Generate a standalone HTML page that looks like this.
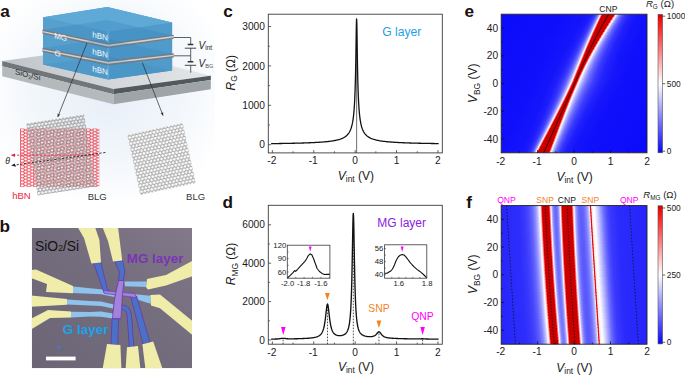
<!DOCTYPE html>
<html><head><meta charset="utf-8"><title>figure</title>
<style>
html,body{margin:0;padding:0;background:#fff;}
svg{display:block;font-family:"Liberation Sans", sans-serif;}
text{font-family:"Liberation Sans", sans-serif;}
</style></head><body>
<svg width="685" height="375" viewBox="0 0 685 375">
<rect width="685" height="375" fill="#ffffff"/>
<text x="223.2" y="17.2" font-size="17.2" font-weight="bold" fill="#1a1010">c</text>
<path d="M356.6 152.9 V22.56" stroke="#7c7c7c" stroke-width="1.1"/>
<path d="M271.11 143.63L271.94 143.62L272.76 143.61L273.59 143.6L274.42 143.59L275.25 143.58L276.08 143.57L276.9 143.55L277.73 143.54L278.56 143.53L279.39 143.52L280.22 143.5L281.04 143.49L281.87 143.48L282.7 143.46L283.53 143.45L284.36 143.44L285.18 143.42L286.01 143.41L286.84 143.39L287.67 143.37L288.5 143.36L289.32 143.34L290.15 143.33L290.98 143.31L291.81 143.29L292.64 143.27L293.46 143.25L294.29 143.23L295.12 143.21L295.95 143.19L296.78 143.17L297.6 143.15L298.43 143.13L299.26 143.11L300.09 143.08L300.92 143.06L301.74 143.03L302.57 143.01L303.4 142.98L304.23 142.96L305.06 142.93L305.88 142.9L306.71 142.87L307.54 142.84L308.37 142.81L309.2 142.77L310.02 142.74L310.85 142.7L311.68 142.67L312.51 142.63L313.34 142.59L314.16 142.55L314.99 142.5L315.82 142.46L316.65 142.41L317.48 142.37L318.3 142.32L319.13 142.26L319.96 142.21L320.79 142.15L321.62 142.09L322.44 142.03L323.27 141.96L324.1 141.89L324.93 141.82L325.76 141.74L326.58 141.66L327.41 141.57L328.24 141.48L329.07 141.38L329.9 141.28L330.72 141.17L331.55 141.05L332.38 140.93L333.21 140.8L334.04 140.65L334.86 140.5L335.69 140.33L336.52 140.15L337.35 139.96L338.18 139.75L339 139.51L339.83 139.26L340.66 138.98L341.49 138.66L342.32 138.31L343.14 137.92L343.97 137.48L344.8 136.97L345.63 136.39L346.46 135.72L347.28 134.92L348.11 133.98L348.94 132.83L349.11 132.57L349.27 132.29L349.44 132.01L349.6 131.71L349.77 131.4L349.93 131.08L350.1 130.73L350.26 130.37L350.43 129.99L350.6 129.59L350.76 129.17L350.93 128.72L351.09 128.25L351.26 127.75L351.42 127.22L351.59 126.65L351.76 126.05L351.92 125.4L352.09 124.71L352.25 123.97L352.42 123.18L352.58 122.31L352.75 121.38L352.91 120.37L353.08 119.28L353.25 118.07L353.41 116.76L353.58 115.31L353.74 113.7L353.91 111.92L354.07 109.93L354.24 107.7L354.4 105.17L354.57 102.29L354.74 99L354.9 95.21L355.07 90.79L355.23 85.63L355.4 79.56L355.56 72.4L355.73 63.99L355.9 54.27L356.06 43.49L356.23 32.58L356.39 23.47L356.56 18.83L356.72 20.43L356.89 27.64L357.05 37.96L357.22 48.97L357.39 59.28L357.55 68.36L357.72 76.13L357.88 82.72L358.05 88.32L358.21 93.08L358.38 97.17L358.54 100.71L358.71 103.78L358.88 106.47L359.04 108.85L359.21 110.96L359.37 112.84L359.54 114.53L359.7 116.05L359.87 117.43L360.04 118.69L360.2 119.84L360.37 120.89L360.53 121.86L360.7 122.75L360.86 123.58L361.03 124.35L361.19 125.07L361.36 125.73L361.53 126.36L361.69 126.94L361.86 127.49L362.02 128.01L362.19 128.49L362.35 128.95L362.52 129.38L362.68 129.8L362.85 130.19L363.02 130.56L363.18 130.91L363.35 131.24L363.51 131.56L363.68 131.86L363.84 132.15L364.01 132.43L364.18 132.7L364.34 132.95L364.51 133.2L364.67 133.43L364.84 133.66L365 133.87L365.83 134.84L366.66 135.64L367.49 136.33L368.32 136.92L369.14 137.43L369.97 137.88L370.8 138.28L371.63 138.63L372.46 138.95L373.28 139.23L374.11 139.49L374.94 139.72L375.77 139.94L376.6 140.13L377.42 140.32L378.25 140.48L379.08 140.64L379.91 140.78L380.74 140.92L381.56 141.04L382.39 141.16L383.22 141.27L384.05 141.37L384.88 141.47L385.7 141.56L386.53 141.65L387.36 141.73L388.19 141.81L389.02 141.88L389.84 141.95L390.67 142.02L391.5 142.08L392.33 142.14L393.16 142.2L393.98 142.26L394.81 142.31L395.64 142.36L396.47 142.41L397.3 142.46L398.12 142.5L398.95 142.54L399.78 142.58L400.61 142.62L401.44 142.66L402.26 142.7L403.09 142.74L403.92 142.77L404.75 142.8L405.58 142.84L406.4 142.87L407.23 142.9L408.06 142.93L408.89 142.95L409.72 142.98L410.54 143.01L411.37 143.03L412.2 143.06L413.03 143.08L413.86 143.1L414.68 143.13L415.51 143.15L416.34 143.17L417.17 143.19L418 143.21L418.82 143.23L419.65 143.25L420.48 143.27L421.31 143.29L422.14 143.31L422.96 143.32L423.79 143.34L424.62 143.36L425.45 143.37L426.28 143.39L427.1 143.4L427.93 143.42L428.76 143.43L429.59 143.45L430.42 143.46L431.24 143.48L432.07 143.49L432.9 143.5L433.73 143.52L434.56 143.53L435.38 143.54L436.21 143.55L437.04 143.56L437.87 143.58L438.7 143.59" fill="none" stroke="#111" stroke-width="1.3" stroke-linejoin="round"/>
<rect x="268.3" y="14.2" width="174" height="138.7" fill="none" stroke="#3a3a3a" stroke-width="0.9"/>
<path d="M272.35 152.9v-2.8M313.75 152.9v-2.8M355.15 152.9v-2.8M396.55 152.9v-2.8M437.95 152.9v-2.8" stroke="#3a3a3a" stroke-width="0.8" fill="none"/>
<path d="M293.05 152.9v-1.6M334.45 152.9v-1.6M375.85 152.9v-1.6M417.25 152.9v-1.6" stroke="#3a3a3a" stroke-width="0.8" fill="none"/>
<path d="M268.3 144.7h2.8M268.3 105.3h2.8M268.3 65.9h2.8M268.3 26.5h2.8" stroke="#3a3a3a" stroke-width="0.8" fill="none"/>
<path d="M268.3 125h1.6M268.3 85.6h1.6M268.3 46.2h1.6" stroke="#3a3a3a" stroke-width="0.8" fill="none"/>
<text x="271.85" y="164.35" font-size="10.2" text-anchor="middle" fill="#1a1a1a">-2</text>
<text x="313.25" y="164.35" font-size="10.2" text-anchor="middle" fill="#1a1a1a">-1</text>
<text x="355.15" y="164.35" font-size="10.2" text-anchor="middle" fill="#1a1a1a">0</text>
<text x="396.55" y="164.35" font-size="10.2" text-anchor="middle" fill="#1a1a1a">1</text>
<text x="437.95" y="164.35" font-size="10.2" text-anchor="middle" fill="#1a1a1a">2</text>
<text x="264.9" y="148.35" font-size="10.2" text-anchor="end" fill="#1a1a1a">0</text>
<text x="264.9" y="108.95" font-size="10.2" text-anchor="end" fill="#1a1a1a">1000</text>
<text x="264.9" y="69.55" font-size="10.2" text-anchor="end" fill="#1a1a1a">2000</text>
<text x="264.9" y="30.15" font-size="10.2" text-anchor="end" fill="#1a1a1a">3000</text>
<text x="355.9" y="179.8" font-size="12" text-anchor="middle" fill="#1a1a1a"><tspan font-style="italic">V</tspan><tspan font-size="8.4" dy="2.6">int</tspan><tspan dy="-2.6"> (V)</tspan></text>
<text transform="translate(234.8 72.8) rotate(-90)" font-size="12" text-anchor="middle" fill="#1a1a1a"><tspan font-style="italic">R</tspan><tspan font-size="8.4" dy="2.6">G</tspan><tspan dy="-2.6"> (&#937;)</tspan></text>
<text x="401.8" y="35.7" font-size="12.2" text-anchor="middle" fill="#1f9fe6">G layer</text>
<text x="222.6" y="208" font-size="17.2" font-weight="bold" fill="#1a1010">d</text>
<path d="M327.49 344.2V304.05" stroke="#222" stroke-width="0.8" stroke-dasharray="1.6 1.4"/>
<path d="M353.33 344.2V213.38" stroke="#222" stroke-width="0.8" stroke-dasharray="1.6 1.4"/>
<path d="M378.95 344.2V331.75" stroke="#222" stroke-width="0.8" stroke-dasharray="1.6 1.4"/>
<path d="M283.11 344.2V338.3" stroke="#222" stroke-width="0.8" stroke-dasharray="1.6 1.4"/>
<path d="M422.63 344.2V338.77" stroke="#222" stroke-width="0.8" stroke-dasharray="1.6 1.4"/>
<path d="M271.11 339.08L271.73 339.08L272.35 339.07L272.97 339.07L273.59 339.06L274.21 339.06L274.83 339.05L275.45 339.04L276.08 339.02L276.7 339L277.32 338.97L277.94 338.93L278.56 338.87L279.18 338.79L279.8 338.7L280.42 338.6L281.04 338.5L281.66 338.41L282.29 338.34L282.91 338.3L283.53 338.3L284.15 338.34L284.77 338.4L285.39 338.48L286.01 338.57L286.63 338.65L287.25 338.72L287.87 338.78L288.5 338.81L289.12 338.84L289.74 338.85L290.36 338.85L290.98 338.85L291.6 338.84L292.22 338.83L292.84 338.82L293.46 338.81L294.08 338.8L294.71 338.78L295.33 338.77L295.95 338.75L296.57 338.74L297.19 338.72L297.81 338.71L298.43 338.69L299.05 338.67L299.67 338.65L300.29 338.63L300.92 338.61L301.54 338.59L302.16 338.56L302.78 338.54L303.4 338.51L304.02 338.48L304.64 338.45L305.26 338.42L305.88 338.39L306.5 338.35L307.13 338.31L307.75 338.27L308.37 338.22L308.99 338.17L309.61 338.12L310.23 338.06L310.85 338L311.47 337.93L312.09 337.85L312.71 337.77L313.34 337.67L313.96 337.56L314.58 337.44L315.2 337.31L315.82 337.15L316.44 336.97L317.06 336.77L317.68 336.53L318.3 336.24L318.92 335.9L319.55 335.49L319.71 335.37L319.88 335.24L320.04 335.1L320.21 334.95L320.37 334.8L320.54 334.63L320.71 334.46L320.87 334.28L321.04 334.08L321.2 333.87L321.37 333.65L321.53 333.41L321.7 333.16L321.86 332.89L322.03 332.6L322.2 332.29L322.36 331.96L322.53 331.6L322.69 331.21L322.86 330.8L323.02 330.36L323.19 329.87L323.35 329.36L323.52 328.8L323.69 328.19L323.85 327.54L324.02 326.83L324.18 326.07L324.35 325.24L324.51 324.35L324.68 323.39L324.85 322.36L325.01 321.25L325.18 320.07L325.34 318.81L325.51 317.48L325.67 316.09L325.84 314.64L326 313.17L326.17 311.68L326.34 310.22L326.5 308.81L326.67 307.51L326.83 306.35L327 305.39L327.16 304.66L327.33 304.21L327.49 304.05L327.66 304.19L327.83 304.63L327.99 305.34L328.16 306.29L328.32 307.43L328.49 308.71L328.65 310.1L328.82 311.55L328.99 313.02L329.15 314.48L329.32 315.91L329.48 317.28L329.65 318.6L329.81 319.84L329.98 321L330.14 322.1L330.31 323.11L330.48 324.06L330.64 324.93L330.81 325.74L330.97 326.48L331.14 327.17L331.3 327.81L331.47 328.4L331.63 328.94L331.8 329.44L331.97 329.9L332.13 330.33L332.3 330.72L332.46 331.09L332.63 331.43L332.79 331.74L332.96 332.03L333.13 332.31L333.29 332.56L333.46 332.79L333.62 333.01L333.79 333.21L333.95 333.4L334.12 333.57L334.28 333.74L334.45 333.89L334.62 334.03L334.78 334.17L334.95 334.29L335.11 334.41L335.28 334.52L335.44 334.62L335.61 334.71L335.77 334.8L335.94 334.88L336.56 335.14L337.18 335.34L337.8 335.48L338.42 335.58L339.05 335.64L339.67 335.66L340.29 335.64L340.91 335.59L341.53 335.51L342.15 335.38L342.77 335.21L343.39 334.99L344.01 334.71L344.63 334.35L345.26 333.89L345.42 333.75L345.59 333.6L345.75 333.44L345.92 333.27L346.08 333.08L346.25 332.88L346.41 332.67L346.58 332.44L346.75 332.19L346.91 331.93L347.08 331.64L347.24 331.34L347.41 331L347.57 330.64L347.74 330.25L347.9 329.83L348.07 329.36L348.24 328.86L348.4 328.3L348.57 327.7L348.73 327.03L348.9 326.3L349.06 325.49L349.23 324.59L349.4 323.59L349.56 322.48L349.73 321.24L349.89 319.85L350.06 318.29L350.22 316.53L350.39 314.53L350.55 312.27L350.72 309.69L350.89 306.74L351.05 303.36L351.22 299.48L351.38 295.02L351.55 289.9L351.71 284.04L351.88 277.37L352.04 269.84L352.21 261.48L352.38 252.42L352.54 242.97L352.71 233.64L352.87 225.16L353.04 218.43L353.2 214.34L353.37 213.49L353.54 216.01L353.7 221.53L353.87 229.25L354.03 238.27L354.2 247.75L354.36 257.05L354.53 265.79L354.69 273.75L354.86 280.85L355.03 287.12L355.19 292.6L355.36 297.38L355.52 301.55L355.69 305.17L355.85 308.33L356.02 311.1L356.18 313.52L356.35 315.65L356.52 317.53L356.68 319.19L356.85 320.67L357.01 321.99L357.18 323.17L357.34 324.22L357.51 325.17L357.68 326.03L357.84 326.81L358.01 327.51L358.17 328.15L358.34 328.74L358.5 329.27L358.67 329.76L358.83 330.21L359 330.63L359.17 331.01L359.33 331.36L359.5 331.69L359.66 331.99L359.83 332.28L359.99 332.54L360.16 332.78L360.32 333.01L360.49 333.23L360.66 333.43L360.82 333.61L360.99 333.79L361.15 333.95L361.32 334.11L361.48 334.25L361.65 334.39L362.27 334.84L362.89 335.21L363.51 335.51L364.13 335.76L364.75 335.97L365.38 336.14L366 336.29L366.62 336.4L367.24 336.5L367.86 336.57L368.48 336.63L369.1 336.66L369.72 336.68L370.34 336.68L370.96 336.65L371.59 336.59L372.21 336.5L372.83 336.37L373.45 336.19L374.07 335.95L374.69 335.62L375.31 335.2L375.93 334.65L376.55 333.98L377.17 333.22L377.8 332.46L378.42 331.91L379.04 331.76L379.66 332.1L380.28 332.79L380.9 333.63L381.52 334.45L382.14 335.15L382.76 335.73L383.38 336.2L384.01 336.58L384.63 336.88L385.25 337.12L385.87 337.32L386.49 337.48L387.11 337.62L387.73 337.74L388.35 337.84L388.97 337.93L389.59 338L390.22 338.07L390.84 338.13L391.46 338.19L392.08 338.23L392.7 338.28L393.32 338.32L393.94 338.36L394.56 338.39L395.18 338.42L395.8 338.45L396.43 338.48L397.05 338.51L397.67 338.53L398.29 338.55L398.91 338.58L399.53 338.6L400.15 338.62L400.77 338.63L401.39 338.65L402.01 338.67L402.64 338.69L403.26 338.7L403.88 338.72L404.5 338.73L405.12 338.75L405.74 338.76L406.36 338.77L406.98 338.78L407.6 338.8L408.22 338.81L408.85 338.82L409.47 338.83L410.09 338.84L410.71 338.85L411.33 338.86L411.95 338.87L412.57 338.88L413.19 338.89L413.81 338.9L414.43 338.91L415.06 338.91L415.68 338.92L416.3 338.92L416.92 338.93L417.54 338.92L418.16 338.92L418.78 338.9L419.4 338.88L420.02 338.85L420.64 338.82L421.27 338.79L421.89 338.77L422.51 338.77L423.13 338.78L423.75 338.81L424.37 338.84L424.99 338.88L425.61 338.93L426.23 338.96L426.85 338.99L427.48 339.02L428.1 339.03L428.72 339.05L429.34 339.06L429.96 339.06L430.58 339.07L431.2 339.07L431.82 339.08L432.44 339.08L433.06 339.09L433.69 339.09L434.31 339.09L434.93 339.1L435.55 339.1L436.17 339.11L436.79 339.11L437.41 339.11L438.03 339.12L438.65 339.12" fill="none" stroke="#111" stroke-width="1.35" stroke-linejoin="round"/>
<rect x="268.3" y="205.3" width="174" height="138.9" fill="none" stroke="#3a3a3a" stroke-width="0.9"/>
<path d="M272.35 344.2v-2.8M313.75 344.2v-2.8M355.15 344.2v-2.8M396.55 344.2v-2.8M437.95 344.2v-2.8" stroke="#3a3a3a" stroke-width="0.8" fill="none"/>
<path d="M293.05 344.2v-1.6M334.45 344.2v-1.6M375.85 344.2v-1.6M417.25 344.2v-1.6" stroke="#3a3a3a" stroke-width="0.8" fill="none"/>
<path d="M268.3 340h2.8M268.3 301.6h2.8M268.3 263.2h2.8M268.3 224.8h2.8" stroke="#3a3a3a" stroke-width="0.8" fill="none"/>
<path d="M268.3 320.8h1.6M268.3 282.4h1.6M268.3 244h1.6" stroke="#3a3a3a" stroke-width="0.8" fill="none"/>
<text x="271.85" y="355.65" font-size="10.2" text-anchor="middle" fill="#1a1a1a">-2</text>
<text x="313.25" y="355.65" font-size="10.2" text-anchor="middle" fill="#1a1a1a">-1</text>
<text x="355.15" y="355.65" font-size="10.2" text-anchor="middle" fill="#1a1a1a">0</text>
<text x="396.55" y="355.65" font-size="10.2" text-anchor="middle" fill="#1a1a1a">1</text>
<text x="437.95" y="355.65" font-size="10.2" text-anchor="middle" fill="#1a1a1a">2</text>
<text x="264.9" y="343.65" font-size="10.2" text-anchor="end" fill="#1a1a1a">0</text>
<text x="264.9" y="305.25" font-size="10.2" text-anchor="end" fill="#1a1a1a">2000</text>
<text x="264.9" y="266.85" font-size="10.2" text-anchor="end" fill="#1a1a1a">4000</text>
<text x="264.9" y="228.45" font-size="10.2" text-anchor="end" fill="#1a1a1a">6000</text>
<text x="356" y="370.8" font-size="12" text-anchor="middle" fill="#1a1a1a"><tspan font-style="italic">V</tspan><tspan font-size="8.4" dy="2.6">int</tspan><tspan dy="-2.6"> (V)</tspan></text>
<text transform="translate(235.2 263.9) rotate(-90)" font-size="12" text-anchor="middle" fill="#1a1a1a"><tspan font-style="italic">R</tspan><tspan font-size="8.4" dy="2.6">MG</tspan><tspan dy="-2.6"> (&#937;)</tspan></text>
<text x="401.7" y="227" font-size="12" text-anchor="middle" fill="#8a22e0">MG layer</text>
<path d="M325 292.9h4.8L327.4 300.3z" fill="#f5821f"/>
<path d="M376.5 320.4h4.8L378.9 327.9z" fill="#f5821f"/>
<path d="M281 327h4.6L283.3 335z" fill="#ff00ff"/>
<path d="M420.3 327h4.6L422.6 335z" fill="#ff00ff"/>
<text x="379" y="312.3" font-size="10.4" text-anchor="middle" fill="#f5821f">SNP</text>
<text x="422.4" y="319.7" font-size="10.4" text-anchor="middle" fill="#ff00ff">QNP</text>
<rect x="287.3" y="245.2" width="42.6" height="33" fill="#fff"/>
<path d="M287.3 278L290 275.6L293 272.6L294.6 270.6L295.6 271.4L297 270L300 266.6L304.7 261.6L306.5 259L308.3 255.6L310.2 253.9L311.8 254.8L313.5 258.5L315.3 263.5L317.1 268.5L319.5 271.5L322 273.4L324.5 274.5L327 274.2L329.9 274.4" fill="none" stroke="#111" stroke-width="1.1" stroke-linejoin="round"/>
<rect x="287.3" y="245.2" width="42.6" height="33" fill="none" stroke="#3a3a3a" stroke-width="0.8"/>
<path d="M295.7 278.2v-1.4M304.1 278.2v-1.4M312.5 278.2v-1.4M320.9 278.2v-1.4M329.3 278.2v-1.4" stroke="#3a3a3a" stroke-width="0.6" fill="none"/>
<path d="M287.3 258.6h1.4M287.3 272h1.4M287.3 251.9h1.4M287.3 265.3h1.4" stroke="#3a3a3a" stroke-width="0.6" fill="none"/>
<text x="286.2" y="247.86" font-size="7.7" text-anchor="end" fill="#1a1a1a">120</text>
<text x="286.2" y="261.26" font-size="7.7" text-anchor="end" fill="#1a1a1a">90</text>
<text x="286.2" y="274.76" font-size="7.7" text-anchor="end" fill="#1a1a1a">60</text>
<text x="287.6" y="286.16" font-size="7.7" text-anchor="middle" fill="#1a1a1a">-2.0</text>
<text x="303.7" y="286.16" font-size="7.7" text-anchor="middle" fill="#1a1a1a">-1.8</text>
<text x="320.9" y="286.16" font-size="7.7" text-anchor="middle" fill="#1a1a1a">-1.6</text>
<path d="M308.75 246.6h2.9L310.2 251.6z" fill="#ff00ff"/>
<rect x="384.6" y="244.8" width="42.2" height="33.4" fill="#fff"/>
<path d="M384.6 273.3L387 273.2L389 272L390.8 271L392.5 269L394.4 265L396.3 260.2L398.2 257L400.2 255.2L402.2 254.4L404 255L405.7 256.6L407.4 258.8L410 262.4L412.3 265L414.4 267.1L417 269.4L419.5 271.2L421.3 272.7L424 275L426.8 277.9" fill="none" stroke="#111" stroke-width="1.1" stroke-linejoin="round"/>
<rect x="384.6" y="244.8" width="42.2" height="33.4" fill="none" stroke="#3a3a3a" stroke-width="0.8"/>
<path d="M398.8 278.2v-1.4M412.8 278.2v-1.4M391.8 278.2v-1.4M405.8 278.2v-1.4M419.8 278.2v-1.4" stroke="#3a3a3a" stroke-width="0.6" fill="none"/>
<path d="M384.6 248.4h1.4M384.6 261.6h1.4M384.6 274.7h1.4M384.6 255h1.4M384.6 268.1h1.4" stroke="#3a3a3a" stroke-width="0.6" fill="none"/>
<text x="383.4" y="251.16" font-size="7.7" text-anchor="end" fill="#1a1a1a">56</text>
<text x="383.4" y="264.36" font-size="7.7" text-anchor="end" fill="#1a1a1a">48</text>
<text x="383.4" y="277.46" font-size="7.7" text-anchor="end" fill="#1a1a1a">40</text>
<text x="398.8" y="285.76" font-size="7.7" text-anchor="middle" fill="#1a1a1a">1.6</text>
<text x="427.2" y="285.76" font-size="7.7" text-anchor="middle" fill="#1a1a1a">1.8</text>
<path d="M400.75 246.6h2.9L402.2 251.9z" fill="#ff00ff"/>
<text x="464.6" y="17.2" font-size="17.2" font-weight="bold" fill="#1a1010">e</text>
<defs><linearGradient id="e0" gradientUnits="userSpaceOnUse" x1="506.68" x2="717.68" y1="0" y2="0"><stop offset="0" stop-color="#0b0bfc"/><stop offset=".2844" stop-color="#0e0efc"/><stop offset=".4281" stop-color="#1a1afc"/><stop offset=".4455" stop-color="#2a2afc"/><stop offset=".4518" stop-color="#3838fd"/><stop offset=".4581" stop-color="#4f4ffd"/><stop offset=".4629" stop-color="#6969fd"/><stop offset=".4676" stop-color="#8e8efe"/><stop offset=".4724" stop-color="#c4c4fe"/><stop offset=".4755" stop-color="#f5f5ff"/><stop offset=".4771" stop-color="#ffe9e9"/><stop offset=".4834" stop-color="#fc2a2a"/><stop offset=".485" stop-color="#d30101"/><stop offset=".4866" stop-color="#c80000"/><stop offset=".5403" stop-color="#c80000"/><stop offset=".5419" stop-color="#fc2121"/><stop offset=".5482" stop-color="#ffe0e0"/><stop offset=".5498" stop-color="#fffbfb"/><stop offset=".5513" stop-color="#f3f3ff"/><stop offset=".5561" stop-color="#c9c9fe"/><stop offset=".5624" stop-color="#9d9dfe"/><stop offset=".5687" stop-color="#7c7cfd"/><stop offset=".5766" stop-color="#5d5dfd"/><stop offset=".594" stop-color="#3636fd"/><stop offset=".6193" stop-color="#1f1ffc"/><stop offset=".6509" stop-color="#1515fc"/><stop offset=".7062" stop-color="#1010fc"/><stop offset="1" stop-color="#0b0bfc"/></linearGradient><linearGradient id="e1" gradientUnits="userSpaceOnUse" x1="506.68" x2="717.68" y1="0" y2="0"><stop offset="0" stop-color="#0b0bfc"/><stop offset=".2938" stop-color="#0f0ffc"/><stop offset=".3981" stop-color="#1414fc"/><stop offset=".4281" stop-color="#1b1bfc"/><stop offset=".4455" stop-color="#2d2dfc"/><stop offset=".4518" stop-color="#3c3cfd"/><stop offset=".4581" stop-color="#5353fd"/><stop offset=".4629" stop-color="#6e6efd"/><stop offset=".4676" stop-color="#9494fe"/><stop offset=".4724" stop-color="#cacafe"/><stop offset=".4755" stop-color="#fbfbff"/><stop offset=".4771" stop-color="#ffe0e0"/><stop offset=".4834" stop-color="#fc2121"/><stop offset=".485" stop-color="#c80000"/><stop offset=".5371" stop-color="#c80000"/><stop offset=".5387" stop-color="#fc1515"/><stop offset=".545" stop-color="#fed4d4"/><stop offset=".5466" stop-color="#fff6f6"/><stop offset=".5482" stop-color="#f7f7ff"/><stop offset=".5545" stop-color="#c2c2fe"/><stop offset=".5608" stop-color="#9999fe"/><stop offset=".5671" stop-color="#7a7afd"/><stop offset=".575" stop-color="#5d5dfd"/><stop offset=".5924" stop-color="#3737fd"/><stop offset=".6177" stop-color="#1f1ffc"/><stop offset=".6493" stop-color="#1515fc"/><stop offset=".7062" stop-color="#1010fc"/><stop offset="1" stop-color="#0b0bfc"/></linearGradient><linearGradient id="e2" gradientUnits="userSpaceOnUse" x1="506.68" x2="717.68" y1="0" y2="0"><stop offset="0" stop-color="#0b0bfc"/><stop offset=".2938" stop-color="#0f0ffc"/><stop offset=".3949" stop-color="#1414fc"/><stop offset=".4265" stop-color="#1b1bfc"/><stop offset=".4455" stop-color="#2f2ffc"/><stop offset=".4518" stop-color="#3f3ffd"/><stop offset=".4581" stop-color="#5757fd"/><stop offset=".4629" stop-color="#7272fd"/><stop offset=".4676" stop-color="#9999fe"/><stop offset=".4724" stop-color="#cfcffe"/><stop offset=".4755" stop-color="#ffffff"/><stop offset=".4771" stop-color="#ffdada"/><stop offset=".4834" stop-color="#fc1b1b"/><stop offset=".485" stop-color="#c80000"/><stop offset=".534" stop-color="#c80000"/><stop offset=".5355" stop-color="#fc0606"/><stop offset=".5434" stop-color="#fff0f0"/><stop offset=".545" stop-color="#fdfdff"/><stop offset=".5513" stop-color="#c8c8fe"/><stop offset=".5577" stop-color="#9e9efe"/><stop offset=".564" stop-color="#7f7ffd"/><stop offset=".5719" stop-color="#6161fd"/><stop offset=".5908" stop-color="#3737fd"/><stop offset=".6161" stop-color="#2020fc"/><stop offset=".6477" stop-color="#1515fc"/><stop offset=".7046" stop-color="#1010fc"/><stop offset="1" stop-color="#0b0bfc"/></linearGradient><linearGradient id="e3" gradientUnits="userSpaceOnUse" x1="506.68" x2="717.68" y1="0" y2="0"><stop offset="0" stop-color="#0b0bfc"/><stop offset=".2954" stop-color="#0f0ffc"/><stop offset=".3934" stop-color="#1414fc"/><stop offset=".425" stop-color="#1b1bfc"/><stop offset=".4439" stop-color="#2e2efc"/><stop offset=".4566" stop-color="#5353fd"/><stop offset=".4629" stop-color="#7676fd"/><stop offset=".4676" stop-color="#9d9dfe"/><stop offset=".4708" stop-color="#bebefe"/><stop offset=".4755" stop-color="#fffcfc"/><stop offset=".4771" stop-color="#ffd6d6"/><stop offset=".4834" stop-color="#fc1717"/><stop offset=".485" stop-color="#c80000"/><stop offset=".5324" stop-color="#c80000"/><stop offset=".534" stop-color="#fc2222"/><stop offset=".5403" stop-color="#ffe1e1"/><stop offset=".5419" stop-color="#fffafa"/><stop offset=".5434" stop-color="#f5f5ff"/><stop offset=".5498" stop-color="#c3c3fe"/><stop offset=".5561" stop-color="#9c9cfe"/><stop offset=".5624" stop-color="#7d7dfd"/><stop offset=".5703" stop-color="#6161fd"/><stop offset=".5893" stop-color="#3838fd"/><stop offset=".6161" stop-color="#1f1ffc"/><stop offset=".6493" stop-color="#1515fc"/><stop offset=".7062" stop-color="#1010fc"/><stop offset="1" stop-color="#0b0bfc"/></linearGradient><linearGradient id="e4" gradientUnits="userSpaceOnUse" x1="506.68" x2="717.68" y1="0" y2="0"><stop offset="0" stop-color="#0b0bfc"/><stop offset=".2938" stop-color="#0f0ffc"/><stop offset=".3918" stop-color="#1414fc"/><stop offset=".4234" stop-color="#1b1bfc"/><stop offset=".4423" stop-color="#2d2dfc"/><stop offset=".4502" stop-color="#3f3ffd"/><stop offset=".4566" stop-color="#5656fd"/><stop offset=".4613" stop-color="#6f6ffd"/><stop offset=".466" stop-color="#9191fe"/><stop offset=".4708" stop-color="#c1c1fe"/><stop offset=".4755" stop-color="#fffcfc"/><stop offset=".4771" stop-color="#ffd5d5"/><stop offset=".4834" stop-color="#fc1717"/><stop offset=".485" stop-color="#c80000"/><stop offset=".5292" stop-color="#c80000"/><stop offset=".5308" stop-color="#fc0c0c"/><stop offset=".5371" stop-color="#fecbcb"/><stop offset=".5387" stop-color="#fff2f2"/><stop offset=".5403" stop-color="#fcfcff"/><stop offset=".5466" stop-color="#cacafe"/><stop offset=".5529" stop-color="#a2a2fe"/><stop offset=".5608" stop-color="#7d7dfd"/><stop offset=".5687" stop-color="#6161fd"/><stop offset=".5877" stop-color="#3939fd"/><stop offset=".6145" stop-color="#2020fc"/><stop offset=".6477" stop-color="#1616fc"/><stop offset=".7046" stop-color="#1010fc"/><stop offset="1" stop-color="#0b0bfc"/></linearGradient><linearGradient id="e5" gradientUnits="userSpaceOnUse" x1="506.68" x2="717.68" y1="0" y2="0"><stop offset="0" stop-color="#0b0bfc"/><stop offset=".3033" stop-color="#0f0ffc"/><stop offset=".3918" stop-color="#1414fc"/><stop offset=".4234" stop-color="#1c1cfc"/><stop offset=".4423" stop-color="#2f2ffc"/><stop offset=".4502" stop-color="#4141fd"/><stop offset=".4566" stop-color="#5858fd"/><stop offset=".4613" stop-color="#7171fd"/><stop offset=".466" stop-color="#9393fe"/><stop offset=".4708" stop-color="#c2c2fe"/><stop offset=".4755" stop-color="#fffcfc"/><stop offset=".4771" stop-color="#ffd7d7"/><stop offset=".4834" stop-color="#fc1919"/><stop offset=".485" stop-color="#c80000"/><stop offset=".5276" stop-color="#c80000"/><stop offset=".5292" stop-color="#fc2222"/><stop offset=".5355" stop-color="#ffe1e1"/><stop offset=".5371" stop-color="#fff9f9"/><stop offset=".5387" stop-color="#f6f6ff"/><stop offset=".545" stop-color="#c6c6fe"/><stop offset=".5513" stop-color="#a0a0fe"/><stop offset=".5592" stop-color="#7c7cfd"/><stop offset=".5671" stop-color="#6161fd"/><stop offset=".5877" stop-color="#3737fd"/><stop offset=".6145" stop-color="#2020fc"/><stop offset=".6477" stop-color="#1616fc"/><stop offset=".7062" stop-color="#1010fc"/><stop offset="1" stop-color="#0b0bfc"/></linearGradient><linearGradient id="e6" gradientUnits="userSpaceOnUse" x1="506.68" x2="717.68" y1="0" y2="0"><stop offset="0" stop-color="#0b0bfc"/><stop offset=".3017" stop-color="#0f0ffc"/><stop offset=".3902" stop-color="#1414fc"/><stop offset=".4218" stop-color="#1c1cfc"/><stop offset=".4408" stop-color="#2e2efc"/><stop offset=".4487" stop-color="#3f3ffd"/><stop offset=".455" stop-color="#5454fd"/><stop offset=".4613" stop-color="#7373fd"/><stop offset=".466" stop-color="#9595fe"/><stop offset=".4708" stop-color="#c2c2fe"/><stop offset=".4755" stop-color="#fffefe"/><stop offset=".4771" stop-color="#ffdcdc"/><stop offset=".4834" stop-color="#fc1d1d"/><stop offset=".485" stop-color="#c80000"/><stop offset=".5245" stop-color="#c80000"/><stop offset=".5261" stop-color="#fc0404"/><stop offset=".534" stop-color="#fff0f0"/><stop offset=".5355" stop-color="#ffffff"/><stop offset=".5419" stop-color="#cfcffe"/><stop offset=".5498" stop-color="#a0a0fe"/><stop offset=".5577" stop-color="#7c7cfd"/><stop offset=".5656" stop-color="#6262fd"/><stop offset=".5861" stop-color="#3838fd"/><stop offset=".613" stop-color="#2121fc"/><stop offset=".6477" stop-color="#1616fc"/><stop offset=".7046" stop-color="#1010fc"/><stop offset="1" stop-color="#0b0bfc"/></linearGradient><linearGradient id="e7" gradientUnits="userSpaceOnUse" x1="506.68" x2="717.68" y1="0" y2="0"><stop offset="0" stop-color="#0b0bfc"/><stop offset=".3002" stop-color="#0f0ffc"/><stop offset=".3886" stop-color="#1414fc"/><stop offset=".4202" stop-color="#1c1cfc"/><stop offset=".4408" stop-color="#2f2ffc"/><stop offset=".4487" stop-color="#4040fd"/><stop offset=".455" stop-color="#5555fd"/><stop offset=".4613" stop-color="#7474fd"/><stop offset=".466" stop-color="#9595fe"/><stop offset=".4708" stop-color="#c1c1fe"/><stop offset=".4755" stop-color="#fdfdff"/><stop offset=".4771" stop-color="#ffe3e3"/><stop offset=".4834" stop-color="#fc2424"/><stop offset=".485" stop-color="#c80000"/><stop offset=".5229" stop-color="#c80000"/><stop offset=".5245" stop-color="#fc1313"/><stop offset=".5308" stop-color="#fed2d2"/><stop offset=".5324" stop-color="#fff4f4"/><stop offset=".534" stop-color="#fcfcff"/><stop offset=".5403" stop-color="#cdcdfe"/><stop offset=".5482" stop-color="#9f9ffe"/><stop offset=".5561" stop-color="#7d7dfd"/><stop offset=".564" stop-color="#6363fd"/><stop offset=".5845" stop-color="#3a3afd"/><stop offset=".613" stop-color="#2121fc"/><stop offset=".6477" stop-color="#1616fc"/><stop offset=".7062" stop-color="#1010fc"/><stop offset="1" stop-color="#0b0bfc"/></linearGradient><linearGradient id="e8" gradientUnits="userSpaceOnUse" x1="506.68" x2="717.68" y1="0" y2="0"><stop offset="0" stop-color="#0b0bfc"/><stop offset=".3065" stop-color="#1010fc"/><stop offset=".3886" stop-color="#1414fc"/><stop offset=".4202" stop-color="#1c1cfc"/><stop offset=".4408" stop-color="#3030fd"/><stop offset=".4487" stop-color="#4141fd"/><stop offset=".455" stop-color="#5656fd"/><stop offset=".4613" stop-color="#7575fd"/><stop offset=".466" stop-color="#9595fe"/><stop offset=".4708" stop-color="#c0c0fe"/><stop offset=".4755" stop-color="#f9f9ff"/><stop offset=".4771" stop-color="#ffeded"/><stop offset=".4834" stop-color="#fd2e2e"/><stop offset=".485" stop-color="#e60202"/><stop offset=".4866" stop-color="#c80000"/><stop offset=".5213" stop-color="#c80000"/><stop offset=".5229" stop-color="#fc1e1e"/><stop offset=".5292" stop-color="#ffdddd"/><stop offset=".5308" stop-color="#fff7f7"/><stop offset=".5324" stop-color="#f9f9ff"/><stop offset=".5387" stop-color="#ccccfe"/><stop offset=".5466" stop-color="#a0a0fe"/><stop offset=".5545" stop-color="#7e7efd"/><stop offset=".564" stop-color="#6060fd"/><stop offset=".5845" stop-color="#3939fd"/><stop offset=".613" stop-color="#2121fc"/><stop offset=".6493" stop-color="#1616fc"/><stop offset=".7077" stop-color="#1010fc"/><stop offset="1" stop-color="#0b0bfc"/></linearGradient><linearGradient id="e9" gradientUnits="userSpaceOnUse" x1="506.68" x2="717.68" y1="0" y2="0"><stop offset="0" stop-color="#0b0bfc"/><stop offset=".3033" stop-color="#1010fc"/><stop offset=".3855" stop-color="#1414fc"/><stop offset=".4186" stop-color="#1c1cfc"/><stop offset=".4392" stop-color="#2f2ffc"/><stop offset=".4471" stop-color="#3e3efd"/><stop offset=".455" stop-color="#5757fd"/><stop offset=".4613" stop-color="#7575fd"/><stop offset=".466" stop-color="#9494fe"/><stop offset=".4708" stop-color="#bdbdfe"/><stop offset=".4755" stop-color="#f4f4ff"/><stop offset=".4771" stop-color="#fff4f4"/><stop offset=".4787" stop-color="#fec9c9"/><stop offset=".485" stop-color="#fc0a0a"/><stop offset=".4866" stop-color="#c80000"/><stop offset=".5197" stop-color="#c80000"/><stop offset=".5213" stop-color="#fc2525"/><stop offset=".5276" stop-color="#ffe4e4"/><stop offset=".5292" stop-color="#fff9f9"/><stop offset=".5308" stop-color="#f8f8ff"/><stop offset=".5371" stop-color="#ccccfe"/><stop offset=".545" stop-color="#a1a1fe"/><stop offset=".5529" stop-color="#7f7ffd"/><stop offset=".5624" stop-color="#6262fd"/><stop offset=".5845" stop-color="#3838fd"/><stop offset=".613" stop-color="#2121fc"/><stop offset=".6493" stop-color="#1616fc"/><stop offset=".7093" stop-color="#1010fc"/><stop offset="1" stop-color="#0b0bfc"/></linearGradient><linearGradient id="e10" gradientUnits="userSpaceOnUse" x1="506.68" x2="717.68" y1="0" y2="0"><stop offset="0" stop-color="#0b0bfc"/><stop offset=".3081" stop-color="#1010fc"/><stop offset=".387" stop-color="#1414fc"/><stop offset=".4186" stop-color="#1c1cfc"/><stop offset=".4392" stop-color="#3030fd"/><stop offset=".4471" stop-color="#3f3ffd"/><stop offset=".455" stop-color="#5858fd"/><stop offset=".4613" stop-color="#7575fd"/><stop offset=".466" stop-color="#9393fe"/><stop offset=".4708" stop-color="#bbbbfe"/><stop offset=".4755" stop-color="#efefff"/><stop offset=".4771" stop-color="#fffafa"/><stop offset=".4787" stop-color="#ffd7d7"/><stop offset=".485" stop-color="#fc1919"/><stop offset=".4866" stop-color="#c80000"/><stop offset=".5182" stop-color="#c80000"/><stop offset=".5197" stop-color="#fc2828"/><stop offset=".5261" stop-color="#ffe7e7"/><stop offset=".5276" stop-color="#fffafa"/><stop offset=".5292" stop-color="#f8f8ff"/><stop offset=".5355" stop-color="#cdcdfe"/><stop offset=".5434" stop-color="#a2a2fe"/><stop offset=".5513" stop-color="#8181fd"/><stop offset=".5608" stop-color="#6464fd"/><stop offset=".5829" stop-color="#3a3afd"/><stop offset=".6114" stop-color="#2222fc"/><stop offset=".6477" stop-color="#1616fc"/><stop offset=".7077" stop-color="#1010fc"/><stop offset="1" stop-color="#0b0bfc"/></linearGradient><linearGradient id="e11" gradientUnits="userSpaceOnUse" x1="506.68" x2="717.68" y1="0" y2="0"><stop offset="0" stop-color="#0b0bfc"/><stop offset=".3128" stop-color="#1010fc"/><stop offset=".387" stop-color="#1515fc"/><stop offset=".4186" stop-color="#1d1dfc"/><stop offset=".4392" stop-color="#3030fd"/><stop offset=".4471" stop-color="#4040fd"/><stop offset=".455" stop-color="#5858fd"/><stop offset=".4613" stop-color="#7474fd"/><stop offset=".4676" stop-color="#9d9dfe"/><stop offset=".4724" stop-color="#c6c6fe"/><stop offset=".4771" stop-color="#fcfcff"/><stop offset=".4787" stop-color="#ffe8e8"/><stop offset=".485" stop-color="#fc2929"/><stop offset=".4866" stop-color="#cb0000"/><stop offset=".5166" stop-color="#c80000"/><stop offset=".5182" stop-color="#fc2828"/><stop offset=".5245" stop-color="#ffe6e6"/><stop offset=".5261" stop-color="#fff9f9"/><stop offset=".5276" stop-color="#f8f8ff"/><stop offset=".5355" stop-color="#c5c5fe"/><stop offset=".5434" stop-color="#9d9dfe"/><stop offset=".5513" stop-color="#7e7efd"/><stop offset=".5608" stop-color="#6262fd"/><stop offset=".5829" stop-color="#3a3afd"/><stop offset=".613" stop-color="#2121fc"/><stop offset=".6509" stop-color="#1616fc"/><stop offset=".7109" stop-color="#1010fc"/><stop offset="1" stop-color="#0b0bfc"/></linearGradient><linearGradient id="e12" gradientUnits="userSpaceOnUse" x1="506.68" x2="717.68" y1="0" y2="0"><stop offset="0" stop-color="#0b0bfc"/><stop offset=".3081" stop-color="#1010fc"/><stop offset=".3839" stop-color="#1414fc"/><stop offset=".4171" stop-color="#1d1dfc"/><stop offset=".4392" stop-color="#3131fd"/><stop offset=".4471" stop-color="#4040fd"/><stop offset=".455" stop-color="#5858fd"/><stop offset=".4613" stop-color="#7373fd"/><stop offset=".4676" stop-color="#9a9afe"/><stop offset=".4724" stop-color="#c2c2fe"/><stop offset=".4771" stop-color="#f5f5ff"/><stop offset=".4787" stop-color="#fff4f4"/><stop offset=".4803" stop-color="#fecaca"/><stop offset=".4866" stop-color="#fc0c0c"/><stop offset=".4882" stop-color="#c80000"/><stop offset=".515" stop-color="#c80000"/><stop offset=".5166" stop-color="#fc2323"/><stop offset=".5229" stop-color="#ffe1e1"/><stop offset=".5245" stop-color="#fff8f8"/><stop offset=".5261" stop-color="#fafaff"/><stop offset=".534" stop-color="#c7c7fe"/><stop offset=".5419" stop-color="#a0a0fe"/><stop offset=".5513" stop-color="#7b7bfd"/><stop offset=".5608" stop-color="#6161fd"/><stop offset=".5829" stop-color="#3a3afd"/><stop offset=".613" stop-color="#2222fc"/><stop offset=".6509" stop-color="#1616fc"/><stop offset=".7109" stop-color="#1010fc"/><stop offset="1" stop-color="#0b0bfc"/></linearGradient><linearGradient id="e13" gradientUnits="userSpaceOnUse" x1="506.68" x2="717.68" y1="0" y2="0"><stop offset="0" stop-color="#0b0bfc"/><stop offset=".3112" stop-color="#1010fc"/><stop offset=".3839" stop-color="#1515fc"/><stop offset=".4171" stop-color="#1d1dfc"/><stop offset=".4392" stop-color="#3131fd"/><stop offset=".455" stop-color="#5757fd"/><stop offset=".4613" stop-color="#7272fd"/><stop offset=".4676" stop-color="#9898fe"/><stop offset=".4724" stop-color="#bdbdfe"/><stop offset=".4787" stop-color="#fffdfd"/><stop offset=".4803" stop-color="#ffdede"/><stop offset=".4866" stop-color="#fc2020"/><stop offset=".4882" stop-color="#c80000"/><stop offset=".5134" stop-color="#c80000"/><stop offset=".515" stop-color="#fc1919"/><stop offset=".5213" stop-color="#ffd8d8"/><stop offset=".5229" stop-color="#fff5f5"/><stop offset=".5245" stop-color="#fdfdff"/><stop offset=".5324" stop-color="#cacafe"/><stop offset=".5403" stop-color="#a3a3fe"/><stop offset=".5498" stop-color="#7f7ffd"/><stop offset=".5592" stop-color="#6464fd"/><stop offset=".5829" stop-color="#3a3afd"/><stop offset=".613" stop-color="#2222fc"/><stop offset=".6509" stop-color="#1616fc"/><stop offset=".7125" stop-color="#1010fc"/><stop offset="1" stop-color="#0b0bfc"/></linearGradient><linearGradient id="e14" gradientUnits="userSpaceOnUse" x1="506.68" x2="717.68" y1="0" y2="0"><stop offset="0" stop-color="#0b0bfc"/><stop offset=".3144" stop-color="#1010fc"/><stop offset=".3855" stop-color="#1515fc"/><stop offset=".4171" stop-color="#1d1dfc"/><stop offset=".4392" stop-color="#3232fd"/><stop offset=".455" stop-color="#5757fd"/><stop offset=".4613" stop-color="#7171fd"/><stop offset=".4676" stop-color="#9595fe"/><stop offset=".4739" stop-color="#c7c7fe"/><stop offset=".4787" stop-color="#f9f9ff"/><stop offset=".4803" stop-color="#fff1f1"/><stop offset=".4882" stop-color="#fc0606"/><stop offset=".4897" stop-color="#c80000"/><stop offset=".5118" stop-color="#c80000"/><stop offset=".5134" stop-color="#fc0b0b"/><stop offset=".5197" stop-color="#fecaca"/><stop offset=".5213" stop-color="#fff1f1"/><stop offset=".5229" stop-color="#fffdfd"/><stop offset=".5308" stop-color="#cecefe"/><stop offset=".5387" stop-color="#a7a7fe"/><stop offset=".5482" stop-color="#8282fd"/><stop offset=".5577" stop-color="#6767fd"/><stop offset=".5814" stop-color="#3c3cfd"/><stop offset=".613" stop-color="#2222fc"/><stop offset=".6509" stop-color="#1616fc"/><stop offset=".7125" stop-color="#1010fc"/><stop offset="1" stop-color="#0b0bfc"/></linearGradient><linearGradient id="e15" gradientUnits="userSpaceOnUse" x1="506.68" x2="717.68" y1="0" y2="0"><stop offset="0" stop-color="#0b0bfc"/><stop offset=".316" stop-color="#1010fc"/><stop offset=".3855" stop-color="#1515fc"/><stop offset=".4171" stop-color="#1e1efc"/><stop offset=".4408" stop-color="#3535fd"/><stop offset=".4566" stop-color="#5c5cfd"/><stop offset=".4629" stop-color="#7777fd"/><stop offset=".4692" stop-color="#9c9cfe"/><stop offset=".4739" stop-color="#c1c1fe"/><stop offset=".4787" stop-color="#f1f1ff"/><stop offset=".4803" stop-color="#fffbfb"/><stop offset=".4818" stop-color="#ffdbdb"/><stop offset=".4882" stop-color="#fc1d1d"/><stop offset=".4897" stop-color="#c80000"/><stop offset=".5118" stop-color="#c80000"/><stop offset=".5134" stop-color="#fc2828"/><stop offset=".5197" stop-color="#ffe6e6"/><stop offset=".5213" stop-color="#fff8f8"/><stop offset=".5229" stop-color="#fafaff"/><stop offset=".5308" stop-color="#cacafe"/><stop offset=".5387" stop-color="#a4a4fe"/><stop offset=".5482" stop-color="#8181fd"/><stop offset=".5577" stop-color="#6666fd"/><stop offset=".5814" stop-color="#3d3dfd"/><stop offset=".613" stop-color="#2323fc"/><stop offset=".6509" stop-color="#1717fc"/><stop offset=".7125" stop-color="#1010fc"/><stop offset="1" stop-color="#0b0bfc"/></linearGradient><linearGradient id="e16" gradientUnits="userSpaceOnUse" x1="506.68" x2="717.68" y1="0" y2="0"><stop offset="0" stop-color="#0b0bfc"/><stop offset=".3112" stop-color="#1010fc"/><stop offset=".3823" stop-color="#1515fc"/><stop offset=".4155" stop-color="#1d1dfc"/><stop offset=".4392" stop-color="#3232fd"/><stop offset=".4487" stop-color="#4444fd"/><stop offset=".4566" stop-color="#5b5bfd"/><stop offset=".4629" stop-color="#7575fd"/><stop offset=".4692" stop-color="#9999fe"/><stop offset=".4755" stop-color="#cacafe"/><stop offset=".4803" stop-color="#fafaff"/><stop offset=".4818" stop-color="#fff0f0"/><stop offset=".4897" stop-color="#fc0505"/><stop offset=".4913" stop-color="#c80000"/><stop offset=".5103" stop-color="#c80000"/><stop offset=".5118" stop-color="#fc0f0f"/><stop offset=".5182" stop-color="#fecece"/><stop offset=".5197" stop-color="#fff2f2"/><stop offset=".5213" stop-color="#fffefe"/><stop offset=".5308" stop-color="#c7c7fe"/><stop offset=".5387" stop-color="#a3a3fe"/><stop offset=".5482" stop-color="#8181fd"/><stop offset=".5577" stop-color="#6767fd"/><stop offset=".5814" stop-color="#3d3dfd"/><stop offset=".613" stop-color="#2424fc"/><stop offset=".6524" stop-color="#1717fc"/><stop offset=".7141" stop-color="#1010fc"/><stop offset="1" stop-color="#0b0bfc"/></linearGradient><linearGradient id="e17" gradientUnits="userSpaceOnUse" x1="506.68" x2="717.68" y1="0" y2="0"><stop offset="0" stop-color="#0b0bfc"/><stop offset=".3191" stop-color="#1010fc"/><stop offset=".3855" stop-color="#1515fc"/><stop offset=".4171" stop-color="#1e1efc"/><stop offset=".4392" stop-color="#3333fd"/><stop offset=".4487" stop-color="#4444fd"/><stop offset=".4566" stop-color="#5a5afd"/><stop offset=".4629" stop-color="#7474fd"/><stop offset=".4692" stop-color="#9696fe"/><stop offset=".4755" stop-color="#c4c4fe"/><stop offset=".4803" stop-color="#f2f2ff"/><stop offset=".4818" stop-color="#fffafa"/><stop offset=".4834" stop-color="#ffdcdc"/><stop offset=".4897" stop-color="#fc1d1d"/><stop offset=".4913" stop-color="#c80000"/><stop offset=".5103" stop-color="#c80000"/><stop offset=".5118" stop-color="#fc2121"/><stop offset=".5182" stop-color="#ffe0e0"/><stop offset=".5197" stop-color="#fff6f6"/><stop offset=".5213" stop-color="#fcfcff"/><stop offset=".5292" stop-color="#cecefe"/><stop offset=".5387" stop-color="#a2a2fe"/><stop offset=".5577" stop-color="#6767fd"/><stop offset=".5829" stop-color="#3c3cfd"/><stop offset=".6145" stop-color="#2323fc"/><stop offset=".654" stop-color="#1717fc"/><stop offset=".7156" stop-color="#1010fc"/><stop offset="1" stop-color="#0b0bfc"/></linearGradient><linearGradient id="e18" gradientUnits="userSpaceOnUse" x1="506.68" x2="717.68" y1="0" y2="0"><stop offset="0" stop-color="#0b0bfc"/><stop offset=".3144" stop-color="#1010fc"/><stop offset=".3823" stop-color="#1515fc"/><stop offset=".4155" stop-color="#1e1efc"/><stop offset=".4392" stop-color="#3333fd"/><stop offset=".4566" stop-color="#5a5afd"/><stop offset=".4645" stop-color="#7979fd"/><stop offset=".4708" stop-color="#9c9cfe"/><stop offset=".4771" stop-color="#ccccfe"/><stop offset=".4818" stop-color="#fafaff"/><stop offset=".4834" stop-color="#fff1f1"/><stop offset=".4913" stop-color="#fc0606"/><stop offset=".4929" stop-color="#c80000"/><stop offset=".5087" stop-color="#c80000"/><stop offset=".5103" stop-color="#e20202"/><stop offset=".5118" stop-color="#fc2d2d"/><stop offset=".5182" stop-color="#ffecec"/><stop offset=".5197" stop-color="#fff9f9"/><stop offset=".5213" stop-color="#fafaff"/><stop offset=".5292" stop-color="#cdcdfe"/><stop offset=".5387" stop-color="#a2a2fe"/><stop offset=".5482" stop-color="#8181fd"/><stop offset=".5592" stop-color="#6464fd"/><stop offset=".5845" stop-color="#3c3cfd"/><stop offset=".6161" stop-color="#2323fc"/><stop offset=".6556" stop-color="#1717fc"/><stop offset=".7188" stop-color="#1010fc"/><stop offset="1" stop-color="#0b0bfc"/></linearGradient><linearGradient id="e19" gradientUnits="userSpaceOnUse" x1="506.68" x2="717.68" y1="0" y2="0"><stop offset="0" stop-color="#0b0bfc"/><stop offset=".3144" stop-color="#1010fc"/><stop offset=".3823" stop-color="#1515fc"/><stop offset=".4155" stop-color="#1e1efc"/><stop offset=".4408" stop-color="#3535fd"/><stop offset=".4502" stop-color="#4747fd"/><stop offset=".4581" stop-color="#5e5efd"/><stop offset=".4645" stop-color="#7777fd"/><stop offset=".4708" stop-color="#9999fe"/><stop offset=".4771" stop-color="#c6c6fe"/><stop offset=".4818" stop-color="#f2f2ff"/><stop offset=".4834" stop-color="#fffafa"/><stop offset=".485" stop-color="#ffdddd"/><stop offset=".4913" stop-color="#fc1e1e"/><stop offset=".4929" stop-color="#c80000"/><stop offset=".5087" stop-color="#c80000"/><stop offset=".5103" stop-color="#f70404"/><stop offset=".5182" stop-color="#ffefef"/><stop offset=".5197" stop-color="#fffafa"/><stop offset=".5213" stop-color="#fafaff"/><stop offset=".5292" stop-color="#cdcdfe"/><stop offset=".5387" stop-color="#a3a3fe"/><stop offset=".5482" stop-color="#8383fe"/><stop offset=".5592" stop-color="#6666fd"/><stop offset=".5845" stop-color="#3d3dfd"/><stop offset=".6161" stop-color="#2424fc"/><stop offset=".6572" stop-color="#1717fc"/><stop offset=".7188" stop-color="#1010fc"/><stop offset="1" stop-color="#0b0bfc"/></linearGradient><linearGradient id="e20" gradientUnits="userSpaceOnUse" x1="506.68" x2="717.68" y1="0" y2="0"><stop offset="0" stop-color="#0b0bfc"/><stop offset=".316" stop-color="#1010fc"/><stop offset=".3823" stop-color="#1515fc"/><stop offset=".4155" stop-color="#1e1efc"/><stop offset=".4408" stop-color="#3535fd"/><stop offset=".4581" stop-color="#5d5dfd"/><stop offset=".466" stop-color="#7d7dfd"/><stop offset=".4724" stop-color="#a0a0fe"/><stop offset=".4787" stop-color="#cecefe"/><stop offset=".4834" stop-color="#fbfbff"/><stop offset=".485" stop-color="#fff1f1"/><stop offset=".4929" stop-color="#fc0707"/><stop offset=".4945" stop-color="#c80000"/><stop offset=".5087" stop-color="#c80000"/><stop offset=".5103" stop-color="#f20303"/><stop offset=".5118" stop-color="#fd3131"/><stop offset=".5182" stop-color="#ffefef"/><stop offset=".5197" stop-color="#fff9f9"/><stop offset=".5213" stop-color="#fafaff"/><stop offset=".5292" stop-color="#cfcffe"/><stop offset=".5387" stop-color="#a5a5fe"/><stop offset=".5482" stop-color="#8585fe"/><stop offset=".5592" stop-color="#6868fd"/><stop offset=".5845" stop-color="#3e3efd"/><stop offset=".6177" stop-color="#2424fc"/><stop offset=".6588" stop-color="#1717fc"/><stop offset=".7204" stop-color="#1010fc"/><stop offset="1" stop-color="#0b0bfc"/></linearGradient><linearGradient id="e21" gradientUnits="userSpaceOnUse" x1="506.68" x2="717.68" y1="0" y2="0"><stop offset="0" stop-color="#0b0bfc"/><stop offset=".316" stop-color="#1010fc"/><stop offset=".3823" stop-color="#1515fc"/><stop offset=".4155" stop-color="#1f1ffc"/><stop offset=".4408" stop-color="#3636fd"/><stop offset=".4581" stop-color="#5d5dfd"/><stop offset=".466" stop-color="#7b7bfd"/><stop offset=".4724" stop-color="#9d9dfe"/><stop offset=".4787" stop-color="#c9c9fe"/><stop offset=".4834" stop-color="#f4f4ff"/><stop offset=".485" stop-color="#fffafa"/><stop offset=".4866" stop-color="#ffdcdc"/><stop offset=".4929" stop-color="#fc1d1d"/><stop offset=".4945" stop-color="#c80000"/><stop offset=".5103" stop-color="#c80000"/><stop offset=".5118" stop-color="#fc2929"/><stop offset=".5182" stop-color="#ffe7e7"/><stop offset=".5197" stop-color="#fff7f7"/><stop offset=".5213" stop-color="#fcfcff"/><stop offset=".5292" stop-color="#d1d1fe"/><stop offset=".5387" stop-color="#a8a8fe"/><stop offset=".5498" stop-color="#8282fd"/><stop offset=".5608" stop-color="#6767fd"/><stop offset=".5861" stop-color="#3e3efd"/><stop offset=".6193" stop-color="#2525fc"/><stop offset=".6603" stop-color="#1717fc"/><stop offset=".722" stop-color="#1010fc"/><stop offset="1" stop-color="#0b0bfc"/></linearGradient><linearGradient id="e22" gradientUnits="userSpaceOnUse" x1="506.68" x2="717.68" y1="0" y2="0"><stop offset="0" stop-color="#0b0bfc"/><stop offset=".3175" stop-color="#1010fc"/><stop offset=".3823" stop-color="#1515fc"/><stop offset=".4155" stop-color="#1f1ffc"/><stop offset=".4408" stop-color="#3636fd"/><stop offset=".4581" stop-color="#5c5cfd"/><stop offset=".466" stop-color="#7a7afd"/><stop offset=".4724" stop-color="#9a9afe"/><stop offset=".4787" stop-color="#c5c5fe"/><stop offset=".485" stop-color="#fdfdff"/><stop offset=".4866" stop-color="#fff0f0"/><stop offset=".4945" stop-color="#fa0404"/><stop offset=".4961" stop-color="#c80000"/><stop offset=".5103" stop-color="#c80000"/><stop offset=".5118" stop-color="#fc1919"/><stop offset=".5182" stop-color="#ffd7d7"/><stop offset=".5197" stop-color="#fff4f4"/><stop offset=".5213" stop-color="#fffefe"/><stop offset=".5308" stop-color="#cdcdfe"/><stop offset=".5403" stop-color="#a5a5fe"/><stop offset=".5608" stop-color="#6a6afd"/><stop offset=".5877" stop-color="#3f3ffd"/><stop offset=".6209" stop-color="#2525fc"/><stop offset=".6619" stop-color="#1717fc"/><stop offset=".7235" stop-color="#1010fc"/><stop offset="1" stop-color="#0b0bfc"/></linearGradient><linearGradient id="e23" gradientUnits="userSpaceOnUse" x1="506.68" x2="717.68" y1="0" y2="0"><stop offset="0" stop-color="#0b0bfc"/><stop offset=".316" stop-color="#1010fc"/><stop offset=".3823" stop-color="#1515fc"/><stop offset=".4155" stop-color="#1e1efc"/><stop offset=".4408" stop-color="#3535fd"/><stop offset=".4581" stop-color="#5a5afd"/><stop offset=".466" stop-color="#7878fd"/><stop offset=".4724" stop-color="#9898fe"/><stop offset=".4787" stop-color="#c2c2fe"/><stop offset=".485" stop-color="#fbfbff"/><stop offset=".4866" stop-color="#fff2f2"/><stop offset=".4882" stop-color="#fec8c8"/><stop offset=".4945" stop-color="#fc0909"/><stop offset=".4961" stop-color="#c80000"/><stop offset=".5103" stop-color="#c80000"/><stop offset=".5118" stop-color="#fc1111"/><stop offset=".5182" stop-color="#fed0d0"/><stop offset=".5197" stop-color="#fff2f2"/><stop offset=".5213" stop-color="#fffdfd"/><stop offset=".5308" stop-color="#cdcdfe"/><stop offset=".5403" stop-color="#a5a5fe"/><stop offset=".5608" stop-color="#6969fd"/><stop offset=".5861" stop-color="#4040fd"/><stop offset=".6193" stop-color="#2525fc"/><stop offset=".6603" stop-color="#1818fc"/><stop offset=".722" stop-color="#1010fc"/><stop offset="1" stop-color="#0b0bfc"/></linearGradient><linearGradient id="e24" gradientUnits="userSpaceOnUse" x1="506.68" x2="717.68" y1="0" y2="0"><stop offset="0" stop-color="#0b0bfc"/><stop offset=".3175" stop-color="#1010fc"/><stop offset=".3839" stop-color="#1515fc"/><stop offset=".4171" stop-color="#1f1ffc"/><stop offset=".4423" stop-color="#3636fd"/><stop offset=".4597" stop-color="#5e5efd"/><stop offset=".4676" stop-color="#7d7dfd"/><stop offset=".4739" stop-color="#a0a0fe"/><stop offset=".4803" stop-color="#cecefe"/><stop offset=".485" stop-color="#fbfbff"/><stop offset=".4866" stop-color="#fff1f1"/><stop offset=".4945" stop-color="#fc0808"/><stop offset=".4961" stop-color="#c80000"/><stop offset=".5103" stop-color="#c80000"/><stop offset=".5118" stop-color="#fc0808"/><stop offset=".5182" stop-color="#fec7c7"/><stop offset=".5197" stop-color="#fff0f0"/><stop offset=".5213" stop-color="#fffbfb"/><stop offset=".5229" stop-color="#f9f9ff"/><stop offset=".5308" stop-color="#cecefe"/><stop offset=".5403" stop-color="#a5a5fe"/><stop offset=".5498" stop-color="#8484fe"/><stop offset=".5608" stop-color="#6868fd"/><stop offset=".5861" stop-color="#3f3ffd"/><stop offset=".6193" stop-color="#2525fc"/><stop offset=".6603" stop-color="#1717fc"/><stop offset=".722" stop-color="#1010fc"/><stop offset="1" stop-color="#0b0bfc"/></linearGradient><linearGradient id="e25" gradientUnits="userSpaceOnUse" x1="506.68" x2="717.68" y1="0" y2="0"><stop offset="0" stop-color="#0b0bfc"/><stop offset=".3144" stop-color="#1010fc"/><stop offset=".3839" stop-color="#1515fc"/><stop offset=".4171" stop-color="#1e1efc"/><stop offset=".4423" stop-color="#3535fd"/><stop offset=".4597" stop-color="#5c5cfd"/><stop offset=".4676" stop-color="#7c7cfd"/><stop offset=".4739" stop-color="#9f9ffe"/><stop offset=".4803" stop-color="#cecefe"/><stop offset=".485" stop-color="#fcfcff"/><stop offset=".4866" stop-color="#fff0f0"/><stop offset=".4945" stop-color="#fb0404"/><stop offset=".4961" stop-color="#c80000"/><stop offset=".5103" stop-color="#c80000"/><stop offset=".5118" stop-color="#de0202"/><stop offset=".5134" stop-color="#fc2c2c"/><stop offset=".5197" stop-color="#ffebeb"/><stop offset=".5213" stop-color="#fff8f8"/><stop offset=".5229" stop-color="#fbfbff"/><stop offset=".5308" stop-color="#cfcffe"/><stop offset=".5403" stop-color="#a5a5fe"/><stop offset=".5498" stop-color="#8484fe"/><stop offset=".5608" stop-color="#6767fd"/><stop offset=".5861" stop-color="#3e3efd"/><stop offset=".6193" stop-color="#2424fc"/><stop offset=".6603" stop-color="#1717fc"/><stop offset=".722" stop-color="#1010fc"/><stop offset="1" stop-color="#0b0bfc"/></linearGradient><linearGradient id="e26" gradientUnits="userSpaceOnUse" x1="506.68" x2="717.68" y1="0" y2="0"><stop offset="0" stop-color="#0b0bfc"/><stop offset=".3175" stop-color="#1010fc"/><stop offset=".3855" stop-color="#1515fc"/><stop offset=".4186" stop-color="#1e1efc"/><stop offset=".4423" stop-color="#3434fd"/><stop offset=".4518" stop-color="#4545fd"/><stop offset=".4597" stop-color="#5b5bfd"/><stop offset=".4676" stop-color="#7b7bfd"/><stop offset=".4739" stop-color="#9f9ffe"/><stop offset=".4803" stop-color="#cfcffe"/><stop offset=".485" stop-color="#fefeff"/><stop offset=".4866" stop-color="#ffebeb"/><stop offset=".4929" stop-color="#fc2c2c"/><stop offset=".4945" stop-color="#de0202"/><stop offset=".4961" stop-color="#c80000"/><stop offset=".5118" stop-color="#c80000"/><stop offset=".5134" stop-color="#fc1d1d"/><stop offset=".5197" stop-color="#ffdcdc"/><stop offset=".5213" stop-color="#fff5f5"/><stop offset=".5229" stop-color="#fefeff"/><stop offset=".5308" stop-color="#d0d0fe"/><stop offset=".5403" stop-color="#a5a5fe"/><stop offset=".5498" stop-color="#8484fe"/><stop offset=".5608" stop-color="#6666fd"/><stop offset=".5861" stop-color="#3d3dfd"/><stop offset=".6177" stop-color="#2424fc"/><stop offset=".6572" stop-color="#1717fc"/><stop offset=".7188" stop-color="#1010fc"/><stop offset="1" stop-color="#0b0bfc"/></linearGradient><linearGradient id="e27" gradientUnits="userSpaceOnUse" x1="506.68" x2="717.68" y1="0" y2="0"><stop offset="0" stop-color="#0b0bfc"/><stop offset=".316" stop-color="#1010fc"/><stop offset=".3855" stop-color="#1515fc"/><stop offset=".4186" stop-color="#1e1efc"/><stop offset=".4423" stop-color="#3333fd"/><stop offset=".4518" stop-color="#4444fd"/><stop offset=".4597" stop-color="#5b5bfd"/><stop offset=".4676" stop-color="#7b7bfd"/><stop offset=".4739" stop-color="#a0a0fe"/><stop offset=".4787" stop-color="#c3c3fe"/><stop offset=".485" stop-color="#fffcfc"/><stop offset=".4866" stop-color="#ffe0e0"/><stop offset=".4929" stop-color="#fc2222"/><stop offset=".4945" stop-color="#c80000"/><stop offset=".5118" stop-color="#c80000"/><stop offset=".5134" stop-color="#fc0b0b"/><stop offset=".5197" stop-color="#fec9c9"/><stop offset=".5213" stop-color="#fff1f1"/><stop offset=".5229" stop-color="#fffcfc"/><stop offset=".5324" stop-color="#cacafe"/><stop offset=".5403" stop-color="#a6a6fe"/><stop offset=".5498" stop-color="#8484fe"/><stop offset=".5608" stop-color="#6666fd"/><stop offset=".5845" stop-color="#3e3efd"/><stop offset=".6161" stop-color="#2424fc"/><stop offset=".6556" stop-color="#1717fc"/><stop offset=".7172" stop-color="#1010fc"/><stop offset="1" stop-color="#0b0bfc"/></linearGradient><linearGradient id="e28" gradientUnits="userSpaceOnUse" x1="506.68" x2="717.68" y1="0" y2="0"><stop offset="0" stop-color="#0b0bfc"/><stop offset=".3191" stop-color="#1010fc"/><stop offset=".387" stop-color="#1515fc"/><stop offset=".4202" stop-color="#1e1efc"/><stop offset=".4423" stop-color="#3232fd"/><stop offset=".4518" stop-color="#4444fd"/><stop offset=".4597" stop-color="#5a5afd"/><stop offset=".466" stop-color="#7373fd"/><stop offset=".4724" stop-color="#9696fe"/><stop offset=".4787" stop-color="#c6c6fe"/><stop offset=".4834" stop-color="#f4f4ff"/><stop offset=".485" stop-color="#fff7f7"/><stop offset=".4866" stop-color="#fed3d3"/><stop offset=".4929" stop-color="#fc1515"/><stop offset=".4945" stop-color="#c80000"/><stop offset=".5134" stop-color="#c80000"/><stop offset=".515" stop-color="#fc2626"/><stop offset=".5213" stop-color="#ffe4e4"/><stop offset=".5229" stop-color="#fff8f8"/><stop offset=".5245" stop-color="#fbfbff"/><stop offset=".5324" stop-color="#ccccfe"/><stop offset=".5419" stop-color="#a0a0fe"/><stop offset=".5608" stop-color="#6565fd"/><stop offset=".5845" stop-color="#3d3dfd"/><stop offset=".6161" stop-color="#2424fc"/><stop offset=".6556" stop-color="#1717fc"/><stop offset=".7156" stop-color="#1010fc"/><stop offset="1" stop-color="#0b0bfc"/></linearGradient><linearGradient id="e29" gradientUnits="userSpaceOnUse" x1="506.68" x2="717.68" y1="0" y2="0"><stop offset="0" stop-color="#0b0bfc"/><stop offset=".316" stop-color="#1010fc"/><stop offset=".387" stop-color="#1515fc"/><stop offset=".4202" stop-color="#1e1efc"/><stop offset=".4439" stop-color="#3434fd"/><stop offset=".4597" stop-color="#5a5afd"/><stop offset=".466" stop-color="#7474fd"/><stop offset=".4724" stop-color="#9898fe"/><stop offset=".4787" stop-color="#c9c9fe"/><stop offset=".4834" stop-color="#fafaff"/><stop offset=".485" stop-color="#fff1f1"/><stop offset=".4929" stop-color="#fc0505"/><stop offset=".4945" stop-color="#c80000"/><stop offset=".5134" stop-color="#c80000"/><stop offset=".515" stop-color="#fc0f0f"/><stop offset=".5213" stop-color="#fecdcd"/><stop offset=".5229" stop-color="#fff2f2"/><stop offset=".5245" stop-color="#fffefe"/><stop offset=".534" stop-color="#c7c7fe"/><stop offset=".5419" stop-color="#a2a2fe"/><stop offset=".5513" stop-color="#7f7ffd"/><stop offset=".5608" stop-color="#6565fd"/><stop offset=".5845" stop-color="#3c3cfd"/><stop offset=".6161" stop-color="#2323fc"/><stop offset=".6556" stop-color="#1616fc"/><stop offset=".7156" stop-color="#1010fc"/><stop offset="1" stop-color="#0b0bfc"/></linearGradient><linearGradient id="e30" gradientUnits="userSpaceOnUse" x1="506.68" x2="717.68" y1="0" y2="0"><stop offset="0" stop-color="#0b0bfc"/><stop offset=".3144" stop-color="#1010fc"/><stop offset=".387" stop-color="#1515fc"/><stop offset=".4202" stop-color="#1d1dfc"/><stop offset=".4439" stop-color="#3333fd"/><stop offset=".4597" stop-color="#5a5afd"/><stop offset=".466" stop-color="#7575fd"/><stop offset=".4724" stop-color="#9a9afe"/><stop offset=".4787" stop-color="#cdcdfe"/><stop offset=".4834" stop-color="#fffefe"/><stop offset=".485" stop-color="#ffe2e2"/><stop offset=".4913" stop-color="#fc2323"/><stop offset=".4929" stop-color="#c80000"/><stop offset=".515" stop-color="#c80000"/><stop offset=".5166" stop-color="#fc2525"/><stop offset=".5229" stop-color="#ffe4e4"/><stop offset=".5245" stop-color="#fff8f8"/><stop offset=".5261" stop-color="#fbfbff"/><stop offset=".534" stop-color="#cacafe"/><stop offset=".5419" stop-color="#a4a4fe"/><stop offset=".5513" stop-color="#8080fd"/><stop offset=".5608" stop-color="#6565fd"/><stop offset=".5845" stop-color="#3c3cfd"/><stop offset=".6161" stop-color="#2222fc"/><stop offset=".654" stop-color="#1616fc"/><stop offset=".7156" stop-color="#1010fc"/><stop offset="1" stop-color="#0b0bfc"/></linearGradient><linearGradient id="e31" gradientUnits="userSpaceOnUse" x1="506.68" x2="717.68" y1="0" y2="0"><stop offset="0" stop-color="#0b0bfc"/><stop offset=".3191" stop-color="#1010fc"/><stop offset=".3902" stop-color="#1515fc"/><stop offset=".4218" stop-color="#1e1efc"/><stop offset=".4439" stop-color="#3333fd"/><stop offset=".4518" stop-color="#4242fd"/><stop offset=".4597" stop-color="#5a5afd"/><stop offset=".466" stop-color="#7676fd"/><stop offset=".4724" stop-color="#9c9cfe"/><stop offset=".4771" stop-color="#c3c3fe"/><stop offset=".4818" stop-color="#f4f4ff"/><stop offset=".4834" stop-color="#fff6f6"/><stop offset=".485" stop-color="#fecfcf"/><stop offset=".4913" stop-color="#fc1010"/><stop offset=".4929" stop-color="#c80000"/><stop offset=".515" stop-color="#c80000"/><stop offset=".5166" stop-color="#fc0a0a"/><stop offset=".5229" stop-color="#fec9c9"/><stop offset=".5245" stop-color="#fff1f1"/><stop offset=".5261" stop-color="#fffdfd"/><stop offset=".534" stop-color="#cecefe"/><stop offset=".5419" stop-color="#a6a6fe"/><stop offset=".5513" stop-color="#8181fd"/><stop offset=".5608" stop-color="#6565fd"/><stop offset=".5845" stop-color="#3b3bfd"/><stop offset=".6145" stop-color="#2323fc"/><stop offset=".6524" stop-color="#1616fc"/><stop offset=".7125" stop-color="#1010fc"/><stop offset="1" stop-color="#0b0bfc"/></linearGradient><linearGradient id="e32" gradientUnits="userSpaceOnUse" x1="506.68" x2="717.68" y1="0" y2="0"><stop offset="0" stop-color="#0b0bfc"/><stop offset=".316" stop-color="#1010fc"/><stop offset=".3902" stop-color="#1515fc"/><stop offset=".4218" stop-color="#1d1dfc"/><stop offset=".4439" stop-color="#3232fd"/><stop offset=".4518" stop-color="#4242fd"/><stop offset=".4597" stop-color="#5a5afd"/><stop offset=".466" stop-color="#7777fd"/><stop offset=".4724" stop-color="#9f9ffe"/><stop offset=".4771" stop-color="#c8c8fe"/><stop offset=".4818" stop-color="#fcfcff"/><stop offset=".4834" stop-color="#ffeaea"/><stop offset=".4897" stop-color="#fc2b2b"/><stop offset=".4913" stop-color="#da0101"/><stop offset=".4929" stop-color="#c80000"/><stop offset=".5166" stop-color="#c80000"/><stop offset=".5182" stop-color="#fc1d1d"/><stop offset=".5245" stop-color="#ffdcdc"/><stop offset=".5261" stop-color="#fff6f6"/><stop offset=".5276" stop-color="#fbfbff"/><stop offset=".5355" stop-color="#c9c9fe"/><stop offset=".5434" stop-color="#a1a1fe"/><stop offset=".5529" stop-color="#7d7dfd"/><stop offset=".5624" stop-color="#6262fd"/><stop offset=".5845" stop-color="#3b3bfd"/><stop offset=".6145" stop-color="#2222fc"/><stop offset=".6524" stop-color="#1616fc"/><stop offset=".7125" stop-color="#1010fc"/><stop offset="1" stop-color="#0b0bfc"/></linearGradient><linearGradient id="e33" gradientUnits="userSpaceOnUse" x1="506.68" x2="717.68" y1="0" y2="0"><stop offset="0" stop-color="#0b0bfc"/><stop offset=".3128" stop-color="#1010fc"/><stop offset=".3902" stop-color="#1515fc"/><stop offset=".4218" stop-color="#1d1dfc"/><stop offset=".4439" stop-color="#3232fd"/><stop offset=".4518" stop-color="#4242fd"/><stop offset=".4597" stop-color="#5b5bfd"/><stop offset=".466" stop-color="#7979fd"/><stop offset=".4708" stop-color="#9797fe"/><stop offset=".4755" stop-color="#bebefe"/><stop offset=".4803" stop-color="#f1f1ff"/><stop offset=".4818" stop-color="#fff8f8"/><stop offset=".4834" stop-color="#fed4d4"/><stop offset=".4897" stop-color="#fc1515"/><stop offset=".4913" stop-color="#c80000"/><stop offset=".5166" stop-color="#c80000"/><stop offset=".5182" stop-color="#ea0303"/><stop offset=".5197" stop-color="#fd2f2f"/><stop offset=".5261" stop-color="#ffeeee"/><stop offset=".5276" stop-color="#fffbfb"/><stop offset=".5292" stop-color="#f7f7ff"/><stop offset=".5371" stop-color="#c4c4fe"/><stop offset=".5434" stop-color="#a4a4fe"/><stop offset=".5513" stop-color="#8383fe"/><stop offset=".5608" stop-color="#6666fd"/><stop offset=".5829" stop-color="#3c3cfd"/><stop offset=".613" stop-color="#2222fc"/><stop offset=".6493" stop-color="#1717fc"/><stop offset=".7093" stop-color="#1010fc"/><stop offset="1" stop-color="#0b0bfc"/></linearGradient><linearGradient id="e34" gradientUnits="userSpaceOnUse" x1="506.68" x2="717.68" y1="0" y2="0"><stop offset="0" stop-color="#0b0bfc"/><stop offset=".3081" stop-color="#1010fc"/><stop offset=".3886" stop-color="#1414fc"/><stop offset=".4218" stop-color="#1c1cfc"/><stop offset=".4423" stop-color="#2f2ffc"/><stop offset=".4502" stop-color="#3e3efd"/><stop offset=".4581" stop-color="#5656fd"/><stop offset=".4645" stop-color="#7272fd"/><stop offset=".4708" stop-color="#9a9afe"/><stop offset=".4755" stop-color="#c4c4fe"/><stop offset=".4803" stop-color="#fafaff"/><stop offset=".4818" stop-color="#ffecec"/><stop offset=".4882" stop-color="#fc2d2d"/><stop offset=".4897" stop-color="#e40202"/><stop offset=".4913" stop-color="#c80000"/><stop offset=".5182" stop-color="#c80000"/><stop offset=".5197" stop-color="#fc1010"/><stop offset=".5261" stop-color="#fecfcf"/><stop offset=".5276" stop-color="#fff3f3"/><stop offset=".5292" stop-color="#fefeff"/><stop offset=".5371" stop-color="#c8c8fe"/><stop offset=".545" stop-color="#9f9ffe"/><stop offset=".5529" stop-color="#7f7ffd"/><stop offset=".5624" stop-color="#6363fd"/><stop offset=".5845" stop-color="#3a3afd"/><stop offset=".613" stop-color="#2222fc"/><stop offset=".6493" stop-color="#1616fc"/><stop offset=".7093" stop-color="#1010fc"/><stop offset="1" stop-color="#0b0bfc"/></linearGradient><linearGradient id="e35" gradientUnits="userSpaceOnUse" x1="506.68" x2="717.68" y1="0" y2="0"><stop offset="0" stop-color="#0b0bfc"/><stop offset=".3144" stop-color="#1010fc"/><stop offset=".3918" stop-color="#1515fc"/><stop offset=".4234" stop-color="#1d1dfc"/><stop offset=".4439" stop-color="#3131fd"/><stop offset=".4581" stop-color="#5757fd"/><stop offset=".4645" stop-color="#7474fd"/><stop offset=".4692" stop-color="#9292fe"/><stop offset=".4739" stop-color="#babafe"/><stop offset=".4787" stop-color="#efefff"/><stop offset=".4803" stop-color="#fff9f9"/><stop offset=".4818" stop-color="#fed4d4"/><stop offset=".4882" stop-color="#fc1515"/><stop offset=".4897" stop-color="#c80000"/><stop offset=".5197" stop-color="#c80000"/><stop offset=".5213" stop-color="#fc2020"/><stop offset=".5276" stop-color="#ffdfdf"/><stop offset=".5292" stop-color="#fff8f8"/><stop offset=".5308" stop-color="#f9f9ff"/><stop offset=".5371" stop-color="#cdcdfe"/><stop offset=".545" stop-color="#a2a2fe"/><stop offset=".5529" stop-color="#8181fd"/><stop offset=".5624" stop-color="#6363fd"/><stop offset=".5845" stop-color="#3939fd"/><stop offset=".613" stop-color="#2121fc"/><stop offset=".6493" stop-color="#1616fc"/><stop offset=".7077" stop-color="#1010fc"/><stop offset="1" stop-color="#0b0bfc"/></linearGradient><linearGradient id="e36" gradientUnits="userSpaceOnUse" x1="506.68" x2="717.68" y1="0" y2="0"><stop offset="0" stop-color="#0b0bfc"/><stop offset=".3002" stop-color="#0f0ffc"/><stop offset=".3886" stop-color="#1414fc"/><stop offset=".4218" stop-color="#1c1cfc"/><stop offset=".4439" stop-color="#3131fd"/><stop offset=".4518" stop-color="#4242fd"/><stop offset=".4581" stop-color="#5757fd"/><stop offset=".4645" stop-color="#7676fd"/><stop offset=".4692" stop-color="#9696fe"/><stop offset=".4739" stop-color="#c1c1fe"/><stop offset=".4787" stop-color="#fafaff"/><stop offset=".4803" stop-color="#ffebeb"/><stop offset=".4866" stop-color="#fc2c2c"/><stop offset=".4882" stop-color="#dd0202"/><stop offset=".4897" stop-color="#c80000"/><stop offset=".5197" stop-color="#c80000"/><stop offset=".5213" stop-color="#e90303"/><stop offset=".5229" stop-color="#fd2f2f"/><stop offset=".5292" stop-color="#ffeeee"/><stop offset=".5308" stop-color="#fffcfc"/><stop offset=".5387" stop-color="#c9c9fe"/><stop offset=".545" stop-color="#a5a5fe"/><stop offset=".5529" stop-color="#8383fe"/><stop offset=".5624" stop-color="#6464fd"/><stop offset=".5845" stop-color="#3939fd"/><stop offset=".613" stop-color="#2121fc"/><stop offset=".6493" stop-color="#1616fc"/><stop offset=".7077" stop-color="#1010fc"/><stop offset="1" stop-color="#0b0bfc"/></linearGradient><linearGradient id="e37" gradientUnits="userSpaceOnUse" x1="506.68" x2="717.68" y1="0" y2="0"><stop offset="0" stop-color="#0b0bfc"/><stop offset=".3065" stop-color="#1010fc"/><stop offset=".3918" stop-color="#1414fc"/><stop offset=".4234" stop-color="#1c1cfc"/><stop offset=".4439" stop-color="#3131fd"/><stop offset=".4518" stop-color="#4343fd"/><stop offset=".4581" stop-color="#5959fd"/><stop offset=".4645" stop-color="#7979fd"/><stop offset=".4692" stop-color="#9b9bfe"/><stop offset=".4739" stop-color="#c9c9fe"/><stop offset=".4771" stop-color="#efefff"/><stop offset=".4787" stop-color="#fff8f8"/><stop offset=".4803" stop-color="#fed1d1"/><stop offset=".4866" stop-color="#fc1212"/><stop offset=".4882" stop-color="#c80000"/><stop offset=".5213" stop-color="#c80000"/><stop offset=".5229" stop-color="#fc0d0d"/><stop offset=".5292" stop-color="#fecccc"/><stop offset=".5308" stop-color="#fff2f2"/><stop offset=".5324" stop-color="#fdfdff"/><stop offset=".5387" stop-color="#cfcffe"/><stop offset=".5466" stop-color="#a1a1fe"/><stop offset=".5545" stop-color="#7f7ffd"/><stop offset=".564" stop-color="#6060fd"/><stop offset=".5845" stop-color="#3939fd"/><stop offset=".613" stop-color="#2121fc"/><stop offset=".6477" stop-color="#1616fc"/><stop offset=".7077" stop-color="#1010fc"/><stop offset="1" stop-color="#0b0bfc"/></linearGradient><linearGradient id="e38" gradientUnits="userSpaceOnUse" x1="506.68" x2="717.68" y1="0" y2="0"><stop offset="0" stop-color="#0b0bfc"/><stop offset=".3033" stop-color="#0f0ffc"/><stop offset=".3918" stop-color="#1414fc"/><stop offset=".4234" stop-color="#1c1cfc"/><stop offset=".4423" stop-color="#2e2efc"/><stop offset=".4502" stop-color="#3f3ffd"/><stop offset=".4566" stop-color="#5353fd"/><stop offset=".4629" stop-color="#7272fd"/><stop offset=".4676" stop-color="#9393fe"/><stop offset=".4724" stop-color="#bfbffe"/><stop offset=".4771" stop-color="#fbfbff"/><stop offset=".4787" stop-color="#ffe6e6"/><stop offset=".485" stop-color="#fc2727"/><stop offset=".4866" stop-color="#c80000"/><stop offset=".5229" stop-color="#c80000"/><stop offset=".5245" stop-color="#fc1b1b"/><stop offset=".5308" stop-color="#ffd9d9"/><stop offset=".5324" stop-color="#fff7f7"/><stop offset=".534" stop-color="#f9f9ff"/><stop offset=".5403" stop-color="#cacafe"/><stop offset=".5482" stop-color="#9d9dfe"/><stop offset=".5561" stop-color="#7a7afd"/><stop offset=".564" stop-color="#6161fd"/><stop offset=".5845" stop-color="#3838fd"/><stop offset=".613" stop-color="#2020fc"/><stop offset=".6477" stop-color="#1515fc"/><stop offset=".7077" stop-color="#1010fc"/><stop offset="1" stop-color="#0b0bfc"/></linearGradient><linearGradient id="e39" gradientUnits="userSpaceOnUse" x1="506.68" x2="717.68" y1="0" y2="0"><stop offset="0" stop-color="#0b0bfc"/><stop offset=".2986" stop-color="#0f0ffc"/><stop offset=".3918" stop-color="#1414fc"/><stop offset=".4234" stop-color="#1c1cfc"/><stop offset=".4423" stop-color="#2e2efc"/><stop offset=".4502" stop-color="#3f3ffd"/><stop offset=".4566" stop-color="#5454fd"/><stop offset=".4629" stop-color="#7575fd"/><stop offset=".4676" stop-color="#9898fe"/><stop offset=".4724" stop-color="#c7c7fe"/><stop offset=".4755" stop-color="#f0f0ff"/><stop offset=".4771" stop-color="#fff5f5"/><stop offset=".4787" stop-color="#fecbcb"/><stop offset=".485" stop-color="#fc0c0c"/><stop offset=".4866" stop-color="#c80000"/><stop offset=".5245" stop-color="#c80000"/><stop offset=".5261" stop-color="#fc2828"/><stop offset=".5324" stop-color="#ffe6e6"/><stop offset=".534" stop-color="#fffbfb"/><stop offset=".5355" stop-color="#f5f5ff"/><stop offset=".5419" stop-color="#c6c6fe"/><stop offset=".5482" stop-color="#a0a0fe"/><stop offset=".5561" stop-color="#7c7cfd"/><stop offset=".564" stop-color="#6262fd"/><stop offset=".5845" stop-color="#3838fd"/><stop offset=".6114" stop-color="#2020fc"/><stop offset=".6461" stop-color="#1616fc"/><stop offset=".7046" stop-color="#1010fc"/><stop offset="1" stop-color="#0b0bfc"/></linearGradient><linearGradient id="e40" gradientUnits="userSpaceOnUse" x1="506.68" x2="717.68" y1="0" y2="0"><stop offset="0" stop-color="#0b0bfc"/><stop offset=".2938" stop-color="#0f0ffc"/><stop offset=".3918" stop-color="#1414fc"/><stop offset=".4234" stop-color="#1b1bfc"/><stop offset=".4423" stop-color="#2e2efc"/><stop offset=".4502" stop-color="#3f3ffd"/><stop offset=".4566" stop-color="#5656fd"/><stop offset=".4629" stop-color="#7878fd"/><stop offset=".4676" stop-color="#9d9dfe"/><stop offset=".4724" stop-color="#d1d1fe"/><stop offset=".4755" stop-color="#fdfdff"/><stop offset=".4771" stop-color="#ffdfdf"/><stop offset=".4834" stop-color="#fc2020"/><stop offset=".485" stop-color="#c80000"/><stop offset=".5245" stop-color="#c80000"/><stop offset=".5261" stop-color="#fc0404"/><stop offset=".534" stop-color="#fff0f0"/><stop offset=".5355" stop-color="#ffffff"/><stop offset=".5419" stop-color="#ccccfe"/><stop offset=".5482" stop-color="#a4a4fe"/><stop offset=".5561" stop-color="#7e7efd"/><stop offset=".564" stop-color="#6363fd"/><stop offset=".5735" stop-color="#4b4bfd"/><stop offset=".5845" stop-color="#3737fd"/><stop offset=".6114" stop-color="#2020fc"/><stop offset=".6445" stop-color="#1616fc"/><stop offset=".703" stop-color="#1010fc"/><stop offset="1" stop-color="#0b0bfc"/></linearGradient><linearGradient id="e41" gradientUnits="userSpaceOnUse" x1="506.68" x2="717.68" y1="0" y2="0"><stop offset="0" stop-color="#0b0bfc"/><stop offset=".2907" stop-color="#0f0ffc"/><stop offset=".3918" stop-color="#1414fc"/><stop offset=".4234" stop-color="#1b1bfc"/><stop offset=".4423" stop-color="#2d2dfc"/><stop offset=".455" stop-color="#5050fd"/><stop offset=".4613" stop-color="#7171fd"/><stop offset=".466" stop-color="#9595fe"/><stop offset=".4708" stop-color="#c7c7fe"/><stop offset=".4739" stop-color="#f3f3ff"/><stop offset=".4755" stop-color="#fff1f1"/><stop offset=".4834" stop-color="#fc0404"/><stop offset=".485" stop-color="#c80000"/><stop offset=".5261" stop-color="#c80000"/><stop offset=".5276" stop-color="#fc1010"/><stop offset=".534" stop-color="#fecfcf"/><stop offset=".5355" stop-color="#fff4f4"/><stop offset=".5371" stop-color="#fbfbff"/><stop offset=".5434" stop-color="#c7c7fe"/><stop offset=".5498" stop-color="#a0a0fe"/><stop offset=".5577" stop-color="#7a7afd"/><stop offset=".5656" stop-color="#5f5ffd"/><stop offset=".5845" stop-color="#3737fd"/><stop offset=".6114" stop-color="#1f1ffc"/><stop offset=".6445" stop-color="#1515fc"/><stop offset=".703" stop-color="#1010fc"/><stop offset="1" stop-color="#0b0bfc"/></linearGradient><linearGradient id="e42" gradientUnits="userSpaceOnUse" x1="506.68" x2="717.68" y1="0" y2="0"><stop offset="0" stop-color="#0b0bfc"/><stop offset=".297" stop-color="#0f0ffc"/><stop offset=".3949" stop-color="#1414fc"/><stop offset=".425" stop-color="#1b1bfc"/><stop offset=".4439" stop-color="#3030fd"/><stop offset=".4502" stop-color="#4040fd"/><stop offset=".4566" stop-color="#5959fd"/><stop offset=".4613" stop-color="#7474fd"/><stop offset=".466" stop-color="#9b9bfe"/><stop offset=".4692" stop-color="#bdbdfe"/><stop offset=".4739" stop-color="#fffdfd"/><stop offset=".4755" stop-color="#ffd6d6"/><stop offset=".4818" stop-color="#fc1717"/><stop offset=".4834" stop-color="#c80000"/><stop offset=".5276" stop-color="#c80000"/><stop offset=".5292" stop-color="#fc1c1c"/><stop offset=".5355" stop-color="#ffdbdb"/><stop offset=".5371" stop-color="#fff8f8"/><stop offset=".5387" stop-color="#f6f6ff"/><stop offset=".545" stop-color="#c3c3fe"/><stop offset=".5513" stop-color="#9b9bfe"/><stop offset=".5592" stop-color="#7676fd"/><stop offset=".5671" stop-color="#5b5bfd"/><stop offset=".5861" stop-color="#3535fd"/><stop offset=".6114" stop-color="#1f1ffc"/><stop offset=".6445" stop-color="#1515fc"/><stop offset=".703" stop-color="#1010fc"/><stop offset="1" stop-color="#0b0bfc"/></linearGradient><linearGradient id="e43" gradientUnits="userSpaceOnUse" x1="506.68" x2="717.68" y1="0" y2="0"><stop offset="0" stop-color="#0b0bfc"/><stop offset=".2923" stop-color="#0f0ffc"/><stop offset=".3949" stop-color="#1414fc"/><stop offset=".425" stop-color="#1b1bfc"/><stop offset=".4423" stop-color="#2d2dfc"/><stop offset=".4487" stop-color="#3c3cfd"/><stop offset=".455" stop-color="#5353fd"/><stop offset=".4597" stop-color="#6d6dfd"/><stop offset=".4645" stop-color="#9292fe"/><stop offset=".4692" stop-color="#c7c7fe"/><stop offset=".4724" stop-color="#f6f6ff"/><stop offset=".4739" stop-color="#ffe9e9"/><stop offset=".4803" stop-color="#fc2a2a"/><stop offset=".4818" stop-color="#d60101"/><stop offset=".4834" stop-color="#c80000"/><stop offset=".5292" stop-color="#c80000"/><stop offset=".5308" stop-color="#fc2727"/><stop offset=".5371" stop-color="#ffe6e6"/><stop offset=".5387" stop-color="#fffcfc"/><stop offset=".545" stop-color="#cacafe"/><stop offset=".5513" stop-color="#a0a0fe"/><stop offset=".5577" stop-color="#7f7ffd"/><stop offset=".5656" stop-color="#6161fd"/><stop offset=".575" stop-color="#4747fd"/><stop offset=".5845" stop-color="#3636fd"/><stop offset=".6098" stop-color="#1f1ffc"/><stop offset=".6414" stop-color="#1515fc"/><stop offset=".6998" stop-color="#1010fc"/><stop offset="1" stop-color="#0b0bfc"/></linearGradient><linearGradient id="e44" gradientUnits="userSpaceOnUse" x1="506.68" x2="717.68" y1="0" y2="0"><stop offset="0" stop-color="#0b0bfc"/><stop offset=".2875" stop-color="#0f0ffc"/><stop offset=".3949" stop-color="#1414fc"/><stop offset=".425" stop-color="#1b1bfc"/><stop offset=".4423" stop-color="#2d2dfc"/><stop offset=".4487" stop-color="#3c3cfd"/><stop offset=".455" stop-color="#5454fd"/><stop offset=".4597" stop-color="#7070fd"/><stop offset=".4645" stop-color="#9999fe"/><stop offset=".4676" stop-color="#bdbdfe"/><stop offset=".4708" stop-color="#ebebff"/><stop offset=".4724" stop-color="#fff7f7"/><stop offset=".4803" stop-color="#fc0d0d"/><stop offset=".4818" stop-color="#c80000"/><stop offset=".5292" stop-color="#c80000"/><stop offset=".5308" stop-color="#f50303"/><stop offset=".5324" stop-color="#fd3232"/><stop offset=".5387" stop-color="#ffefef"/><stop offset=".5403" stop-color="#fdfdff"/><stop offset=".5466" stop-color="#c5c5fe"/><stop offset=".5529" stop-color="#9b9bfe"/><stop offset=".5592" stop-color="#7a7afd"/><stop offset=".5671" stop-color="#5d5dfd"/><stop offset=".5845" stop-color="#3636fd"/><stop offset=".6098" stop-color="#1f1ffc"/><stop offset=".6414" stop-color="#1515fc"/><stop offset=".6998" stop-color="#1010fc"/><stop offset="1" stop-color="#0b0bfc"/></linearGradient><linearGradient id="e45" gradientUnits="userSpaceOnUse" x1="506.68" x2="717.68" y1="0" y2="0"><stop offset="0" stop-color="#0b0bfc"/><stop offset=".2844" stop-color="#0f0ffc"/><stop offset=".3949" stop-color="#1414fc"/><stop offset=".425" stop-color="#1a1afc"/><stop offset=".4423" stop-color="#2d2dfc"/><stop offset=".4487" stop-color="#3c3cfd"/><stop offset=".455" stop-color="#5656fd"/><stop offset=".4597" stop-color="#7474fd"/><stop offset=".4645" stop-color="#a0a0fe"/><stop offset=".4676" stop-color="#c8c8fe"/><stop offset=".4708" stop-color="#fbfbff"/><stop offset=".4724" stop-color="#ffdfdf"/><stop offset=".4787" stop-color="#fc2020"/><stop offset=".4803" stop-color="#c80000"/><stop offset=".5308" stop-color="#c80000"/><stop offset=".5324" stop-color="#fc0d0d"/><stop offset=".5387" stop-color="#fecccc"/><stop offset=".5403" stop-color="#fff3f3"/><stop offset=".5419" stop-color="#f9f9ff"/><stop offset=".5466" stop-color="#cdcdfe"/><stop offset=".5529" stop-color="#9f9ffe"/><stop offset=".5592" stop-color="#7d7dfd"/><stop offset=".5671" stop-color="#5e5efd"/><stop offset=".5845" stop-color="#3636fd"/><stop offset=".6098" stop-color="#1e1efc"/><stop offset=".6414" stop-color="#1515fc"/><stop offset=".6998" stop-color="#1010fc"/><stop offset="1" stop-color="#0b0bfc"/></linearGradient><linearGradient id="e46" gradientUnits="userSpaceOnUse" x1="506.68" x2="717.68" y1="0" y2="0"><stop offset="0" stop-color="#0b0bfc"/><stop offset=".2828" stop-color="#0f0ffc"/><stop offset=".3949" stop-color="#1414fc"/><stop offset=".425" stop-color="#1a1afc"/><stop offset=".4423" stop-color="#2d2dfc"/><stop offset=".4534" stop-color="#5151fd"/><stop offset=".4581" stop-color="#6d6dfd"/><stop offset=".4629" stop-color="#9595fe"/><stop offset=".466" stop-color="#bbbbfe"/><stop offset=".4692" stop-color="#ebebff"/><stop offset=".4708" stop-color="#fff5f5"/><stop offset=".4787" stop-color="#fc0909"/><stop offset=".4803" stop-color="#c80000"/><stop offset=".5324" stop-color="#c80000"/><stop offset=".534" stop-color="#fc2020"/><stop offset=".5403" stop-color="#ffdfdf"/><stop offset=".5419" stop-color="#fffbfb"/><stop offset=".5434" stop-color="#f2f2ff"/><stop offset=".5482" stop-color="#c7c7fe"/><stop offset=".5545" stop-color="#9a9afe"/><stop offset=".5608" stop-color="#7979fd"/><stop offset=".5687" stop-color="#5a5afd"/><stop offset=".5861" stop-color="#3434fd"/><stop offset=".6098" stop-color="#1e1efc"/><stop offset=".6414" stop-color="#1515fc"/><stop offset=".6998" stop-color="#1010fc"/><stop offset="1" stop-color="#0b0bfc"/></linearGradient><clipPath id="eclip"><rect x="501.2" y="14.2" width="145.8" height="138.6"/></clipPath></defs>
<g clip-path="url(#eclip)" shape-rendering="crispEdges"><g transform="matrix(1 0 -0.46 1 0 0)"><rect x="506.68" y="14" width="211" height="3" fill="url(#e0)"/><rect x="506.68" y="17" width="211" height="3" fill="url(#e1)"/><rect x="506.68" y="20" width="211" height="3" fill="url(#e2)"/><rect x="506.68" y="23" width="211" height="3" fill="url(#e3)"/><rect x="506.68" y="26" width="211" height="3" fill="url(#e4)"/><rect x="506.68" y="29" width="211" height="3" fill="url(#e5)"/><rect x="506.68" y="32" width="211" height="3" fill="url(#e6)"/><rect x="506.68" y="35" width="211" height="3" fill="url(#e7)"/><rect x="506.68" y="38" width="211" height="3" fill="url(#e8)"/><rect x="506.68" y="41" width="211" height="3" fill="url(#e9)"/><rect x="506.68" y="44" width="211" height="3" fill="url(#e10)"/><rect x="506.68" y="47" width="211" height="3" fill="url(#e11)"/><rect x="506.68" y="50" width="211" height="3" fill="url(#e12)"/><rect x="506.68" y="53" width="211" height="3" fill="url(#e13)"/><rect x="506.68" y="56" width="211" height="3" fill="url(#e14)"/><rect x="506.68" y="59" width="211" height="3" fill="url(#e15)"/><rect x="506.68" y="62" width="211" height="3" fill="url(#e16)"/><rect x="506.68" y="65" width="211" height="3" fill="url(#e17)"/><rect x="506.68" y="68" width="211" height="3" fill="url(#e18)"/><rect x="506.68" y="71" width="211" height="3" fill="url(#e19)"/><rect x="506.68" y="74" width="211" height="3" fill="url(#e20)"/><rect x="506.68" y="77" width="211" height="3" fill="url(#e21)"/><rect x="506.68" y="80" width="211" height="3" fill="url(#e22)"/><rect x="506.68" y="83" width="211" height="3" fill="url(#e23)"/><rect x="506.68" y="86" width="211" height="3" fill="url(#e24)"/><rect x="506.68" y="89" width="211" height="3" fill="url(#e25)"/><rect x="506.68" y="92" width="211" height="3" fill="url(#e26)"/><rect x="506.68" y="95" width="211" height="3" fill="url(#e27)"/><rect x="506.68" y="98" width="211" height="3" fill="url(#e28)"/><rect x="506.68" y="101" width="211" height="3" fill="url(#e29)"/><rect x="506.68" y="104" width="211" height="3" fill="url(#e30)"/><rect x="506.68" y="107" width="211" height="3" fill="url(#e31)"/><rect x="506.68" y="110" width="211" height="3" fill="url(#e32)"/><rect x="506.68" y="113" width="211" height="3" fill="url(#e33)"/><rect x="506.68" y="116" width="211" height="3" fill="url(#e34)"/><rect x="506.68" y="119" width="211" height="3" fill="url(#e35)"/><rect x="506.68" y="122" width="211" height="3" fill="url(#e36)"/><rect x="506.68" y="125" width="211" height="3" fill="url(#e37)"/><rect x="506.68" y="128" width="211" height="3" fill="url(#e38)"/><rect x="506.68" y="131" width="211" height="3" fill="url(#e39)"/><rect x="506.68" y="134" width="211" height="3" fill="url(#e40)"/><rect x="506.68" y="137" width="211" height="3" fill="url(#e41)"/><rect x="506.68" y="140" width="211" height="3" fill="url(#e42)"/><rect x="506.68" y="143" width="211" height="3" fill="url(#e43)"/><rect x="506.68" y="146" width="211" height="3" fill="url(#e44)"/><rect x="506.68" y="149" width="211" height="3" fill="url(#e45)"/><rect x="506.68" y="152" width="211" height="3" fill="url(#e46)"/></g></g>
<path d="M608.54 14.2L604.65 21.13L600.87 28.06L597.21 34.99L593.66 41.92L590.23 48.85L586.91 55.78L583.71 62.71L580.62 69.64L577.65 76.57L574.73 83.5L571.63 90.43L568.53 97.36L565.44 104.29L562.34 111.22L559.24 118.15L556.14 125.08L553.05 132.01L549.95 138.94L546.85 145.87L543.75 152.8" fill="none" stroke="#1a0000" stroke-width="0.7"/>
<rect x="501.2" y="14.2" width="145.8" height="138.6" fill="none" stroke="#222" stroke-width="0.9"/>
<path d="M537.65 152.8v-2.8M574.1 152.8v-2.8M610.55 152.8v-2.8" stroke="#111" stroke-width="0.8" fill="none"/>
<path d="M519.43 152.8v-1.6M555.88 152.8v-1.6M592.33 152.8v-1.6M628.77 152.8v-1.6" stroke="#111" stroke-width="0.8" fill="none"/>
<path d="M501.2 138.94h2.8M501.2 111.22h2.8M501.2 83.5h2.8M501.2 55.78h2.8M501.2 28.06h2.8" stroke="#111" stroke-width="0.8" fill="none"/>
<path d="M501.2 125.08h1.6M501.2 97.36h1.6M501.2 69.64h1.6M501.2 41.92h1.6" stroke="#111" stroke-width="0.8" fill="none"/>
<text x="500.7" y="164.85" font-size="10.2" text-anchor="middle" fill="#1a1a1a">-2</text>
<text x="537.15" y="164.85" font-size="10.2" text-anchor="middle" fill="#1a1a1a">-1</text>
<text x="574.1" y="164.85" font-size="10.2" text-anchor="middle" fill="#1a1a1a">0</text>
<text x="610.55" y="164.85" font-size="10.2" text-anchor="middle" fill="#1a1a1a">1</text>
<text x="647" y="164.85" font-size="10.2" text-anchor="middle" fill="#1a1a1a">2</text>
<text x="498.2" y="142.59" font-size="10.2" text-anchor="end" fill="#1a1a1a">-40</text>
<text x="498.2" y="114.87" font-size="10.2" text-anchor="end" fill="#1a1a1a">-20</text>
<text x="498.2" y="87.15" font-size="10.2" text-anchor="end" fill="#1a1a1a">0</text>
<text x="498.2" y="59.43" font-size="10.2" text-anchor="end" fill="#1a1a1a">20</text>
<text x="498.2" y="31.71" font-size="10.2" text-anchor="end" fill="#1a1a1a">40</text>
<text x="574.6" y="180.8" font-size="12" text-anchor="middle" fill="#1a1a1a"><tspan font-style="italic">V</tspan><tspan font-size="8.4" dy="2.6">int</tspan><tspan dy="-2.6"> (V)</tspan></text>
<text transform="translate(477 83.3) rotate(-90)" font-size="12" text-anchor="middle" fill="#1a1a1a"><tspan font-style="italic">V</tspan><tspan font-size="8.4" dy="2.6">BG</tspan><tspan dy="-2.6"> (V)</tspan></text>
<text x="608.4" y="11.58" font-size="8.6" text-anchor="middle" fill="#1a1a1a">CNP</text>
<defs><linearGradient id="cbe" x1="0" y1="0" x2="0" y2="1"><stop offset="0" stop-color="#c80000"/><stop offset="0.03" stop-color="#fc0404"/><stop offset="0.5" stop-color="#ffffff"/><stop offset="1" stop-color="#0606fc"/></linearGradient></defs>
<rect x="658" y="14.4" width="4.6" height="138.4" fill="url(#cbe)" stroke="#555" stroke-width="0.6"/>
<path d="M662.6 16.2h2.6" stroke="#222" stroke-width="0.7"/>
<text x="666.8" y="19.21" font-size="8.4" text-anchor="start" fill="#1a1a1a">1000</text>
<path d="M662.6 83.7h2.6" stroke="#222" stroke-width="0.7"/>
<text x="666.8" y="86.71" font-size="8.4" text-anchor="start" fill="#1a1a1a">500</text>
<path d="M662.6 151.2h2.6" stroke="#222" stroke-width="0.7"/>
<text x="666.8" y="154.21" font-size="8.4" text-anchor="start" fill="#1a1a1a">0</text>
<text x="660" y="7.4" font-size="9.6" text-anchor="middle" fill="#1a1a1a"><tspan font-style="italic">R</tspan><tspan font-size="6.4" dy="2">G</tspan><tspan dy="-2"> (&#937;)</tspan></text>
<text x="466.2" y="207.8" font-size="17.2" font-weight="bold" fill="#1a1010">f</text>
<defs><linearGradient id="f0" gradientUnits="userSpaceOnUse" x1="500.2" x2="648" y1="0" y2="0"><stop offset="0" stop-color="#2525fc"/><stop offset=".1264" stop-color="#2f2ffc"/><stop offset=".1625" stop-color="#3939fd"/><stop offset=".1896" stop-color="#4949fd"/><stop offset=".2144" stop-color="#6464fd"/><stop offset=".2348" stop-color="#8b8bfe"/><stop offset=".2506" stop-color="#b9b9fe"/><stop offset=".2664" stop-color="#fcfcff"/><stop offset=".2686" stop-color="#fff5f5"/><stop offset=".2731" stop-color="#ffd9d9"/><stop offset=".2754" stop-color="#feaeae"/><stop offset=".2822" stop-color="#fc1616"/><stop offset=".2844" stop-color="#c80000"/><stop offset=".3296" stop-color="#c80000"/><stop offset=".3318" stop-color="#fc1e1e"/><stop offset=".3386" stop-color="#feb5b5"/><stop offset=".3409" stop-color="#ffe1e1"/><stop offset=".3431" stop-color="#fcfcff"/><stop offset=".3499" stop-color="#b7b7fe"/><stop offset=".3567" stop-color="#8c8cfe"/><stop offset=".3657" stop-color="#6d6dfd"/><stop offset=".3747" stop-color="#6565fd"/><stop offset=".3837" stop-color="#6f6ffd"/><stop offset=".3928" stop-color="#9090fe"/><stop offset=".3995" stop-color="#bdbdfe"/><stop offset=".4041" stop-color="#eaeaff"/><stop offset=".4063" stop-color="#fff7f7"/><stop offset=".4086" stop-color="#fed5d5"/><stop offset=".4176" stop-color="#fc0d0d"/><stop offset=".4199" stop-color="#c80000"/><stop offset=".4831" stop-color="#c80000"/><stop offset=".4853" stop-color="#fc0909"/><stop offset=".4944" stop-color="#fed0d0"/><stop offset=".4966" stop-color="#ffecec"/><stop offset=".4989" stop-color="#f9f9ff"/><stop offset=".5034" stop-color="#d2d2fe"/><stop offset=".5079" stop-color="#b3b3fe"/><stop offset=".5169" stop-color="#8989fe"/><stop offset=".5282" stop-color="#6b6bfd"/><stop offset=".5418" stop-color="#5e5efd"/><stop offset=".5598" stop-color="#6464fd"/><stop offset=".5756" stop-color="#7c7cfd"/><stop offset=".5892" stop-color="#a1a1fe"/><stop offset=".6027" stop-color="#dedeff"/><stop offset=".605" stop-color="#fed4d4"/><stop offset=".6095" stop-color="#fc0f0f"/><stop offset=".6117" stop-color="#e20202"/><stop offset=".614" stop-color="#fd5151"/><stop offset=".6163" stop-color="#fea6a6"/><stop offset=".6185" stop-color="#ffebeb"/><stop offset=".6343" stop-color="#ffffff"/><stop offset=".6479" stop-color="#e4e4ff"/><stop offset=".6817" stop-color="#9191fe"/><stop offset=".6998" stop-color="#6b6bfd"/><stop offset=".7201" stop-color="#4c4cfd"/><stop offset=".7427" stop-color="#3939fd"/><stop offset=".7968" stop-color="#2b2bfc"/><stop offset="1" stop-color="#2525fc"/></linearGradient><linearGradient id="f1" gradientUnits="userSpaceOnUse" x1="500.2" x2="648" y1="0" y2="0"><stop offset="0" stop-color="#2525fc"/><stop offset=".1287" stop-color="#2f2ffc"/><stop offset=".1648" stop-color="#3a3afd"/><stop offset=".1919" stop-color="#4a4afd"/><stop offset=".2144" stop-color="#6363fd"/><stop offset=".2348" stop-color="#8989fe"/><stop offset=".2506" stop-color="#b6b6fe"/><stop offset=".2664" stop-color="#f8f8ff"/><stop offset=".2686" stop-color="#fffafa"/><stop offset=".2731" stop-color="#ffdfdf"/><stop offset=".2754" stop-color="#fec0c0"/><stop offset=".2822" stop-color="#fc2828"/><stop offset=".2844" stop-color="#c80000"/><stop offset=".3296" stop-color="#c80000"/><stop offset=".3318" stop-color="#fc0b0b"/><stop offset=".3409" stop-color="#fed4d4"/><stop offset=".3431" stop-color="#fff7f7"/><stop offset=".3454" stop-color="#ebebff"/><stop offset=".3521" stop-color="#acacfe"/><stop offset=".3589" stop-color="#8585fe"/><stop offset=".3679" stop-color="#6b6bfd"/><stop offset=".377" stop-color="#6666fd"/><stop offset=".386" stop-color="#7373fd"/><stop offset=".3928" stop-color="#8c8cfe"/><stop offset=".3995" stop-color="#b8b8fe"/><stop offset=".4063" stop-color="#fdfdff"/><stop offset=".4086" stop-color="#ffe0e0"/><stop offset=".4108" stop-color="#feb4b4"/><stop offset=".4176" stop-color="#fc1d1d"/><stop offset=".4199" stop-color="#c80000"/><stop offset=".4831" stop-color="#c80000"/><stop offset=".4853" stop-color="#d10101"/><stop offset=".4876" stop-color="#fc2b2b"/><stop offset=".4944" stop-color="#fec2c2"/><stop offset=".4989" stop-color="#fffdfd"/><stop offset=".5079" stop-color="#b8b8fe"/><stop offset=".5124" stop-color="#9f9ffe"/><stop offset=".5192" stop-color="#8383fe"/><stop offset=".5305" stop-color="#6969fd"/><stop offset=".5463" stop-color="#5d5dfd"/><stop offset=".5643" stop-color="#6767fd"/><stop offset=".5824" stop-color="#8989fe"/><stop offset=".5914" stop-color="#a5a5fe"/><stop offset=".6005" stop-color="#cbcbfe"/><stop offset=".6027" stop-color="#d7d7ff"/><stop offset=".605" stop-color="#f5f5ff"/><stop offset=".6072" stop-color="#fea8a8"/><stop offset=".6095" stop-color="#fd4545"/><stop offset=".6117" stop-color="#c80000"/><stop offset=".614" stop-color="#fc2323"/><stop offset=".6185" stop-color="#fecccc"/><stop offset=".6208" stop-color="#ffecec"/><stop offset=".6366" stop-color="#fefeff"/><stop offset=".6998" stop-color="#6d6dfd"/><stop offset=".7201" stop-color="#4d4dfd"/><stop offset=".7427" stop-color="#3939fd"/><stop offset=".7968" stop-color="#2b2bfc"/><stop offset="1" stop-color="#2525fc"/></linearGradient><linearGradient id="f2" gradientUnits="userSpaceOnUse" x1="500.2" x2="648" y1="0" y2="0"><stop offset="0" stop-color="#2525fc"/><stop offset=".1287" stop-color="#2f2ffc"/><stop offset=".1648" stop-color="#3939fd"/><stop offset=".1919" stop-color="#4a4afd"/><stop offset=".2167" stop-color="#6565fd"/><stop offset=".237" stop-color="#8c8cfe"/><stop offset=".2528" stop-color="#bbbbfe"/><stop offset=".2686" stop-color="#ffffff"/><stop offset=".2754" stop-color="#fed4d4"/><stop offset=".2844" stop-color="#fc0909"/><stop offset=".2867" stop-color="#c80000"/><stop offset=".3296" stop-color="#c80000"/><stop offset=".3318" stop-color="#ce0000"/><stop offset=".3341" stop-color="#fc2b2b"/><stop offset=".3409" stop-color="#fec2c2"/><stop offset=".3431" stop-color="#ffeaea"/><stop offset=".3454" stop-color="#f5f5ff"/><stop offset=".3521" stop-color="#b2b2fe"/><stop offset=".3589" stop-color="#8989fe"/><stop offset=".3657" stop-color="#7171fd"/><stop offset=".3747" stop-color="#6666fd"/><stop offset=".3837" stop-color="#6d6dfd"/><stop offset=".3928" stop-color="#8989fe"/><stop offset=".3995" stop-color="#b2b2fe"/><stop offset=".4063" stop-color="#f4f4ff"/><stop offset=".4086" stop-color="#ffebeb"/><stop offset=".4108" stop-color="#fec4c4"/><stop offset=".4176" stop-color="#fc2d2d"/><stop offset=".4199" stop-color="#d70101"/><stop offset=".4221" stop-color="#c80000"/><stop offset=".4853" stop-color="#c80000"/><stop offset=".4876" stop-color="#fc1b1b"/><stop offset=".4944" stop-color="#feb2b2"/><stop offset=".4966" stop-color="#ffdbdb"/><stop offset=".4989" stop-color="#fff6f6"/><stop offset=".5011" stop-color="#f2f2ff"/><stop offset=".5056" stop-color="#ccccfe"/><stop offset=".5102" stop-color="#aeaefe"/><stop offset=".5192" stop-color="#8585fe"/><stop offset=".5305" stop-color="#6a6afd"/><stop offset=".544" stop-color="#5d5dfd"/><stop offset=".5621" stop-color="#6363fd"/><stop offset=".5779" stop-color="#7b7bfd"/><stop offset=".5914" stop-color="#a1a1fe"/><stop offset=".605" stop-color="#dcdcff"/><stop offset=".6072" stop-color="#ffdede"/><stop offset=".6117" stop-color="#fc1919"/><stop offset=".614" stop-color="#c80000"/><stop offset=".6163" stop-color="#fd4949"/><stop offset=".6208" stop-color="#ffebeb"/><stop offset=".6366" stop-color="#fffefe"/><stop offset=".6501" stop-color="#e5e5ff"/><stop offset=".684" stop-color="#9191fe"/><stop offset=".702" stop-color="#6b6bfd"/><stop offset=".7223" stop-color="#4c4cfd"/><stop offset=".7449" stop-color="#3939fd"/><stop offset=".7991" stop-color="#2b2bfc"/><stop offset="1" stop-color="#2525fc"/></linearGradient><linearGradient id="f3" gradientUnits="userSpaceOnUse" x1="500.2" x2="648" y1="0" y2="0"><stop offset="0" stop-color="#2525fc"/><stop offset=".1287" stop-color="#2f2ffc"/><stop offset=".1648" stop-color="#3939fd"/><stop offset=".1919" stop-color="#4949fd"/><stop offset=".2167" stop-color="#6464fd"/><stop offset=".237" stop-color="#8a8afe"/><stop offset=".2528" stop-color="#b8b8fe"/><stop offset=".2686" stop-color="#fbfbff"/><stop offset=".2709" stop-color="#fff7f7"/><stop offset=".2754" stop-color="#ffdbdb"/><stop offset=".2777" stop-color="#feb4b4"/><stop offset=".2844" stop-color="#fc1c1c"/><stop offset=".2867" stop-color="#c80000"/><stop offset=".3318" stop-color="#c80000"/><stop offset=".3341" stop-color="#fc1717"/><stop offset=".3431" stop-color="#ffdcdc"/><stop offset=".3454" stop-color="#fffefe"/><stop offset=".3521" stop-color="#b9b9fe"/><stop offset=".3589" stop-color="#8d8dfe"/><stop offset=".3657" stop-color="#7474fd"/><stop offset=".3747" stop-color="#6666fd"/><stop offset=".3837" stop-color="#6b6bfd"/><stop offset=".3928" stop-color="#8686fe"/><stop offset=".3995" stop-color="#acacfe"/><stop offset=".4063" stop-color="#ebebff"/><stop offset=".4086" stop-color="#fff6f6"/><stop offset=".4108" stop-color="#fed4d4"/><stop offset=".4199" stop-color="#fc0b0b"/><stop offset=".4221" stop-color="#c80000"/><stop offset=".4853" stop-color="#c80000"/><stop offset=".4876" stop-color="#fc0a0a"/><stop offset=".4966" stop-color="#fed1d1"/><stop offset=".4989" stop-color="#ffeded"/><stop offset=".5011" stop-color="#f9f9ff"/><stop offset=".5056" stop-color="#d1d1fe"/><stop offset=".5102" stop-color="#b3b3fe"/><stop offset=".5192" stop-color="#8888fe"/><stop offset=".5305" stop-color="#6b6bfd"/><stop offset=".5463" stop-color="#5c5cfd"/><stop offset=".5643" stop-color="#6464fd"/><stop offset=".5824" stop-color="#8383fe"/><stop offset=".5982" stop-color="#b6b6fe"/><stop offset=".605" stop-color="#d5d5fe"/><stop offset=".6072" stop-color="#ececff"/><stop offset=".6095" stop-color="#feb2b2"/><stop offset=".6117" stop-color="#fd5050"/><stop offset=".614" stop-color="#c80000"/><stop offset=".6163" stop-color="#fc1b1b"/><stop offset=".6208" stop-color="#fec3c3"/><stop offset=".623" stop-color="#ffecec"/><stop offset=".6388" stop-color="#fefeff"/><stop offset=".7043" stop-color="#6969fd"/><stop offset=".7246" stop-color="#4b4bfd"/><stop offset=".7449" stop-color="#3939fd"/><stop offset=".7991" stop-color="#2b2bfc"/><stop offset="1" stop-color="#2525fc"/></linearGradient><linearGradient id="f4" gradientUnits="userSpaceOnUse" x1="500.2" x2="648" y1="0" y2="0"><stop offset="0" stop-color="#2525fc"/><stop offset=".1287" stop-color="#2e2efc"/><stop offset=".1648" stop-color="#3939fd"/><stop offset=".1941" stop-color="#4a4afd"/><stop offset=".2167" stop-color="#6363fd"/><stop offset=".237" stop-color="#8888fe"/><stop offset=".2551" stop-color="#bdbdfe"/><stop offset=".2709" stop-color="#fffcfc"/><stop offset=".2754" stop-color="#ffe1e1"/><stop offset=".2777" stop-color="#fec9c9"/><stop offset=".2844" stop-color="#fd3030"/><stop offset=".2867" stop-color="#e20202"/><stop offset=".2889" stop-color="#c80000"/><stop offset=".3318" stop-color="#c80000"/><stop offset=".3341" stop-color="#f90404"/><stop offset=".3431" stop-color="#fecccc"/><stop offset=".3454" stop-color="#fff1f1"/><stop offset=".3476" stop-color="#efefff"/><stop offset=".3544" stop-color="#afaffe"/><stop offset=".3612" stop-color="#8787fe"/><stop offset=".3702" stop-color="#6c6cfd"/><stop offset=".3792" stop-color="#6666fd"/><stop offset=".3883" stop-color="#7474fd"/><stop offset=".395" stop-color="#8d8dfe"/><stop offset=".4018" stop-color="#b8b8fe"/><stop offset=".4086" stop-color="#fdfdff"/><stop offset=".4108" stop-color="#ffe0e0"/><stop offset=".4131" stop-color="#feb4b4"/><stop offset=".4199" stop-color="#fc1d1d"/><stop offset=".4221" stop-color="#c80000"/><stop offset=".4853" stop-color="#c80000"/><stop offset=".4876" stop-color="#d20101"/><stop offset=".4898" stop-color="#fc2c2c"/><stop offset=".4966" stop-color="#fec3c3"/><stop offset=".5011" stop-color="#fffefe"/><stop offset=".5102" stop-color="#b7b7fe"/><stop offset=".5192" stop-color="#8b8bfe"/><stop offset=".5305" stop-color="#6c6cfd"/><stop offset=".5463" stop-color="#5c5cfd"/><stop offset=".5643" stop-color="#6363fd"/><stop offset=".5801" stop-color="#7b7bfd"/><stop offset=".5937" stop-color="#a0a0fe"/><stop offset=".6072" stop-color="#dbdbff"/><stop offset=".6095" stop-color="#ffe8e8"/><stop offset=".614" stop-color="#fc2323"/><stop offset=".6163" stop-color="#c80000"/><stop offset=".6185" stop-color="#fd4040"/><stop offset=".623" stop-color="#ffe9e9"/><stop offset=".6388" stop-color="#fffefe"/><stop offset=".6524" stop-color="#e5e5ff"/><stop offset=".7043" stop-color="#6b6bfd"/><stop offset=".7246" stop-color="#4c4cfd"/><stop offset=".7472" stop-color="#3939fd"/><stop offset=".8014" stop-color="#2b2bfc"/><stop offset="1" stop-color="#2525fc"/></linearGradient><linearGradient id="f5" gradientUnits="userSpaceOnUse" x1="500.2" x2="648" y1="0" y2="0"><stop offset="0" stop-color="#2525fc"/><stop offset=".1287" stop-color="#2e2efc"/><stop offset=".1648" stop-color="#3838fd"/><stop offset=".1941" stop-color="#4949fd"/><stop offset=".219" stop-color="#6565fd"/><stop offset=".2393" stop-color="#8b8bfe"/><stop offset=".2551" stop-color="#b9b9fe"/><stop offset=".2709" stop-color="#fdfdff"/><stop offset=".2777" stop-color="#ffd8d8"/><stop offset=".2867" stop-color="#fc1212"/><stop offset=".2889" stop-color="#c80000"/><stop offset=".3341" stop-color="#c80000"/><stop offset=".3363" stop-color="#fc2121"/><stop offset=".3431" stop-color="#feb8b8"/><stop offset=".3454" stop-color="#ffe3e3"/><stop offset=".3476" stop-color="#fafaff"/><stop offset=".3544" stop-color="#b6b6fe"/><stop offset=".3612" stop-color="#8b8bfe"/><stop offset=".3679" stop-color="#7373fd"/><stop offset=".377" stop-color="#6666fd"/><stop offset=".386" stop-color="#6d6dfd"/><stop offset=".395" stop-color="#8989fe"/><stop offset=".4018" stop-color="#b2b2fe"/><stop offset=".4086" stop-color="#f3f3ff"/><stop offset=".4108" stop-color="#ffecec"/><stop offset=".4131" stop-color="#fec5c5"/><stop offset=".4199" stop-color="#fd2e2e"/><stop offset=".4221" stop-color="#db0101"/><stop offset=".4244" stop-color="#c80000"/><stop offset=".4876" stop-color="#c80000"/><stop offset=".4898" stop-color="#fc1a1a"/><stop offset=".4966" stop-color="#feb1b1"/><stop offset=".4989" stop-color="#ffdada"/><stop offset=".5011" stop-color="#fff5f5"/><stop offset=".5034" stop-color="#f2f2ff"/><stop offset=".5079" stop-color="#ccccfe"/><stop offset=".5124" stop-color="#aeaefe"/><stop offset=".5214" stop-color="#8585fe"/><stop offset=".5327" stop-color="#6969fd"/><stop offset=".5485" stop-color="#5b5bfd"/><stop offset=".5666" stop-color="#6363fd"/><stop offset=".5824" stop-color="#7d7dfd"/><stop offset=".5982" stop-color="#ababfe"/><stop offset=".6095" stop-color="#e2e2ff"/><stop offset=".6117" stop-color="#febdbd"/><stop offset=".614" stop-color="#fd5a5a"/><stop offset=".6163" stop-color="#c80000"/><stop offset=".6185" stop-color="#fc1212"/><stop offset=".623" stop-color="#febaba"/><stop offset=".6253" stop-color="#ffecec"/><stop offset=".6411" stop-color="#fefeff"/><stop offset=".7065" stop-color="#6969fd"/><stop offset=".7269" stop-color="#4b4bfd"/><stop offset=".7472" stop-color="#3939fd"/><stop offset=".8014" stop-color="#2b2bfc"/><stop offset="1" stop-color="#2525fc"/></linearGradient><linearGradient id="f6" gradientUnits="userSpaceOnUse" x1="500.2" x2="648" y1="0" y2="0"><stop offset="0" stop-color="#2525fc"/><stop offset=".1287" stop-color="#2e2efc"/><stop offset=".1648" stop-color="#3838fd"/><stop offset=".1941" stop-color="#4949fd"/><stop offset=".219" stop-color="#6363fd"/><stop offset=".2393" stop-color="#8989fe"/><stop offset=".2551" stop-color="#b6b6fe"/><stop offset=".2709" stop-color="#f8f8ff"/><stop offset=".2731" stop-color="#fff9f9"/><stop offset=".2777" stop-color="#ffdede"/><stop offset=".2799" stop-color="#febfbf"/><stop offset=".2867" stop-color="#fc2727"/><stop offset=".2889" stop-color="#c80000"/><stop offset=".3341" stop-color="#c80000"/><stop offset=".3363" stop-color="#fc0c0c"/><stop offset=".3454" stop-color="#fed4d4"/><stop offset=".3476" stop-color="#fff7f7"/><stop offset=".3499" stop-color="#ebebff"/><stop offset=".3544" stop-color="#bebefe"/><stop offset=".3612" stop-color="#9090fe"/><stop offset=".3679" stop-color="#7676fd"/><stop offset=".377" stop-color="#6767fd"/><stop offset=".386" stop-color="#6c6cfd"/><stop offset=".395" stop-color="#8686fe"/><stop offset=".4018" stop-color="#acacfe"/><stop offset=".4086" stop-color="#eaeaff"/><stop offset=".4108" stop-color="#fff8f8"/><stop offset=".4131" stop-color="#ffd5d5"/><stop offset=".4221" stop-color="#fc0e0e"/><stop offset=".4244" stop-color="#c80000"/><stop offset=".4876" stop-color="#c80000"/><stop offset=".4898" stop-color="#fc0808"/><stop offset=".4989" stop-color="#fed0d0"/><stop offset=".5011" stop-color="#ffecec"/><stop offset=".5034" stop-color="#f9f9ff"/><stop offset=".5079" stop-color="#d2d2fe"/><stop offset=".5124" stop-color="#b3b3fe"/><stop offset=".5214" stop-color="#8888fe"/><stop offset=".5327" stop-color="#6a6afd"/><stop offset=".5485" stop-color="#5b5bfd"/><stop offset=".5666" stop-color="#6262fd"/><stop offset=".5824" stop-color="#7a7afd"/><stop offset=".5959" stop-color="#9f9ffe"/><stop offset=".6095" stop-color="#d9d9ff"/><stop offset=".6117" stop-color="#fff3f3"/><stop offset=".6163" stop-color="#fd2e2e"/><stop offset=".6185" stop-color="#c80000"/><stop offset=".6208" stop-color="#fd3737"/><stop offset=".6253" stop-color="#ffe0e0"/><stop offset=".6275" stop-color="#ffecec"/><stop offset=".6411" stop-color="#fffefe"/><stop offset=".6546" stop-color="#e6e6ff"/><stop offset=".7065" stop-color="#6c6cfd"/><stop offset=".7269" stop-color="#4d4dfd"/><stop offset=".7494" stop-color="#3939fd"/><stop offset=".8036" stop-color="#2b2bfc"/><stop offset="1" stop-color="#2525fc"/></linearGradient><linearGradient id="f7" gradientUnits="userSpaceOnUse" x1="500.2" x2="648" y1="0" y2="0"><stop offset="0" stop-color="#2525fc"/><stop offset=".1309" stop-color="#2e2efc"/><stop offset=".167" stop-color="#3838fd"/><stop offset=".1964" stop-color="#4a4afd"/><stop offset=".2212" stop-color="#6565fd"/><stop offset=".2415" stop-color="#8c8cfe"/><stop offset=".2573" stop-color="#bbbbfe"/><stop offset=".2731" stop-color="#ffffff"/><stop offset=".2799" stop-color="#fed5d5"/><stop offset=".2889" stop-color="#fc0a0a"/><stop offset=".2912" stop-color="#c80000"/><stop offset=".3363" stop-color="#c80000"/><stop offset=".3386" stop-color="#fc2929"/><stop offset=".3454" stop-color="#fec0c0"/><stop offset=".3476" stop-color="#ffe9e9"/><stop offset=".3499" stop-color="#f6f6ff"/><stop offset=".3567" stop-color="#b3b3fe"/><stop offset=".3634" stop-color="#8a8afe"/><stop offset=".3725" stop-color="#6e6efd"/><stop offset=".3815" stop-color="#6767fd"/><stop offset=".3905" stop-color="#7474fd"/><stop offset=".3973" stop-color="#8c8cfe"/><stop offset=".4041" stop-color="#b7b7fe"/><stop offset=".4108" stop-color="#fbfbff"/><stop offset=".4131" stop-color="#ffe2e2"/><stop offset=".4153" stop-color="#feb7b7"/><stop offset=".4221" stop-color="#fc2020"/><stop offset=".4244" stop-color="#c80000"/><stop offset=".4898" stop-color="#c80000"/><stop offset=".4921" stop-color="#fc2828"/><stop offset=".4989" stop-color="#febfbf"/><stop offset=".5011" stop-color="#ffe2e2"/><stop offset=".5034" stop-color="#fffcfc"/><stop offset=".5124" stop-color="#b8b8fe"/><stop offset=".5214" stop-color="#8b8bfe"/><stop offset=".5327" stop-color="#6b6bfd"/><stop offset=".5485" stop-color="#5b5bfd"/><stop offset=".5666" stop-color="#6161fd"/><stop offset=".5824" stop-color="#7777fd"/><stop offset=".5982" stop-color="#a2a2fe"/><stop offset=".6117" stop-color="#dfdfff"/><stop offset=".614" stop-color="#fec8c8"/><stop offset=".6163" stop-color="#fd6565"/><stop offset=".6185" stop-color="#f40303"/><stop offset=".6208" stop-color="#fc0909"/><stop offset=".6253" stop-color="#feb1b1"/><stop offset=".6275" stop-color="#ffebeb"/><stop offset=".6433" stop-color="#ffffff"/><stop offset=".7088" stop-color="#6a6afd"/><stop offset=".7291" stop-color="#4b4bfd"/><stop offset=".7494" stop-color="#3939fd"/><stop offset=".8036" stop-color="#2b2bfc"/><stop offset="1" stop-color="#2525fc"/></linearGradient><linearGradient id="f8" gradientUnits="userSpaceOnUse" x1="500.2" x2="648" y1="0" y2="0"><stop offset="0" stop-color="#2525fc"/><stop offset=".1309" stop-color="#2e2efc"/><stop offset=".167" stop-color="#3838fd"/><stop offset=".1964" stop-color="#4949fd"/><stop offset=".2212" stop-color="#6464fd"/><stop offset=".2415" stop-color="#8a8afe"/><stop offset=".2573" stop-color="#b7b7fe"/><stop offset=".2731" stop-color="#fafaff"/><stop offset=".2754" stop-color="#fff8f8"/><stop offset=".2799" stop-color="#ffdcdc"/><stop offset=".2822" stop-color="#feb8b8"/><stop offset=".2889" stop-color="#fc2020"/><stop offset=".2912" stop-color="#c80000"/><stop offset=".3363" stop-color="#c80000"/><stop offset=".3386" stop-color="#fc1313"/><stop offset=".3476" stop-color="#ffd9d9"/><stop offset=".3499" stop-color="#fffbfb"/><stop offset=".3567" stop-color="#bbbbfe"/><stop offset=".3634" stop-color="#8f8ffe"/><stop offset=".3702" stop-color="#7575fd"/><stop offset=".3792" stop-color="#6767fd"/><stop offset=".3883" stop-color="#6d6dfd"/><stop offset=".3973" stop-color="#8888fe"/><stop offset=".4041" stop-color="#b0b0fe"/><stop offset=".4108" stop-color="#f1f1ff"/><stop offset=".4131" stop-color="#ffefef"/><stop offset=".4153" stop-color="#fecaca"/><stop offset=".4221" stop-color="#fd3333"/><stop offset=".4244" stop-color="#ef0303"/><stop offset=".4266" stop-color="#c80000"/><stop offset=".4898" stop-color="#c80000"/><stop offset=".4921" stop-color="#fc1515"/><stop offset=".4989" stop-color="#feadad"/><stop offset=".5011" stop-color="#ffd8d8"/><stop offset=".5034" stop-color="#fff3f3"/><stop offset=".5056" stop-color="#f4f4ff"/><stop offset=".5102" stop-color="#cdcdfe"/><stop offset=".5147" stop-color="#afaffe"/><stop offset=".526" stop-color="#7e7efd"/><stop offset=".5395" stop-color="#6262fd"/><stop offset=".5553" stop-color="#5a5afd"/><stop offset=".5756" stop-color="#6969fd"/><stop offset=".5937" stop-color="#8f8ffe"/><stop offset=".6027" stop-color="#aeaefe"/><stop offset=".6117" stop-color="#d8d8ff"/><stop offset=".614" stop-color="#fffefe"/><stop offset=".6185" stop-color="#fd3939"/><stop offset=".6208" stop-color="#c80000"/><stop offset=".623" stop-color="#fd2e2e"/><stop offset=".6275" stop-color="#ffd6d6"/><stop offset=".6298" stop-color="#ffecec"/><stop offset=".6433" stop-color="#fffdfd"/><stop offset=".6569" stop-color="#e6e6ff"/><stop offset=".693" stop-color="#8d8dfe"/><stop offset=".7111" stop-color="#6868fd"/><stop offset=".7314" stop-color="#4a4afd"/><stop offset=".7517" stop-color="#3939fd"/><stop offset=".8059" stop-color="#2b2bfc"/><stop offset="1" stop-color="#2525fc"/></linearGradient><linearGradient id="f9" gradientUnits="userSpaceOnUse" x1="500.2" x2="648" y1="0" y2="0"><stop offset="0" stop-color="#2525fc"/><stop offset=".1309" stop-color="#2e2efc"/><stop offset=".167" stop-color="#3838fd"/><stop offset=".1964" stop-color="#4848fd"/><stop offset=".2212" stop-color="#6363fd"/><stop offset=".2415" stop-color="#8787fe"/><stop offset=".2596" stop-color="#bcbcfe"/><stop offset=".2754" stop-color="#fffdfd"/><stop offset=".2799" stop-color="#ffe3e3"/><stop offset=".2822" stop-color="#fecfcf"/><stop offset=".2912" stop-color="#fc0404"/><stop offset=".2935" stop-color="#c80000"/><stop offset=".3363" stop-color="#c80000"/><stop offset=".3386" stop-color="#df0202"/><stop offset=".3409" stop-color="#fd2f2f"/><stop offset=".3476" stop-color="#fec6c6"/><stop offset=".3499" stop-color="#ffeded"/><stop offset=".3521" stop-color="#f3f3ff"/><stop offset=".3589" stop-color="#b1b1fe"/><stop offset=".3657" stop-color="#8989fe"/><stop offset=".3747" stop-color="#6d6dfd"/><stop offset=".3837" stop-color="#6868fd"/><stop offset=".3928" stop-color="#7575fd"/><stop offset=".3995" stop-color="#8f8ffe"/><stop offset=".4063" stop-color="#bbbbfe"/><stop offset=".4131" stop-color="#fffcfc"/><stop offset=".4153" stop-color="#ffdada"/><stop offset=".4244" stop-color="#fc1414"/><stop offset=".4266" stop-color="#c80000"/><stop offset=".4898" stop-color="#c80000"/><stop offset=".4921" stop-color="#f50303"/><stop offset=".4944" stop-color="#fd3535"/><stop offset=".5011" stop-color="#fecccc"/><stop offset=".5034" stop-color="#ffe9e9"/><stop offset=".5056" stop-color="#fcfcff"/><stop offset=".5102" stop-color="#d4d4fe"/><stop offset=".5147" stop-color="#b4b4fe"/><stop offset=".5237" stop-color="#8989fe"/><stop offset=".535" stop-color="#6a6afd"/><stop offset=".5508" stop-color="#5a5afd"/><stop offset=".5688" stop-color="#6060fd"/><stop offset=".5869" stop-color="#7b7bfd"/><stop offset=".6005" stop-color="#a1a1fe"/><stop offset=".614" stop-color="#ddddff"/><stop offset=".6163" stop-color="#fed3d3"/><stop offset=".6208" stop-color="#fc0d0d"/><stop offset=".623" stop-color="#e90303"/><stop offset=".6253" stop-color="#fd5353"/><stop offset=".6275" stop-color="#fea7a7"/><stop offset=".6298" stop-color="#ffebeb"/><stop offset=".6456" stop-color="#ffffff"/><stop offset=".7111" stop-color="#6a6afd"/><stop offset=".7314" stop-color="#4c4cfd"/><stop offset=".7517" stop-color="#3a3afd"/><stop offset=".8059" stop-color="#2b2bfc"/><stop offset="1" stop-color="#2525fc"/></linearGradient><linearGradient id="f10" gradientUnits="userSpaceOnUse" x1="500.2" x2="648" y1="0" y2="0"><stop offset="0" stop-color="#2525fc"/><stop offset=".1309" stop-color="#2e2efc"/><stop offset=".167" stop-color="#3737fd"/><stop offset=".1964" stop-color="#4747fd"/><stop offset=".2212" stop-color="#6161fd"/><stop offset=".2415" stop-color="#8585fe"/><stop offset=".2596" stop-color="#b8b8fe"/><stop offset=".2754" stop-color="#fbfbff"/><stop offset=".2777" stop-color="#fff6f6"/><stop offset=".2822" stop-color="#ffdbdb"/><stop offset=".2844" stop-color="#feb3b3"/><stop offset=".2912" stop-color="#fc1b1b"/><stop offset=".2935" stop-color="#c80000"/><stop offset=".3386" stop-color="#c80000"/><stop offset=".3409" stop-color="#fc1818"/><stop offset=".3476" stop-color="#feafaf"/><stop offset=".3499" stop-color="#ffdddd"/><stop offset=".3521" stop-color="#fffefe"/><stop offset=".3589" stop-color="#b9b9fe"/><stop offset=".3657" stop-color="#8e8efe"/><stop offset=".3725" stop-color="#7575fd"/><stop offset=".3815" stop-color="#6868fd"/><stop offset=".3905" stop-color="#6e6efd"/><stop offset=".3995" stop-color="#8b8bfe"/><stop offset=".4063" stop-color="#b4b4fe"/><stop offset=".4131" stop-color="#f7f7ff"/><stop offset=".4153" stop-color="#ffe7e7"/><stop offset=".4176" stop-color="#febfbf"/><stop offset=".4244" stop-color="#fc2828"/><stop offset=".4266" stop-color="#c80000"/><stop offset=".4921" stop-color="#c80000"/><stop offset=".4944" stop-color="#fc2121"/><stop offset=".5011" stop-color="#feb8b8"/><stop offset=".5034" stop-color="#ffdede"/><stop offset=".5056" stop-color="#fff9f9"/><stop offset=".5079" stop-color="#efefff"/><stop offset=".5169" stop-color="#acacfe"/><stop offset=".526" stop-color="#8383fe"/><stop offset=".5395" stop-color="#6464fd"/><stop offset=".5553" stop-color="#5959fd"/><stop offset=".5756" stop-color="#6666fd"/><stop offset=".5937" stop-color="#8888fe"/><stop offset=".6027" stop-color="#a5a5fe"/><stop offset=".6117" stop-color="#cbcbfe"/><stop offset=".614" stop-color="#d6d6ff"/><stop offset=".6163" stop-color="#f5f5ff"/><stop offset=".6185" stop-color="#fea8a8"/><stop offset=".6208" stop-color="#fd4545"/><stop offset=".623" stop-color="#c80000"/><stop offset=".6253" stop-color="#fc2424"/><stop offset=".6298" stop-color="#fecdcd"/><stop offset=".6321" stop-color="#ffecec"/><stop offset=".6479" stop-color="#fdfdff"/><stop offset=".7111" stop-color="#6c6cfd"/><stop offset=".7314" stop-color="#4d4dfd"/><stop offset=".754" stop-color="#3939fd"/><stop offset=".8081" stop-color="#2b2bfc"/><stop offset="1" stop-color="#2525fc"/></linearGradient><linearGradient id="f11" gradientUnits="userSpaceOnUse" x1="500.2" x2="648" y1="0" y2="0"><stop offset="0" stop-color="#2525fc"/><stop offset=".1332" stop-color="#2e2efc"/><stop offset=".1693" stop-color="#3838fd"/><stop offset=".1986" stop-color="#4848fd"/><stop offset=".2235" stop-color="#6363fd"/><stop offset=".2438" stop-color="#8888fe"/><stop offset=".2619" stop-color="#bcbcfe"/><stop offset=".2777" stop-color="#fffcfc"/><stop offset=".2822" stop-color="#ffe1e1"/><stop offset=".2844" stop-color="#fecbcb"/><stop offset=".2912" stop-color="#fd3232"/><stop offset=".2935" stop-color="#eb0303"/><stop offset=".2957" stop-color="#c80000"/><stop offset=".3386" stop-color="#c80000"/><stop offset=".3409" stop-color="#ee0303"/><stop offset=".3431" stop-color="#fd3333"/><stop offset=".3499" stop-color="#fecaca"/><stop offset=".3521" stop-color="#ffefef"/><stop offset=".3544" stop-color="#f1f1ff"/><stop offset=".3612" stop-color="#b0b0fe"/><stop offset=".3679" stop-color="#8888fe"/><stop offset=".377" stop-color="#6d6dfd"/><stop offset=".386" stop-color="#6868fd"/><stop offset=".395" stop-color="#7777fd"/><stop offset=".4018" stop-color="#9292fe"/><stop offset=".4086" stop-color="#bfbffe"/><stop offset=".4131" stop-color="#ececff"/><stop offset=".4153" stop-color="#fff5f5"/><stop offset=".4176" stop-color="#fed2d2"/><stop offset=".4266" stop-color="#fc0909"/><stop offset=".4289" stop-color="#c80000"/><stop offset=".4921" stop-color="#c80000"/><stop offset=".4944" stop-color="#fc0d0d"/><stop offset=".5034" stop-color="#fed3d3"/><stop offset=".5056" stop-color="#ffefef"/><stop offset=".5079" stop-color="#f7f7ff"/><stop offset=".5124" stop-color="#d0d0fe"/><stop offset=".5169" stop-color="#b1b1fe"/><stop offset=".526" stop-color="#8787fe"/><stop offset=".5372" stop-color="#6969fd"/><stop offset=".553" stop-color="#5a5afd"/><stop offset=".5711" stop-color="#6060fd"/><stop offset=".5892" stop-color="#7a7afd"/><stop offset=".6027" stop-color="#a0a0fe"/><stop offset=".6163" stop-color="#dcdcff"/><stop offset=".6185" stop-color="#ffdfdf"/><stop offset=".623" stop-color="#fc1919"/><stop offset=".6253" stop-color="#c80000"/><stop offset=".6275" stop-color="#fd4949"/><stop offset=".6321" stop-color="#ffebeb"/><stop offset=".6479" stop-color="#ffffff"/><stop offset=".6614" stop-color="#e5e5ff"/><stop offset=".6953" stop-color="#9191fe"/><stop offset=".7133" stop-color="#6b6bfd"/><stop offset=".7336" stop-color="#4c4cfd"/><stop offset=".754" stop-color="#3a3afd"/><stop offset=".8081" stop-color="#2b2bfc"/><stop offset="1" stop-color="#2525fc"/></linearGradient><linearGradient id="f12" gradientUnits="userSpaceOnUse" x1="500.2" x2="648" y1="0" y2="0"><stop offset="0" stop-color="#2525fc"/><stop offset=".1332" stop-color="#2e2efc"/><stop offset=".1693" stop-color="#3737fd"/><stop offset=".1986" stop-color="#4848fd"/><stop offset=".2235" stop-color="#6161fd"/><stop offset=".2438" stop-color="#8686fe"/><stop offset=".2619" stop-color="#b9b9fe"/><stop offset=".2777" stop-color="#fcfcff"/><stop offset=".2799" stop-color="#fff5f5"/><stop offset=".2844" stop-color="#ffdada"/><stop offset=".2867" stop-color="#feb0b0"/><stop offset=".2935" stop-color="#fc1818"/><stop offset=".2957" stop-color="#c80000"/><stop offset=".3409" stop-color="#c80000"/><stop offset=".3431" stop-color="#fc1b1b"/><stop offset=".3499" stop-color="#feb2b2"/><stop offset=".3521" stop-color="#ffdfdf"/><stop offset=".3544" stop-color="#fefeff"/><stop offset=".3612" stop-color="#b8b8fe"/><stop offset=".3679" stop-color="#8d8dfe"/><stop offset=".3747" stop-color="#7575fd"/><stop offset=".3837" stop-color="#6868fd"/><stop offset=".3928" stop-color="#6f6ffd"/><stop offset=".4018" stop-color="#8d8dfe"/><stop offset=".4086" stop-color="#b8b8fe"/><stop offset=".4153" stop-color="#fdfdff"/><stop offset=".4176" stop-color="#ffe1e1"/><stop offset=".4199" stop-color="#feb5b5"/><stop offset=".4266" stop-color="#fc1e1e"/><stop offset=".4289" stop-color="#c80000"/><stop offset=".4921" stop-color="#c80000"/><stop offset=".4944" stop-color="#ce0000"/><stop offset=".4966" stop-color="#fc2b2b"/><stop offset=".5034" stop-color="#fec2c2"/><stop offset=".5079" stop-color="#fffefe"/><stop offset=".5169" stop-color="#b7b7fe"/><stop offset=".5214" stop-color="#9e9efe"/><stop offset=".5282" stop-color="#8282fd"/><stop offset=".5395" stop-color="#6666fd"/><stop offset=".5553" stop-color="#5959fd"/><stop offset=".5734" stop-color="#6060fd"/><stop offset=".5914" stop-color="#7d7dfd"/><stop offset=".6005" stop-color="#9494fe"/><stop offset=".6095" stop-color="#b5b5fe"/><stop offset=".6163" stop-color="#d5d5fe"/><stop offset=".6185" stop-color="#eaeaff"/><stop offset=".6208" stop-color="#feb4b4"/><stop offset=".623" stop-color="#fd5151"/><stop offset=".6253" stop-color="#c80000"/><stop offset=".6275" stop-color="#fc1a1a"/><stop offset=".6321" stop-color="#fec2c2"/><stop offset=".6343" stop-color="#ffecec"/><stop offset=".6501" stop-color="#fefeff"/><stop offset=".7156" stop-color="#6969fd"/><stop offset=".7359" stop-color="#4b4bfd"/><stop offset=".7562" stop-color="#3939fd"/><stop offset=".8104" stop-color="#2a2afc"/><stop offset="1" stop-color="#2525fc"/></linearGradient><linearGradient id="f13" gradientUnits="userSpaceOnUse" x1="500.2" x2="648" y1="0" y2="0"><stop offset="0" stop-color="#2525fc"/><stop offset=".1354" stop-color="#2e2efc"/><stop offset=".1716" stop-color="#3838fd"/><stop offset=".2009" stop-color="#4949fd"/><stop offset=".2257" stop-color="#6363fd"/><stop offset=".246" stop-color="#8888fe"/><stop offset=".2641" stop-color="#bdbdfe"/><stop offset=".2799" stop-color="#fffcfc"/><stop offset=".2844" stop-color="#ffe1e1"/><stop offset=".2867" stop-color="#fec9c9"/><stop offset=".2935" stop-color="#fd3030"/><stop offset=".2957" stop-color="#e30202"/><stop offset=".298" stop-color="#c80000"/><stop offset=".3409" stop-color="#c80000"/><stop offset=".3431" stop-color="#f60404"/><stop offset=".3454" stop-color="#fd3535"/><stop offset=".3521" stop-color="#fecccc"/><stop offset=".3544" stop-color="#fff0f0"/><stop offset=".3567" stop-color="#f0f0ff"/><stop offset=".3612" stop-color="#c2c2fe"/><stop offset=".3679" stop-color="#9393fe"/><stop offset=".3747" stop-color="#7878fd"/><stop offset=".3837" stop-color="#6969fd"/><stop offset=".3928" stop-color="#6e6efd"/><stop offset=".4018" stop-color="#8989fe"/><stop offset=".4086" stop-color="#b1b1fe"/><stop offset=".4153" stop-color="#f1f1ff"/><stop offset=".4176" stop-color="#ffefef"/><stop offset=".4199" stop-color="#fecaca"/><stop offset=".4266" stop-color="#fd3333"/><stop offset=".4289" stop-color="#ee0303"/><stop offset=".4312" stop-color="#c80000"/><stop offset=".4944" stop-color="#c80000"/><stop offset=".4966" stop-color="#fc1616"/><stop offset=".5034" stop-color="#feadad"/><stop offset=".5056" stop-color="#ffd8d8"/><stop offset=".5079" stop-color="#fff3f3"/><stop offset=".5102" stop-color="#f3f3ff"/><stop offset=".5147" stop-color="#cdcdfe"/><stop offset=".5192" stop-color="#afaffe"/><stop offset=".5282" stop-color="#8585fe"/><stop offset=".5395" stop-color="#6868fd"/><stop offset=".5553" stop-color="#5959fd"/><stop offset=".5734" stop-color="#5f5ffd"/><stop offset=".5914" stop-color="#7a7afd"/><stop offset=".605" stop-color="#9f9ffe"/><stop offset=".6185" stop-color="#dadaff"/><stop offset=".6208" stop-color="#ffebeb"/><stop offset=".6253" stop-color="#fc2626"/><stop offset=".6275" stop-color="#c80000"/><stop offset=".6298" stop-color="#fd3f3f"/><stop offset=".6343" stop-color="#ffe7e7"/><stop offset=".6501" stop-color="#fffefe"/><stop offset=".6637" stop-color="#e5e5ff"/><stop offset=".7156" stop-color="#6b6bfd"/><stop offset=".7359" stop-color="#4c4cfd"/><stop offset=".7585" stop-color="#3838fd"/><stop offset=".8104" stop-color="#2b2bfc"/><stop offset="1" stop-color="#2525fc"/></linearGradient><linearGradient id="f14" gradientUnits="userSpaceOnUse" x1="500.2" x2="648" y1="0" y2="0"><stop offset="0" stop-color="#2525fc"/><stop offset=".1354" stop-color="#2e2efc"/><stop offset=".1716" stop-color="#3838fd"/><stop offset=".2009" stop-color="#4848fd"/><stop offset=".2257" stop-color="#6262fd"/><stop offset=".246" stop-color="#8686fe"/><stop offset=".2641" stop-color="#b9b9fe"/><stop offset=".2799" stop-color="#fcfcff"/><stop offset=".2822" stop-color="#fff5f5"/><stop offset=".2867" stop-color="#ffd9d9"/><stop offset=".2889" stop-color="#feafaf"/><stop offset=".2957" stop-color="#fc1717"/><stop offset=".298" stop-color="#c80000"/><stop offset=".3431" stop-color="#c80000"/><stop offset=".3454" stop-color="#fc1c1c"/><stop offset=".3521" stop-color="#feb3b3"/><stop offset=".3544" stop-color="#ffdfdf"/><stop offset=".3567" stop-color="#fefeff"/><stop offset=".3634" stop-color="#b8b8fe"/><stop offset=".3702" stop-color="#8d8dfe"/><stop offset=".377" stop-color="#7575fd"/><stop offset=".386" stop-color="#6969fd"/><stop offset=".395" stop-color="#7171fd"/><stop offset=".4041" stop-color="#8f8ffe"/><stop offset=".4108" stop-color="#bbbbfe"/><stop offset=".4176" stop-color="#fffcfc"/><stop offset=".4199" stop-color="#ffdbdb"/><stop offset=".4221" stop-color="#feadad"/><stop offset=".4289" stop-color="#fc1616"/><stop offset=".4312" stop-color="#c80000"/><stop offset=".4944" stop-color="#c80000"/><stop offset=".4966" stop-color="#ee0303"/><stop offset=".4989" stop-color="#fd3333"/><stop offset=".5056" stop-color="#fecaca"/><stop offset=".5079" stop-color="#ffe8e8"/><stop offset=".5102" stop-color="#fdfdff"/><stop offset=".5147" stop-color="#d4d4fe"/><stop offset=".5192" stop-color="#b5b5fe"/><stop offset=".5282" stop-color="#8888fe"/><stop offset=".5395" stop-color="#6969fd"/><stop offset=".5553" stop-color="#5959fd"/><stop offset=".5734" stop-color="#5e5efd"/><stop offset=".5914" stop-color="#7777fd"/><stop offset=".6072" stop-color="#a2a2fe"/><stop offset=".6208" stop-color="#e0e0ff"/><stop offset=".623" stop-color="#fec0c0"/><stop offset=".6253" stop-color="#fd5e5e"/><stop offset=".6275" stop-color="#d60101"/><stop offset=".6298" stop-color="#fc1010"/><stop offset=".6343" stop-color="#feb8b8"/><stop offset=".6366" stop-color="#ffecec"/><stop offset=".6524" stop-color="#fefeff"/><stop offset=".7178" stop-color="#6969fd"/><stop offset=".7381" stop-color="#4b4bfd"/><stop offset=".7585" stop-color="#3939fd"/><stop offset=".8104" stop-color="#2b2bfc"/><stop offset="1" stop-color="#2525fc"/></linearGradient><linearGradient id="f15" gradientUnits="userSpaceOnUse" x1="500.2" x2="648" y1="0" y2="0"><stop offset="0" stop-color="#2525fc"/><stop offset=".1377" stop-color="#2e2efc"/><stop offset=".1738" stop-color="#3838fd"/><stop offset=".2032" stop-color="#4949fd"/><stop offset=".228" stop-color="#6363fd"/><stop offset=".2483" stop-color="#8888fe"/><stop offset=".2664" stop-color="#bdbdfe"/><stop offset=".2799" stop-color="#f7f7ff"/><stop offset=".2822" stop-color="#fffbfb"/><stop offset=".2867" stop-color="#ffe1e1"/><stop offset=".2889" stop-color="#fec8c8"/><stop offset=".2957" stop-color="#fd3030"/><stop offset=".298" stop-color="#e20202"/><stop offset=".3002" stop-color="#c80000"/><stop offset=".3431" stop-color="#c80000"/><stop offset=".3454" stop-color="#f60404"/><stop offset=".3476" stop-color="#fd3535"/><stop offset=".3544" stop-color="#fecccc"/><stop offset=".3567" stop-color="#fff0f0"/><stop offset=".3589" stop-color="#f0f0ff"/><stop offset=".3657" stop-color="#b0b0fe"/><stop offset=".3725" stop-color="#8888fe"/><stop offset=".3815" stop-color="#6e6efd"/><stop offset=".3905" stop-color="#6a6afd"/><stop offset=".3995" stop-color="#7a7afd"/><stop offset=".4063" stop-color="#9696fe"/><stop offset=".4131" stop-color="#c6c6fe"/><stop offset=".4176" stop-color="#f5f5ff"/><stop offset=".4199" stop-color="#ffeaea"/><stop offset=".4221" stop-color="#fec3c3"/><stop offset=".4289" stop-color="#fc2c2c"/><stop offset=".4312" stop-color="#d10101"/><stop offset=".4334" stop-color="#c80000"/><stop offset=".4966" stop-color="#c80000"/><stop offset=".4989" stop-color="#fc1d1d"/><stop offset=".5056" stop-color="#feb4b4"/><stop offset=".5079" stop-color="#ffdcdc"/><stop offset=".5102" stop-color="#fff7f7"/><stop offset=".5124" stop-color="#f0f0ff"/><stop offset=".5169" stop-color="#cacafe"/><stop offset=".5214" stop-color="#adadfe"/><stop offset=".5305" stop-color="#8484fe"/><stop offset=".5418" stop-color="#6767fd"/><stop offset=".5553" stop-color="#5959fd"/><stop offset=".5734" stop-color="#5d5dfd"/><stop offset=".5914" stop-color="#7474fd"/><stop offset=".6072" stop-color="#9e9efe"/><stop offset=".6208" stop-color="#d9d9ff"/><stop offset=".623" stop-color="#fff7f7"/><stop offset=".6275" stop-color="#fd3333"/><stop offset=".6298" stop-color="#c80000"/><stop offset=".6321" stop-color="#fd3434"/><stop offset=".6366" stop-color="#ffdddd"/><stop offset=".6388" stop-color="#ffeded"/><stop offset=".6524" stop-color="#fffefe"/><stop offset=".6659" stop-color="#e6e6ff"/><stop offset=".702" stop-color="#8d8dfe"/><stop offset=".7201" stop-color="#6767fd"/><stop offset=".7404" stop-color="#4a4afd"/><stop offset=".7607" stop-color="#3838fd"/><stop offset=".8126" stop-color="#2a2afc"/><stop offset="1" stop-color="#2525fc"/></linearGradient><linearGradient id="f16" gradientUnits="userSpaceOnUse" x1="500.2" x2="648" y1="0" y2="0"><stop offset="0" stop-color="#2525fc"/><stop offset=".1377" stop-color="#2e2efc"/><stop offset=".1738" stop-color="#3838fd"/><stop offset=".2032" stop-color="#4848fd"/><stop offset=".228" stop-color="#6262fd"/><stop offset=".2483" stop-color="#8686fe"/><stop offset=".2664" stop-color="#b9b9fe"/><stop offset=".2822" stop-color="#fcfcff"/><stop offset=".2844" stop-color="#fff5f5"/><stop offset=".2889" stop-color="#ffdada"/><stop offset=".2912" stop-color="#feb0b0"/><stop offset=".298" stop-color="#fc1717"/><stop offset=".3002" stop-color="#c80000"/><stop offset=".3454" stop-color="#c80000"/><stop offset=".3476" stop-color="#fc1b1b"/><stop offset=".3544" stop-color="#feb2b2"/><stop offset=".3567" stop-color="#ffdfdf"/><stop offset=".3589" stop-color="#fefeff"/><stop offset=".3657" stop-color="#b9b9fe"/><stop offset=".3725" stop-color="#8e8efe"/><stop offset=".3792" stop-color="#7575fd"/><stop offset=".3883" stop-color="#6969fd"/><stop offset=".3973" stop-color="#7272fd"/><stop offset=".4063" stop-color="#9191fe"/><stop offset=".4131" stop-color="#bdbdfe"/><stop offset=".4176" stop-color="#e9e9ff"/><stop offset=".4199" stop-color="#fff8f8"/><stop offset=".4221" stop-color="#ffd6d6"/><stop offset=".4312" stop-color="#fc0f0f"/><stop offset=".4334" stop-color="#c80000"/><stop offset=".4966" stop-color="#c80000"/><stop offset=".4989" stop-color="#fc0707"/><stop offset=".5079" stop-color="#fecfcf"/><stop offset=".5102" stop-color="#ffecec"/><stop offset=".5124" stop-color="#fafaff"/><stop offset=".5169" stop-color="#d2d2fe"/><stop offset=".5214" stop-color="#b3b3fe"/><stop offset=".5305" stop-color="#8787fe"/><stop offset=".5418" stop-color="#6969fd"/><stop offset=".5576" stop-color="#5959fd"/><stop offset=".5756" stop-color="#5d5dfd"/><stop offset=".5937" stop-color="#7676fd"/><stop offset=".6095" stop-color="#a1a1fe"/><stop offset=".623" stop-color="#dedeff"/><stop offset=".6253" stop-color="#fecdcd"/><stop offset=".6298" stop-color="#fc0707"/><stop offset=".6321" stop-color="#fc0505"/><stop offset=".6366" stop-color="#feadad"/><stop offset=".6388" stop-color="#ffecec"/><stop offset=".6546" stop-color="#ffffff"/><stop offset=".7201" stop-color="#6a6afd"/><stop offset=".7404" stop-color="#4b4bfd"/><stop offset=".7607" stop-color="#3939fd"/><stop offset=".8126" stop-color="#2b2bfc"/><stop offset="1" stop-color="#2525fc"/></linearGradient><linearGradient id="f17" gradientUnits="userSpaceOnUse" x1="500.2" x2="648" y1="0" y2="0"><stop offset="0" stop-color="#2525fc"/><stop offset=".1377" stop-color="#2e2efc"/><stop offset=".1761" stop-color="#3838fd"/><stop offset=".2054" stop-color="#4949fd"/><stop offset=".2302" stop-color="#6363fd"/><stop offset=".2506" stop-color="#8888fe"/><stop offset=".2686" stop-color="#bdbdfe"/><stop offset=".2844" stop-color="#fffcfc"/><stop offset=".2889" stop-color="#ffe1e1"/><stop offset=".2912" stop-color="#fecaca"/><stop offset=".298" stop-color="#fd3232"/><stop offset=".3002" stop-color="#e90303"/><stop offset=".3025" stop-color="#c80000"/><stop offset=".3454" stop-color="#c80000"/><stop offset=".3476" stop-color="#ef0303"/><stop offset=".3499" stop-color="#fd3333"/><stop offset=".3567" stop-color="#fecaca"/><stop offset=".3589" stop-color="#ffefef"/><stop offset=".3612" stop-color="#f1f1ff"/><stop offset=".3679" stop-color="#b1b1fe"/><stop offset=".3747" stop-color="#8989fe"/><stop offset=".3837" stop-color="#6f6ffd"/><stop offset=".3928" stop-color="#6a6afd"/><stop offset=".4018" stop-color="#7b7bfd"/><stop offset=".4086" stop-color="#9797fe"/><stop offset=".4153" stop-color="#c8c8fe"/><stop offset=".4199" stop-color="#f8f8ff"/><stop offset=".4221" stop-color="#ffe6e6"/><stop offset=".4244" stop-color="#febdbd"/><stop offset=".4312" stop-color="#fc2626"/><stop offset=".4334" stop-color="#c80000"/><stop offset=".4989" stop-color="#c80000"/><stop offset=".5011" stop-color="#fc2323"/><stop offset=".5079" stop-color="#febaba"/><stop offset=".5102" stop-color="#ffdfdf"/><stop offset=".5124" stop-color="#fffafa"/><stop offset=".5147" stop-color="#eeeeff"/><stop offset=".5214" stop-color="#b9b9fe"/><stop offset=".526" stop-color="#9f9ffe"/><stop offset=".5327" stop-color="#8383fe"/><stop offset=".5463" stop-color="#6363fd"/><stop offset=".5621" stop-color="#5858fd"/><stop offset=".5824" stop-color="#6363fd"/><stop offset=".6005" stop-color="#8282fd"/><stop offset=".6117" stop-color="#a5a5fe"/><stop offset=".6208" stop-color="#cbcbfe"/><stop offset=".623" stop-color="#d7d7ff"/><stop offset=".6253" stop-color="#fafaff"/><stop offset=".6275" stop-color="#fea2a2"/><stop offset=".6298" stop-color="#fd4040"/><stop offset=".6321" stop-color="#c80000"/><stop offset=".6343" stop-color="#fc2929"/><stop offset=".6388" stop-color="#fed2d2"/><stop offset=".6411" stop-color="#ffecec"/><stop offset=".6546" stop-color="#fffdfd"/><stop offset=".6682" stop-color="#e6e6ff"/><stop offset=".7043" stop-color="#8d8dfe"/><stop offset=".7223" stop-color="#6868fd"/><stop offset=".7427" stop-color="#4a4afd"/><stop offset=".763" stop-color="#3939fd"/><stop offset=".8149" stop-color="#2a2afc"/><stop offset="1" stop-color="#2525fc"/></linearGradient><linearGradient id="f18" gradientUnits="userSpaceOnUse" x1="500.2" x2="648" y1="0" y2="0"><stop offset="0" stop-color="#2525fc"/><stop offset=".1377" stop-color="#2e2efc"/><stop offset=".1761" stop-color="#3838fd"/><stop offset=".2054" stop-color="#4848fd"/><stop offset=".2302" stop-color="#6161fd"/><stop offset=".2506" stop-color="#8585fe"/><stop offset=".2686" stop-color="#b8b8fe"/><stop offset=".2844" stop-color="#fcfcff"/><stop offset=".2867" stop-color="#fff6f6"/><stop offset=".2912" stop-color="#ffdada"/><stop offset=".2935" stop-color="#feb2b2"/><stop offset=".3002" stop-color="#fc1a1a"/><stop offset=".3025" stop-color="#c80000"/><stop offset=".3476" stop-color="#c80000"/><stop offset=".3499" stop-color="#fc1818"/><stop offset=".3567" stop-color="#feafaf"/><stop offset=".3589" stop-color="#ffdddd"/><stop offset=".3612" stop-color="#fffefe"/><stop offset=".3679" stop-color="#babafe"/><stop offset=".3747" stop-color="#8f8ffe"/><stop offset=".3815" stop-color="#7676fd"/><stop offset=".3905" stop-color="#6a6afd"/><stop offset=".3995" stop-color="#7272fd"/><stop offset=".4063" stop-color="#8888fe"/><stop offset=".4131" stop-color="#aeaefe"/><stop offset=".4199" stop-color="#ececff"/><stop offset=".4221" stop-color="#fff5f5"/><stop offset=".4244" stop-color="#fed3d3"/><stop offset=".4334" stop-color="#fc0b0b"/><stop offset=".4357" stop-color="#c80000"/><stop offset=".4989" stop-color="#c80000"/><stop offset=".5011" stop-color="#fc0b0b"/><stop offset=".5102" stop-color="#fed2d2"/><stop offset=".5124" stop-color="#ffeeee"/><stop offset=".5147" stop-color="#f7f7ff"/><stop offset=".5192" stop-color="#d0d0fe"/><stop offset=".5237" stop-color="#b1b1fe"/><stop offset=".5327" stop-color="#8686fe"/><stop offset=".544" stop-color="#6868fd"/><stop offset=".5598" stop-color="#5858fd"/><stop offset=".5779" stop-color="#5d5dfd"/><stop offset=".5959" stop-color="#7676fd"/><stop offset=".6117" stop-color="#a0a0fe"/><stop offset=".6253" stop-color="#dcdcff"/><stop offset=".6275" stop-color="#ffdada"/><stop offset=".6321" stop-color="#fc1515"/><stop offset=".6343" stop-color="#d30101"/><stop offset=".6366" stop-color="#fd4d4d"/><stop offset=".6388" stop-color="#fea2a2"/><stop offset=".6411" stop-color="#ffecec"/><stop offset=".6569" stop-color="#ffffff"/><stop offset=".6704" stop-color="#e4e4ff"/><stop offset=".7043" stop-color="#9090fe"/><stop offset=".7223" stop-color="#6a6afd"/><stop offset=".7427" stop-color="#4b4bfd"/><stop offset=".763" stop-color="#3939fd"/><stop offset=".8149" stop-color="#2a2afc"/><stop offset="1" stop-color="#2525fc"/></linearGradient><linearGradient id="f19" gradientUnits="userSpaceOnUse" x1="500.2" x2="648" y1="0" y2="0"><stop offset="0" stop-color="#2525fc"/><stop offset=".14" stop-color="#2e2efc"/><stop offset=".1783" stop-color="#3838fd"/><stop offset=".2077" stop-color="#4949fd"/><stop offset=".2325" stop-color="#6363fd"/><stop offset=".2528" stop-color="#8888fe"/><stop offset=".2709" stop-color="#bcbcfe"/><stop offset=".2867" stop-color="#fffdfd"/><stop offset=".2912" stop-color="#ffe2e2"/><stop offset=".2935" stop-color="#fecece"/><stop offset=".3025" stop-color="#f70404"/><stop offset=".3047" stop-color="#c80000"/><stop offset=".3476" stop-color="#c80000"/><stop offset=".3499" stop-color="#e00202"/><stop offset=".3521" stop-color="#fd2f2f"/><stop offset=".3589" stop-color="#fec6c6"/><stop offset=".3612" stop-color="#ffecec"/><stop offset=".3634" stop-color="#f3f3ff"/><stop offset=".3702" stop-color="#b2b2fe"/><stop offset=".377" stop-color="#8a8afe"/><stop offset=".386" stop-color="#6f6ffd"/><stop offset=".395" stop-color="#6b6bfd"/><stop offset=".4041" stop-color="#7c7cfd"/><stop offset=".4108" stop-color="#9999fe"/><stop offset=".4176" stop-color="#cacafe"/><stop offset=".4221" stop-color="#fbfbff"/><stop offset=".4244" stop-color="#ffe3e3"/><stop offset=".4266" stop-color="#feb9b9"/><stop offset=".4334" stop-color="#fc2222"/><stop offset=".4357" stop-color="#c80000"/><stop offset=".5011" stop-color="#c80000"/><stop offset=".5034" stop-color="#fc2626"/><stop offset=".5102" stop-color="#febebe"/><stop offset=".5124" stop-color="#ffe2e2"/><stop offset=".5147" stop-color="#fffcfc"/><stop offset=".5237" stop-color="#b8b8fe"/><stop offset=".5282" stop-color="#9e9efe"/><stop offset=".535" stop-color="#8282fd"/><stop offset=".5485" stop-color="#6262fd"/><stop offset=".5643" stop-color="#5757fd"/><stop offset=".5847" stop-color="#6262fd"/><stop offset=".6027" stop-color="#8282fd"/><stop offset=".6185" stop-color="#b5b5fe"/><stop offset=".6253" stop-color="#d5d5fe"/><stop offset=".6275" stop-color="#eeeeff"/><stop offset=".6298" stop-color="#feb0b0"/><stop offset=".6321" stop-color="#fd4d4d"/><stop offset=".6343" stop-color="#c80000"/><stop offset=".6366" stop-color="#fc1e1e"/><stop offset=".6411" stop-color="#fec6c6"/><stop offset=".6433" stop-color="#ffecec"/><stop offset=".6591" stop-color="#fdfdff"/><stop offset=".7223" stop-color="#6c6cfd"/><stop offset=".7427" stop-color="#4d4dfd"/><stop offset=".7652" stop-color="#3939fd"/><stop offset=".8172" stop-color="#2a2afc"/><stop offset="1" stop-color="#2525fc"/></linearGradient><linearGradient id="f20" gradientUnits="userSpaceOnUse" x1="500.2" x2="648" y1="0" y2="0"><stop offset="0" stop-color="#2525fc"/><stop offset=".14" stop-color="#2e2efc"/><stop offset=".1783" stop-color="#3838fd"/><stop offset=".2077" stop-color="#4848fd"/><stop offset=".2325" stop-color="#6161fd"/><stop offset=".2528" stop-color="#8585fe"/><stop offset=".2709" stop-color="#b8b8fe"/><stop offset=".2867" stop-color="#fbfbff"/><stop offset=".2889" stop-color="#fff7f7"/><stop offset=".2935" stop-color="#ffdcdc"/><stop offset=".2957" stop-color="#feb7b7"/><stop offset=".3025" stop-color="#fc1f1f"/><stop offset=".3047" stop-color="#c80000"/><stop offset=".3499" stop-color="#c80000"/><stop offset=".3521" stop-color="#fc1313"/><stop offset=".3612" stop-color="#ffd9d9"/><stop offset=".3634" stop-color="#fffbfb"/><stop offset=".3702" stop-color="#bcbcfe"/><stop offset=".377" stop-color="#9090fe"/><stop offset=".3837" stop-color="#7777fd"/><stop offset=".3928" stop-color="#6b6bfd"/><stop offset=".4018" stop-color="#7373fd"/><stop offset=".4086" stop-color="#8888fe"/><stop offset=".4153" stop-color="#afaffe"/><stop offset=".4221" stop-color="#eeeeff"/><stop offset=".4244" stop-color="#fff3f3"/><stop offset=".4266" stop-color="#fed0d0"/><stop offset=".4357" stop-color="#fc0808"/><stop offset=".4379" stop-color="#c80000"/><stop offset=".5011" stop-color="#c80000"/><stop offset=".5034" stop-color="#fc0e0e"/><stop offset=".5124" stop-color="#fed4d4"/><stop offset=".5147" stop-color="#fff0f0"/><stop offset=".5169" stop-color="#f6f6ff"/><stop offset=".5214" stop-color="#cfcffe"/><stop offset=".526" stop-color="#b0b0fe"/><stop offset=".535" stop-color="#8686fe"/><stop offset=".5463" stop-color="#6868fd"/><stop offset=".5621" stop-color="#5858fd"/><stop offset=".5801" stop-color="#5c5cfd"/><stop offset=".5982" stop-color="#7575fd"/><stop offset=".614" stop-color="#9f9ffe"/><stop offset=".6275" stop-color="#dadaff"/><stop offset=".6298" stop-color="#ffe8e8"/><stop offset=".6343" stop-color="#fc2323"/><stop offset=".6366" stop-color="#c80000"/><stop offset=".6388" stop-color="#fd4242"/><stop offset=".6433" stop-color="#ffebeb"/><stop offset=".6591" stop-color="#fffefe"/><stop offset=".6727" stop-color="#e5e5ff"/><stop offset=".7246" stop-color="#6b6bfd"/><stop offset=".7449" stop-color="#4c4cfd"/><stop offset=".7652" stop-color="#3939fd"/><stop offset=".8172" stop-color="#2a2afc"/><stop offset="1" stop-color="#2525fc"/></linearGradient><linearGradient id="f21" gradientUnits="userSpaceOnUse" x1="500.2" x2="648" y1="0" y2="0"><stop offset="0" stop-color="#2525fc"/><stop offset=".1422" stop-color="#2e2efc"/><stop offset=".1806" stop-color="#3838fd"/><stop offset=".2099" stop-color="#4848fd"/><stop offset=".2348" stop-color="#6363fd"/><stop offset=".2551" stop-color="#8787fe"/><stop offset=".2731" stop-color="#bbbbfe"/><stop offset=".2889" stop-color="#fffefe"/><stop offset=".2957" stop-color="#fed4d4"/><stop offset=".3047" stop-color="#fc0909"/><stop offset=".307" stop-color="#c80000"/><stop offset=".3521" stop-color="#c90000"/><stop offset=".3544" stop-color="#fc2929"/><stop offset=".3612" stop-color="#fec0c0"/><stop offset=".3634" stop-color="#ffe8e8"/><stop offset=".3657" stop-color="#f6f6ff"/><stop offset=".3725" stop-color="#b4b4fe"/><stop offset=".3792" stop-color="#8c8cfe"/><stop offset=".3883" stop-color="#7070fd"/><stop offset=".3973" stop-color="#6c6cfd"/><stop offset=".4063" stop-color="#7c7cfd"/><stop offset=".4131" stop-color="#9999fe"/><stop offset=".4199" stop-color="#cbcbfe"/><stop offset=".4244" stop-color="#fcfcff"/><stop offset=".4266" stop-color="#ffe2e2"/><stop offset=".4289" stop-color="#feb7b7"/><stop offset=".4357" stop-color="#fc2020"/><stop offset=".4379" stop-color="#c80000"/><stop offset=".5034" stop-color="#c80000"/><stop offset=".5056" stop-color="#fc2929"/><stop offset=".5124" stop-color="#fec0c0"/><stop offset=".5147" stop-color="#ffe3e3"/><stop offset=".5169" stop-color="#fffdfd"/><stop offset=".526" stop-color="#b7b7fe"/><stop offset=".5305" stop-color="#9e9efe"/><stop offset=".5372" stop-color="#8181fd"/><stop offset=".5485" stop-color="#6565fd"/><stop offset=".5643" stop-color="#5757fd"/><stop offset=".5824" stop-color="#5d5dfd"/><stop offset=".6005" stop-color="#7777fd"/><stop offset=".6163" stop-color="#a2a2fe"/><stop offset=".6298" stop-color="#e1e1ff"/><stop offset=".6321" stop-color="#febebe"/><stop offset=".6343" stop-color="#fd5b5b"/><stop offset=".6366" stop-color="#cc0000"/><stop offset=".6388" stop-color="#fc1212"/><stop offset=".6433" stop-color="#febaba"/><stop offset=".6456" stop-color="#ffecec"/><stop offset=".6614" stop-color="#fefeff"/><stop offset=".7269" stop-color="#6969fd"/><stop offset=".7472" stop-color="#4b4bfd"/><stop offset=".7675" stop-color="#3939fd"/><stop offset=".8194" stop-color="#2a2afc"/><stop offset="1" stop-color="#2525fc"/></linearGradient><linearGradient id="f22" gradientUnits="userSpaceOnUse" x1="500.2" x2="648" y1="0" y2="0"><stop offset="0" stop-color="#2525fc"/><stop offset=".1422" stop-color="#2e2efc"/><stop offset=".1806" stop-color="#3838fd"/><stop offset=".2099" stop-color="#4848fd"/><stop offset=".2348" stop-color="#6161fd"/><stop offset=".2551" stop-color="#8484fe"/><stop offset=".2731" stop-color="#b7b7fe"/><stop offset=".2889" stop-color="#f9f9ff"/><stop offset=".2912" stop-color="#fff9f9"/><stop offset=".2957" stop-color="#ffdddd"/><stop offset=".298" stop-color="#febebe"/><stop offset=".3047" stop-color="#fc2525"/><stop offset=".307" stop-color="#c80000"/><stop offset=".3521" stop-color="#c80000"/><stop offset=".3544" stop-color="#fc0d0d"/><stop offset=".3634" stop-color="#fed4d4"/><stop offset=".3657" stop-color="#fff7f7"/><stop offset=".3679" stop-color="#ebebff"/><stop offset=".3725" stop-color="#bfbffe"/><stop offset=".3792" stop-color="#9292fe"/><stop offset=".386" stop-color="#7878fd"/><stop offset=".395" stop-color="#6b6bfd"/><stop offset=".4041" stop-color="#7474fd"/><stop offset=".4108" stop-color="#8989fe"/><stop offset=".4176" stop-color="#afaffe"/><stop offset=".4244" stop-color="#eeeeff"/><stop offset=".4266" stop-color="#fff2f2"/><stop offset=".4289" stop-color="#fecfcf"/><stop offset=".4379" stop-color="#fc0606"/><stop offset=".4402" stop-color="#c80000"/><stop offset=".5034" stop-color="#c80000"/><stop offset=".5056" stop-color="#fc1010"/><stop offset=".5147" stop-color="#fed5d5"/><stop offset=".5169" stop-color="#fff1f1"/><stop offset=".5192" stop-color="#f5f5ff"/><stop offset=".5237" stop-color="#cfcffe"/><stop offset=".5282" stop-color="#b0b0fe"/><stop offset=".5372" stop-color="#8585fe"/><stop offset=".5485" stop-color="#6767fd"/><stop offset=".5643" stop-color="#5757fd"/><stop offset=".5824" stop-color="#5c5cfd"/><stop offset=".6005" stop-color="#7474fd"/><stop offset=".6163" stop-color="#9e9efe"/><stop offset=".6298" stop-color="#d9d9ff"/><stop offset=".6321" stop-color="#fff6f6"/><stop offset=".6366" stop-color="#fd3131"/><stop offset=".6388" stop-color="#c80000"/><stop offset=".6411" stop-color="#fd3636"/><stop offset=".6456" stop-color="#ffdede"/><stop offset=".6479" stop-color="#ffeded"/><stop offset=".6614" stop-color="#fffefe"/><stop offset=".6749" stop-color="#e5e5ff"/><stop offset=".7269" stop-color="#6b6bfd"/><stop offset=".7472" stop-color="#4c4cfd"/><stop offset=".7675" stop-color="#3a3afd"/><stop offset=".8194" stop-color="#2a2afc"/><stop offset="1" stop-color="#2525fc"/></linearGradient><linearGradient id="f23" gradientUnits="userSpaceOnUse" x1="500.2" x2="648" y1="0" y2="0"><stop offset="0" stop-color="#2525fc"/><stop offset=".1422" stop-color="#2e2efc"/><stop offset=".1806" stop-color="#3737fd"/><stop offset=".2099" stop-color="#4747fd"/><stop offset=".237" stop-color="#6262fd"/><stop offset=".2573" stop-color="#8787fe"/><stop offset=".2754" stop-color="#babafe"/><stop offset=".2912" stop-color="#fefeff"/><stop offset=".298" stop-color="#ffd7d7"/><stop offset=".307" stop-color="#fc1010"/><stop offset=".3093" stop-color="#c80000"/><stop offset=".3544" stop-color="#c80000"/><stop offset=".3567" stop-color="#fc2222"/><stop offset=".3634" stop-color="#feb8b8"/><stop offset=".3657" stop-color="#ffe3e3"/><stop offset=".3679" stop-color="#fbfbff"/><stop offset=".3747" stop-color="#b7b7fe"/><stop offset=".3815" stop-color="#8d8dfe"/><stop offset=".3883" stop-color="#7676fd"/><stop offset=".3973" stop-color="#6c6cfd"/><stop offset=".4063" stop-color="#7676fd"/><stop offset=".4131" stop-color="#8e8efe"/><stop offset=".4199" stop-color="#b8b8fe"/><stop offset=".4266" stop-color="#fcfcff"/><stop offset=".4289" stop-color="#ffe1e1"/><stop offset=".4312" stop-color="#feb6b6"/><stop offset=".4379" stop-color="#fc1f1f"/><stop offset=".4402" stop-color="#c80000"/><stop offset=".5056" stop-color="#c80000"/><stop offset=".5079" stop-color="#fc2929"/><stop offset=".5147" stop-color="#fec0c0"/><stop offset=".5169" stop-color="#ffe3e3"/><stop offset=".5192" stop-color="#fffdfd"/><stop offset=".5282" stop-color="#b7b7fe"/><stop offset=".5327" stop-color="#9d9dfe"/><stop offset=".5395" stop-color="#8181fd"/><stop offset=".5508" stop-color="#6565fd"/><stop offset=".5666" stop-color="#5757fd"/><stop offset=".5847" stop-color="#5d5dfd"/><stop offset=".6027" stop-color="#7676fd"/><stop offset=".6185" stop-color="#a1a1fe"/><stop offset=".6321" stop-color="#dedeff"/><stop offset=".6343" stop-color="#fecccc"/><stop offset=".6388" stop-color="#fc0606"/><stop offset=".6411" stop-color="#fc0606"/><stop offset=".6456" stop-color="#feaeae"/><stop offset=".6479" stop-color="#ffecec"/><stop offset=".6637" stop-color="#fefeff"/><stop offset=".7291" stop-color="#6969fd"/><stop offset=".7494" stop-color="#4b4bfd"/><stop offset=".7698" stop-color="#3939fd"/><stop offset=".8217" stop-color="#2a2afc"/><stop offset="1" stop-color="#2525fc"/></linearGradient><linearGradient id="f24" gradientUnits="userSpaceOnUse" x1="500.2" x2="648" y1="0" y2="0"><stop offset="0" stop-color="#2525fc"/><stop offset=".1445" stop-color="#2e2efc"/><stop offset=".1828" stop-color="#3838fd"/><stop offset=".2122" stop-color="#4747fd"/><stop offset=".2393" stop-color="#6464fd"/><stop offset=".2596" stop-color="#8989fe"/><stop offset=".2754" stop-color="#b6b6fe"/><stop offset=".2912" stop-color="#f7f7ff"/><stop offset=".2935" stop-color="#fffbfb"/><stop offset=".298" stop-color="#ffe0e0"/><stop offset=".3002" stop-color="#fec6c6"/><stop offset=".307" stop-color="#fd2e2e"/><stop offset=".3093" stop-color="#da0101"/><stop offset=".3115" stop-color="#c80000"/><stop offset=".3544" stop-color="#c80000"/><stop offset=".3567" stop-color="#fb0404"/><stop offset=".3657" stop-color="#fecdcd"/><stop offset=".3679" stop-color="#fff1f1"/><stop offset=".3702" stop-color="#f0f0ff"/><stop offset=".3747" stop-color="#c2c2fe"/><stop offset=".3815" stop-color="#9494fe"/><stop offset=".3883" stop-color="#7a7afd"/><stop offset=".3973" stop-color="#6c6cfd"/><stop offset=".4063" stop-color="#7474fd"/><stop offset=".4131" stop-color="#8989fe"/><stop offset=".4199" stop-color="#afaffe"/><stop offset=".4266" stop-color="#eeeeff"/><stop offset=".4289" stop-color="#fff2f2"/><stop offset=".4312" stop-color="#fecfcf"/><stop offset=".4402" stop-color="#fc0707"/><stop offset=".4424" stop-color="#c80000"/><stop offset=".5056" stop-color="#c80000"/><stop offset=".5079" stop-color="#fc0f0f"/><stop offset=".5169" stop-color="#fed5d5"/><stop offset=".5192" stop-color="#fff0f0"/><stop offset=".5214" stop-color="#f6f6ff"/><stop offset=".526" stop-color="#cfcffe"/><stop offset=".5305" stop-color="#b0b0fe"/><stop offset=".5418" stop-color="#7d7dfd"/><stop offset=".5553" stop-color="#6060fd"/><stop offset=".5734" stop-color="#5656fd"/><stop offset=".5937" stop-color="#6565fd"/><stop offset=".6117" stop-color="#8888fe"/><stop offset=".6208" stop-color="#a5a5fe"/><stop offset=".6298" stop-color="#cbcbfe"/><stop offset=".6321" stop-color="#d7d7ff"/><stop offset=".6343" stop-color="#fafaff"/><stop offset=".6366" stop-color="#fea2a2"/><stop offset=".6388" stop-color="#fd4040"/><stop offset=".6411" stop-color="#c80000"/><stop offset=".6433" stop-color="#fc2a2a"/><stop offset=".6479" stop-color="#fed2d2"/><stop offset=".6501" stop-color="#ffeded"/><stop offset=".6637" stop-color="#fffdfd"/><stop offset=".6772" stop-color="#e6e6ff"/><stop offset=".7291" stop-color="#6c6cfd"/><stop offset=".7494" stop-color="#4c4cfd"/><stop offset=".7698" stop-color="#3a3afd"/><stop offset=".8217" stop-color="#2a2afc"/><stop offset="1" stop-color="#2525fc"/></linearGradient><linearGradient id="f25" gradientUnits="userSpaceOnUse" x1="500.2" x2="648" y1="0" y2="0"><stop offset="0" stop-color="#2525fc"/><stop offset=".1445" stop-color="#2e2efc"/><stop offset=".1828" stop-color="#3737fd"/><stop offset=".2122" stop-color="#4646fd"/><stop offset=".2393" stop-color="#6262fd"/><stop offset=".2596" stop-color="#8686fe"/><stop offset=".2777" stop-color="#b9b9fe"/><stop offset=".2935" stop-color="#fcfcff"/><stop offset=".2957" stop-color="#fff6f6"/><stop offset=".3002" stop-color="#ffdada"/><stop offset=".3025" stop-color="#feb2b2"/><stop offset=".3093" stop-color="#fc1a1a"/><stop offset=".3115" stop-color="#c80000"/><stop offset=".3567" stop-color="#c80000"/><stop offset=".3589" stop-color="#fc1818"/><stop offset=".3657" stop-color="#feaeae"/><stop offset=".3679" stop-color="#ffdcdc"/><stop offset=".3702" stop-color="#fffdfd"/><stop offset=".377" stop-color="#bbbbfe"/><stop offset=".3837" stop-color="#9090fe"/><stop offset=".3905" stop-color="#7878fd"/><stop offset=".3995" stop-color="#6c6cfd"/><stop offset=".4086" stop-color="#7777fd"/><stop offset=".4153" stop-color="#8e8efe"/><stop offset=".4221" stop-color="#b8b8fe"/><stop offset=".4289" stop-color="#fcfcff"/><stop offset=".4312" stop-color="#ffe2e2"/><stop offset=".4334" stop-color="#feb7b7"/><stop offset=".4402" stop-color="#fc2121"/><stop offset=".4424" stop-color="#c80000"/><stop offset=".5079" stop-color="#c80000"/><stop offset=".5102" stop-color="#fc2828"/><stop offset=".5169" stop-color="#febfbf"/><stop offset=".5192" stop-color="#ffe3e3"/><stop offset=".5214" stop-color="#fffdfd"/><stop offset=".5305" stop-color="#b7b7fe"/><stop offset=".535" stop-color="#9e9efe"/><stop offset=".5418" stop-color="#8181fd"/><stop offset=".553" stop-color="#6565fd"/><stop offset=".5688" stop-color="#5757fd"/><stop offset=".5869" stop-color="#5c5cfd"/><stop offset=".605" stop-color="#7575fd"/><stop offset=".6208" stop-color="#a0a0fe"/><stop offset=".6343" stop-color="#dcdcff"/><stop offset=".6366" stop-color="#ffdbdb"/><stop offset=".6411" stop-color="#fc1515"/><stop offset=".6433" stop-color="#d30101"/><stop offset=".6456" stop-color="#fd4d4d"/><stop offset=".6479" stop-color="#fea1a1"/><stop offset=".6501" stop-color="#ffecec"/><stop offset=".6659" stop-color="#ffffff"/><stop offset=".7314" stop-color="#6a6afd"/><stop offset=".7517" stop-color="#4b4bfd"/><stop offset=".772" stop-color="#3939fd"/><stop offset=".8239" stop-color="#2a2afc"/><stop offset="1" stop-color="#2525fc"/></linearGradient><linearGradient id="f26" gradientUnits="userSpaceOnUse" x1="500.2" x2="648" y1="0" y2="0"><stop offset="0" stop-color="#2525fc"/><stop offset=".1467" stop-color="#2e2efc"/><stop offset=".1851" stop-color="#3737fd"/><stop offset=".2144" stop-color="#4747fd"/><stop offset=".2415" stop-color="#6363fd"/><stop offset=".2619" stop-color="#8888fe"/><stop offset=".2799" stop-color="#bcbcfe"/><stop offset=".2957" stop-color="#fffdfd"/><stop offset=".3025" stop-color="#fed1d1"/><stop offset=".3115" stop-color="#fc0606"/><stop offset=".3138" stop-color="#c80000"/><stop offset=".3567" stop-color="#c80000"/><stop offset=".3589" stop-color="#d10101"/><stop offset=".3612" stop-color="#fc2b2b"/><stop offset=".3679" stop-color="#fec2c2"/><stop offset=".3702" stop-color="#ffeaea"/><stop offset=".3725" stop-color="#f6f6ff"/><stop offset=".377" stop-color="#c6c6fe"/><stop offset=".3837" stop-color="#9797fe"/><stop offset=".3905" stop-color="#7b7bfd"/><stop offset=".3995" stop-color="#6d6dfd"/><stop offset=".4086" stop-color="#7474fd"/><stop offset=".4153" stop-color="#8989fe"/><stop offset=".4221" stop-color="#afaffe"/><stop offset=".4289" stop-color="#ededff"/><stop offset=".4312" stop-color="#fff4f4"/><stop offset=".4334" stop-color="#fed1d1"/><stop offset=".4424" stop-color="#fc0909"/><stop offset=".4447" stop-color="#c80000"/><stop offset=".5079" stop-color="#c80000"/><stop offset=".5102" stop-color="#fc0d0d"/><stop offset=".5192" stop-color="#fed4d4"/><stop offset=".5214" stop-color="#ffefef"/><stop offset=".5237" stop-color="#f6f6ff"/><stop offset=".5282" stop-color="#cfcffe"/><stop offset=".5327" stop-color="#b0b0fe"/><stop offset=".544" stop-color="#7e7efd"/><stop offset=".5576" stop-color="#6060fd"/><stop offset=".5734" stop-color="#5656fd"/><stop offset=".5937" stop-color="#6262fd"/><stop offset=".6117" stop-color="#8181fd"/><stop offset=".6275" stop-color="#b5b5fe"/><stop offset=".6343" stop-color="#d5d5fe"/><stop offset=".6366" stop-color="#ececff"/><stop offset=".6388" stop-color="#feb1b1"/><stop offset=".6411" stop-color="#fd4f4f"/><stop offset=".6433" stop-color="#c80000"/><stop offset=".6456" stop-color="#fc1d1d"/><stop offset=".6501" stop-color="#fec5c5"/><stop offset=".6524" stop-color="#ffecec"/><stop offset=".6682" stop-color="#fdfdff"/><stop offset=".7314" stop-color="#6c6cfd"/><stop offset=".7517" stop-color="#4d4dfd"/><stop offset=".772" stop-color="#3a3afd"/><stop offset=".8239" stop-color="#2a2afc"/><stop offset="1" stop-color="#2525fc"/></linearGradient><linearGradient id="f27" gradientUnits="userSpaceOnUse" x1="500.2" x2="648" y1="0" y2="0"><stop offset="0" stop-color="#2525fc"/><stop offset=".1467" stop-color="#2e2efc"/><stop offset=".1851" stop-color="#3737fd"/><stop offset=".2144" stop-color="#4646fd"/><stop offset=".2415" stop-color="#6161fd"/><stop offset=".2619" stop-color="#8585fe"/><stop offset=".2799" stop-color="#b7b7fe"/><stop offset=".2957" stop-color="#f9f9ff"/><stop offset=".298" stop-color="#fff8f8"/><stop offset=".3025" stop-color="#ffdddd"/><stop offset=".3047" stop-color="#febebe"/><stop offset=".3115" stop-color="#fc2525"/><stop offset=".3138" stop-color="#c80000"/><stop offset=".3589" stop-color="#c80000"/><stop offset=".3612" stop-color="#fc0c0c"/><stop offset=".3702" stop-color="#fed4d4"/><stop offset=".3725" stop-color="#fff6f6"/><stop offset=".3747" stop-color="#ececff"/><stop offset=".3792" stop-color="#bfbffe"/><stop offset=".386" stop-color="#9393fe"/><stop offset=".395" stop-color="#7474fd"/><stop offset=".4041" stop-color="#6e6efd"/><stop offset=".4131" stop-color="#7d7dfd"/><stop offset=".4199" stop-color="#9999fe"/><stop offset=".4266" stop-color="#cacafe"/><stop offset=".4312" stop-color="#fafaff"/><stop offset=".4334" stop-color="#ffe4e4"/><stop offset=".4357" stop-color="#febaba"/><stop offset=".4424" stop-color="#fc2323"/><stop offset=".4447" stop-color="#c80000"/><stop offset=".5102" stop-color="#c80000"/><stop offset=".5124" stop-color="#fc2525"/><stop offset=".5192" stop-color="#febcbc"/><stop offset=".5214" stop-color="#ffe1e1"/><stop offset=".5237" stop-color="#fffbfb"/><stop offset=".5327" stop-color="#b8b8fe"/><stop offset=".5372" stop-color="#9e9efe"/><stop offset=".544" stop-color="#8282fd"/><stop offset=".5553" stop-color="#6565fd"/><stop offset=".5711" stop-color="#5757fd"/><stop offset=".5892" stop-color="#5c5cfd"/><stop offset=".6072" stop-color="#7474fd"/><stop offset=".623" stop-color="#9f9ffe"/><stop offset=".6366" stop-color="#dadaff"/><stop offset=".6388" stop-color="#ffeaea"/><stop offset=".6433" stop-color="#fc2525"/><stop offset=".6456" stop-color="#c80000"/><stop offset=".6479" stop-color="#fd4040"/><stop offset=".6524" stop-color="#ffe9e9"/><stop offset=".6682" stop-color="#ffffff"/><stop offset=".6817" stop-color="#e5e5ff"/><stop offset=".7336" stop-color="#6a6afd"/><stop offset=".754" stop-color="#4c4cfd"/><stop offset=".7743" stop-color="#3939fd"/><stop offset=".8262" stop-color="#2a2afc"/><stop offset="1" stop-color="#2525fc"/></linearGradient><linearGradient id="f28" gradientUnits="userSpaceOnUse" x1="500.2" x2="648" y1="0" y2="0"><stop offset="0" stop-color="#2525fc"/><stop offset=".1467" stop-color="#2d2dfc"/><stop offset=".1874" stop-color="#3737fd"/><stop offset=".2167" stop-color="#4747fd"/><stop offset=".2438" stop-color="#6262fd"/><stop offset=".2641" stop-color="#8787fe"/><stop offset=".2822" stop-color="#babafe"/><stop offset=".298" stop-color="#fefeff"/><stop offset=".3047" stop-color="#ffd8d8"/><stop offset=".307" stop-color="#feabab"/><stop offset=".3138" stop-color="#fc1313"/><stop offset=".316" stop-color="#c80000"/><stop offset=".3612" stop-color="#c80000"/><stop offset=".3634" stop-color="#fc1f1f"/><stop offset=".3702" stop-color="#feb5b5"/><stop offset=".3725" stop-color="#ffe1e1"/><stop offset=".3747" stop-color="#fdfdff"/><stop offset=".3792" stop-color="#ccccfe"/><stop offset=".386" stop-color="#9a9afe"/><stop offset=".3928" stop-color="#7e7efd"/><stop offset=".4018" stop-color="#6e6efd"/><stop offset=".4108" stop-color="#7575fd"/><stop offset=".4176" stop-color="#8989fe"/><stop offset=".4244" stop-color="#aeaefe"/><stop offset=".4312" stop-color="#ececff"/><stop offset=".4334" stop-color="#fff6f6"/><stop offset=".4357" stop-color="#fed4d4"/><stop offset=".4447" stop-color="#fc0c0c"/><stop offset=".447" stop-color="#c80000"/><stop offset=".5102" stop-color="#c80000"/><stop offset=".5124" stop-color="#fc0a0a"/><stop offset=".5214" stop-color="#fed1d1"/><stop offset=".5237" stop-color="#ffeded"/><stop offset=".526" stop-color="#f8f8ff"/><stop offset=".5305" stop-color="#d1d1fe"/><stop offset=".535" stop-color="#b1b1fe"/><stop offset=".5463" stop-color="#7e7efd"/><stop offset=".5576" stop-color="#6464fd"/><stop offset=".5734" stop-color="#5656fd"/><stop offset=".5914" stop-color="#5d5dfd"/><stop offset=".6095" stop-color="#7676fd"/><stop offset=".6253" stop-color="#a2a2fe"/><stop offset=".6388" stop-color="#dfdfff"/><stop offset=".6411" stop-color="#fec1c1"/><stop offset=".6433" stop-color="#fd5e5e"/><stop offset=".6456" stop-color="#d80101"/><stop offset=".6479" stop-color="#fc1010"/><stop offset=".6524" stop-color="#feb8b8"/><stop offset=".6546" stop-color="#ffecec"/><stop offset=".6704" stop-color="#fefeff"/><stop offset=".7336" stop-color="#6d6dfd"/><stop offset=".754" stop-color="#4d4dfd"/><stop offset=".7743" stop-color="#3a3afd"/><stop offset=".8262" stop-color="#2a2afc"/><stop offset="1" stop-color="#2525fc"/></linearGradient><linearGradient id="f29" gradientUnits="userSpaceOnUse" x1="500.2" x2="648" y1="0" y2="0"><stop offset="0" stop-color="#2525fc"/><stop offset=".149" stop-color="#2e2efc"/><stop offset=".1896" stop-color="#3838fd"/><stop offset=".219" stop-color="#4747fd"/><stop offset=".246" stop-color="#6363fd"/><stop offset=".2664" stop-color="#8888fe"/><stop offset=".2844" stop-color="#bdbdfe"/><stop offset=".3002" stop-color="#fffcfc"/><stop offset=".3047" stop-color="#ffe1e1"/><stop offset=".307" stop-color="#fecbcb"/><stop offset=".3138" stop-color="#fd3333"/><stop offset=".316" stop-color="#ed0303"/><stop offset=".3183" stop-color="#c80000"/><stop offset=".3612" stop-color="#c80000"/><stop offset=".3634" stop-color="#e60202"/><stop offset=".3657" stop-color="#fd3131"/><stop offset=".3725" stop-color="#fec7c7"/><stop offset=".3747" stop-color="#ffeded"/><stop offset=".377" stop-color="#f3f3ff"/><stop offset=".3837" stop-color="#b2b2fe"/><stop offset=".3905" stop-color="#8b8bfe"/><stop offset=".3973" stop-color="#7676fd"/><stop offset=".4063" stop-color="#6e6efd"/><stop offset=".4153" stop-color="#7d7dfd"/><stop offset=".4221" stop-color="#9898fe"/><stop offset=".4289" stop-color="#c8c8fe"/><stop offset=".4334" stop-color="#f8f8ff"/><stop offset=".4357" stop-color="#ffe7e7"/><stop offset=".4379" stop-color="#febfbf"/><stop offset=".4447" stop-color="#fc2828"/><stop offset=".447" stop-color="#c80000"/><stop offset=".5124" stop-color="#c80000"/><stop offset=".5147" stop-color="#fc2020"/><stop offset=".5214" stop-color="#feb8b8"/><stop offset=".5237" stop-color="#ffdede"/><stop offset=".526" stop-color="#fff9f9"/><stop offset=".5282" stop-color="#eeeeff"/><stop offset=".5372" stop-color="#ababfe"/><stop offset=".5463" stop-color="#8282fd"/><stop offset=".5576" stop-color="#6666fd"/><stop offset=".5734" stop-color="#5757fd"/><stop offset=".5914" stop-color="#5b5bfd"/><stop offset=".6095" stop-color="#7474fd"/><stop offset=".6253" stop-color="#9d9dfe"/><stop offset=".6388" stop-color="#d8d8ff"/><stop offset=".6411" stop-color="#fff9f9"/><stop offset=".6456" stop-color="#fd3535"/><stop offset=".6479" stop-color="#c80000"/><stop offset=".6501" stop-color="#fd3333"/><stop offset=".6546" stop-color="#ffdcdc"/><stop offset=".6569" stop-color="#ffeded"/><stop offset=".6704" stop-color="#fffefe"/><stop offset=".684" stop-color="#e5e5ff"/><stop offset=".7359" stop-color="#6b6bfd"/><stop offset=".7562" stop-color="#4c4cfd"/><stop offset=".7765" stop-color="#3939fd"/><stop offset=".8284" stop-color="#2a2afc"/><stop offset="1" stop-color="#2525fc"/></linearGradient><linearGradient id="f30" gradientUnits="userSpaceOnUse" x1="500.2" x2="648" y1="0" y2="0"><stop offset="0" stop-color="#2525fc"/><stop offset=".149" stop-color="#2d2dfc"/><stop offset=".1896" stop-color="#3737fd"/><stop offset=".219" stop-color="#4646fd"/><stop offset=".246" stop-color="#6161fd"/><stop offset=".2664" stop-color="#8585fe"/><stop offset=".2844" stop-color="#b8b8fe"/><stop offset=".3002" stop-color="#fafaff"/><stop offset=".3025" stop-color="#fff7f7"/><stop offset=".307" stop-color="#ffdcdc"/><stop offset=".3093" stop-color="#feb9b9"/><stop offset=".316" stop-color="#fc2121"/><stop offset=".3183" stop-color="#c80000"/><stop offset=".3634" stop-color="#c80000"/><stop offset=".3657" stop-color="#fc1010"/><stop offset=".3747" stop-color="#ffd6d6"/><stop offset=".377" stop-color="#fff8f8"/><stop offset=".3792" stop-color="#eaeaff"/><stop offset=".3837" stop-color="#bebefe"/><stop offset=".3905" stop-color="#9292fe"/><stop offset=".3973" stop-color="#7a7afd"/><stop offset=".4041" stop-color="#6f6ffd"/><stop offset=".4131" stop-color="#7575fd"/><stop offset=".4221" stop-color="#9292fe"/><stop offset=".4289" stop-color="#bebefe"/><stop offset=".4357" stop-color="#fff9f9"/><stop offset=".4379" stop-color="#ffd7d7"/><stop offset=".447" stop-color="#fc1212"/><stop offset=".4492" stop-color="#c80000"/><stop offset=".5124" stop-color="#c80000"/><stop offset=".5147" stop-color="#fc0404"/><stop offset=".5237" stop-color="#fecece"/><stop offset=".526" stop-color="#ffebeb"/><stop offset=".5282" stop-color="#fafaff"/><stop offset=".5327" stop-color="#d2d2fe"/><stop offset=".5372" stop-color="#b3b3fe"/><stop offset=".5485" stop-color="#7f7ffd"/><stop offset=".5598" stop-color="#6464fd"/><stop offset=".5756" stop-color="#5656fd"/><stop offset=".5937" stop-color="#5c5cfd"/><stop offset=".6117" stop-color="#7575fd"/><stop offset=".6275" stop-color="#a1a1fe"/><stop offset=".6411" stop-color="#ddddff"/><stop offset=".6433" stop-color="#fed0d0"/><stop offset=".6479" stop-color="#fc0b0b"/><stop offset=".6501" stop-color="#f70404"/><stop offset=".6546" stop-color="#feabab"/><stop offset=".6569" stop-color="#ffecec"/><stop offset=".6727" stop-color="#fefeff"/><stop offset=".7359" stop-color="#6d6dfd"/><stop offset=".7562" stop-color="#4d4dfd"/><stop offset=".7765" stop-color="#3a3afd"/><stop offset=".8284" stop-color="#2a2afc"/><stop offset="1" stop-color="#2525fc"/></linearGradient><linearGradient id="f31" gradientUnits="userSpaceOnUse" x1="500.2" x2="648" y1="0" y2="0"><stop offset="0" stop-color="#2525fc"/><stop offset=".1512" stop-color="#2e2efc"/><stop offset=".1919" stop-color="#3737fd"/><stop offset=".2212" stop-color="#4747fd"/><stop offset=".2483" stop-color="#6363fd"/><stop offset=".2686" stop-color="#8787fe"/><stop offset=".2867" stop-color="#babafe"/><stop offset=".3025" stop-color="#fefeff"/><stop offset=".3093" stop-color="#ffd7d7"/><stop offset=".3183" stop-color="#fc1010"/><stop offset=".3205" stop-color="#c80000"/><stop offset=".3657" stop-color="#c80000"/><stop offset=".3679" stop-color="#fc2121"/><stop offset=".3747" stop-color="#feb8b8"/><stop offset=".377" stop-color="#ffe2e2"/><stop offset=".3792" stop-color="#fbfbff"/><stop offset=".3837" stop-color="#cbcbfe"/><stop offset=".3905" stop-color="#9a9afe"/><stop offset=".3973" stop-color="#7e7efd"/><stop offset=".4063" stop-color="#6f6ffd"/><stop offset=".4153" stop-color="#7777fd"/><stop offset=".4221" stop-color="#8c8cfe"/><stop offset=".4289" stop-color="#b4b4fe"/><stop offset=".4357" stop-color="#f5f5ff"/><stop offset=".4379" stop-color="#ffebeb"/><stop offset=".4402" stop-color="#fec5c5"/><stop offset=".447" stop-color="#fd2e2e"/><stop offset=".4492" stop-color="#db0101"/><stop offset=".4515" stop-color="#c80000"/><stop offset=".5147" stop-color="#c80000"/><stop offset=".5169" stop-color="#fc1a1a"/><stop offset=".5237" stop-color="#feb1b1"/><stop offset=".526" stop-color="#ffdbdb"/><stop offset=".5282" stop-color="#fff6f6"/><stop offset=".5305" stop-color="#f1f1ff"/><stop offset=".535" stop-color="#cbcbfe"/><stop offset=".5395" stop-color="#adadfe"/><stop offset=".5508" stop-color="#7c7cfd"/><stop offset=".5643" stop-color="#5f5ffd"/><stop offset=".5801" stop-color="#5656fd"/><stop offset=".6005" stop-color="#6262fd"/><stop offset=".6185" stop-color="#8282fd"/><stop offset=".6275" stop-color="#9c9cfe"/><stop offset=".6366" stop-color="#c0c0fe"/><stop offset=".6411" stop-color="#d6d6ff"/><stop offset=".6433" stop-color="#f6f6ff"/><stop offset=".6456" stop-color="#fea7a7"/><stop offset=".6479" stop-color="#fd4545"/><stop offset=".6501" stop-color="#c80000"/><stop offset=".6524" stop-color="#fc2626"/><stop offset=".6569" stop-color="#fecece"/><stop offset=".6591" stop-color="#ffeded"/><stop offset=".6727" stop-color="#fffdfd"/><stop offset=".6862" stop-color="#e6e6ff"/><stop offset=".7381" stop-color="#6c6cfd"/><stop offset=".7585" stop-color="#4c4cfd"/><stop offset=".7788" stop-color="#3a3afd"/><stop offset=".8307" stop-color="#2a2afc"/><stop offset="1" stop-color="#2525fc"/></linearGradient><linearGradient id="f32" gradientUnits="userSpaceOnUse" x1="500.2" x2="648" y1="0" y2="0"><stop offset="0" stop-color="#2525fc"/><stop offset=".1512" stop-color="#2d2dfc"/><stop offset=".1919" stop-color="#3737fd"/><stop offset=".2212" stop-color="#4646fd"/><stop offset=".2483" stop-color="#6161fd"/><stop offset=".2686" stop-color="#8484fe"/><stop offset=".2867" stop-color="#b5b5fe"/><stop offset=".3025" stop-color="#f7f7ff"/><stop offset=".3047" stop-color="#fffbfb"/><stop offset=".3093" stop-color="#ffe1e1"/><stop offset=".3115" stop-color="#fecaca"/><stop offset=".3183" stop-color="#fd3232"/><stop offset=".3205" stop-color="#e80202"/><stop offset=".3228" stop-color="#c80000"/><stop offset=".3657" stop-color="#c80000"/><stop offset=".3679" stop-color="#ea0303"/><stop offset=".3702" stop-color="#fd3232"/><stop offset=".377" stop-color="#fec8c8"/><stop offset=".3792" stop-color="#ffeeee"/><stop offset=".3815" stop-color="#f2f2ff"/><stop offset=".3883" stop-color="#b2b2fe"/><stop offset=".395" stop-color="#8c8cfe"/><stop offset=".4018" stop-color="#7777fd"/><stop offset=".4108" stop-color="#7070fd"/><stop offset=".4199" stop-color="#7f7ffd"/><stop offset=".4266" stop-color="#9d9dfe"/><stop offset=".4334" stop-color="#cfcffe"/><stop offset=".4379" stop-color="#fffdfd"/><stop offset=".4402" stop-color="#ffdcdc"/><stop offset=".4424" stop-color="#feafaf"/><stop offset=".4492" stop-color="#fc1919"/><stop offset=".4515" stop-color="#c80000"/><stop offset=".5147" stop-color="#c80000"/><stop offset=".5169" stop-color="#e10202"/><stop offset=".5192" stop-color="#fd3030"/><stop offset=".526" stop-color="#fec7c7"/><stop offset=".5282" stop-color="#ffe7e7"/><stop offset=".5305" stop-color="#fefeff"/><stop offset=".535" stop-color="#d5d5fe"/><stop offset=".5395" stop-color="#b5b5fe"/><stop offset=".5508" stop-color="#8080fd"/><stop offset=".5621" stop-color="#6464fd"/><stop offset=".5779" stop-color="#5656fd"/><stop offset=".5959" stop-color="#5c5cfd"/><stop offset=".614" stop-color="#7575fd"/><stop offset=".6298" stop-color="#9f9ffe"/><stop offset=".6433" stop-color="#dbdbff"/><stop offset=".6456" stop-color="#ffe0e0"/><stop offset=".6501" stop-color="#fc1b1b"/><stop offset=".6524" stop-color="#c80000"/><stop offset=".6546" stop-color="#fd4949"/><stop offset=".6591" stop-color="#ffecec"/><stop offset=".6749" stop-color="#ffffff"/><stop offset=".6885" stop-color="#e4e4ff"/><stop offset=".7381" stop-color="#6e6efd"/><stop offset=".7585" stop-color="#4e4efd"/><stop offset=".7788" stop-color="#3a3afd"/><stop offset=".8307" stop-color="#2a2afc"/><stop offset="1" stop-color="#2525fc"/></linearGradient><linearGradient id="f33" gradientUnits="userSpaceOnUse" x1="500.2" x2="648" y1="0" y2="0"><stop offset="0" stop-color="#2525fc"/><stop offset=".1535" stop-color="#2e2efc"/><stop offset=".1941" stop-color="#3737fd"/><stop offset=".2235" stop-color="#4646fd"/><stop offset=".2506" stop-color="#6262fd"/><stop offset=".2709" stop-color="#8585fe"/><stop offset=".2889" stop-color="#b8b8fe"/><stop offset=".3047" stop-color="#fbfbff"/><stop offset=".307" stop-color="#fff7f7"/><stop offset=".3115" stop-color="#ffdcdc"/><stop offset=".3138" stop-color="#febaba"/><stop offset=".3205" stop-color="#fc2121"/><stop offset=".3228" stop-color="#c80000"/><stop offset=".3679" stop-color="#c80000"/><stop offset=".3702" stop-color="#fc1010"/><stop offset=".3792" stop-color="#ffd6d6"/><stop offset=".3815" stop-color="#fff8f8"/><stop offset=".3837" stop-color="#eaeaff"/><stop offset=".3883" stop-color="#bebefe"/><stop offset=".395" stop-color="#9393fe"/><stop offset=".4018" stop-color="#7a7afd"/><stop offset=".4086" stop-color="#7070fd"/><stop offset=".4176" stop-color="#7777fd"/><stop offset=".4244" stop-color="#8b8bfe"/><stop offset=".4312" stop-color="#b1b1fe"/><stop offset=".4379" stop-color="#f1f1ff"/><stop offset=".4402" stop-color="#fff0f0"/><stop offset=".4424" stop-color="#fecdcd"/><stop offset=".4515" stop-color="#fa0404"/><stop offset=".4537" stop-color="#c80000"/><stop offset=".5169" stop-color="#c80000"/><stop offset=".5192" stop-color="#fc1212"/><stop offset=".526" stop-color="#fea9a9"/><stop offset=".5282" stop-color="#ffd6d6"/><stop offset=".5305" stop-color="#fff2f2"/><stop offset=".5327" stop-color="#f4f4ff"/><stop offset=".5372" stop-color="#cecefe"/><stop offset=".5418" stop-color="#afaffe"/><stop offset=".553" stop-color="#7d7dfd"/><stop offset=".5643" stop-color="#6363fd"/><stop offset=".5801" stop-color="#5656fd"/><stop offset=".6005" stop-color="#5f5ffd"/><stop offset=".6185" stop-color="#7b7bfd"/><stop offset=".6343" stop-color="#ababfe"/><stop offset=".6433" stop-color="#d4d4fe"/><stop offset=".6456" stop-color="#e6e6ff"/><stop offset=".6479" stop-color="#feb8b8"/><stop offset=".6501" stop-color="#fd5555"/><stop offset=".6524" stop-color="#c80000"/><stop offset=".6546" stop-color="#fc1818"/><stop offset=".6591" stop-color="#fec0c0"/><stop offset=".6614" stop-color="#ffeded"/><stop offset=".6772" stop-color="#fdfdff"/><stop offset=".7404" stop-color="#6c6cfd"/><stop offset=".7607" stop-color="#4d4dfd"/><stop offset=".781" stop-color="#3a3afd"/><stop offset=".833" stop-color="#2a2afc"/><stop offset="1" stop-color="#2525fc"/></linearGradient><linearGradient id="f34" gradientUnits="userSpaceOnUse" x1="500.2" x2="648" y1="0" y2="0"><stop offset="0" stop-color="#2525fc"/><stop offset=".1558" stop-color="#2e2efc"/><stop offset=".1964" stop-color="#3838fd"/><stop offset=".2257" stop-color="#4747fd"/><stop offset=".2528" stop-color="#6363fd"/><stop offset=".2731" stop-color="#8787fe"/><stop offset=".2912" stop-color="#babafe"/><stop offset=".307" stop-color="#fefeff"/><stop offset=".3138" stop-color="#ffd7d7"/><stop offset=".3228" stop-color="#fc1111"/><stop offset=".3251" stop-color="#c80000"/><stop offset=".3702" stop-color="#c80000"/><stop offset=".3725" stop-color="#fc1f1f"/><stop offset=".3792" stop-color="#feb6b6"/><stop offset=".3815" stop-color="#ffe1e1"/><stop offset=".3837" stop-color="#fdfdff"/><stop offset=".3883" stop-color="#ccccfe"/><stop offset=".395" stop-color="#9b9bfe"/><stop offset=".4018" stop-color="#7f7ffd"/><stop offset=".4108" stop-color="#7171fd"/><stop offset=".4199" stop-color="#7979fd"/><stop offset=".4266" stop-color="#8f8ffe"/><stop offset=".4334" stop-color="#b8b8fe"/><stop offset=".4402" stop-color="#fcfcff"/><stop offset=".4424" stop-color="#ffe2e2"/><stop offset=".4447" stop-color="#feb8b8"/><stop offset=".4515" stop-color="#fc2121"/><stop offset=".4537" stop-color="#c80000"/><stop offset=".5192" stop-color="#c80000"/><stop offset=".5214" stop-color="#fc2727"/><stop offset=".5282" stop-color="#febebe"/><stop offset=".5305" stop-color="#ffe2e2"/><stop offset=".5327" stop-color="#fffcfc"/><stop offset=".5418" stop-color="#b7b7fe"/><stop offset=".5463" stop-color="#9e9efe"/><stop offset=".553" stop-color="#8181fd"/><stop offset=".5643" stop-color="#6565fd"/><stop offset=".5801" stop-color="#5656fd"/><stop offset=".5982" stop-color="#5b5bfd"/><stop offset=".6163" stop-color="#7474fd"/><stop offset=".6321" stop-color="#9e9efe"/><stop offset=".6456" stop-color="#d9d9ff"/><stop offset=".6479" stop-color="#fff1f1"/><stop offset=".6524" stop-color="#fc2c2c"/><stop offset=".6546" stop-color="#c80000"/><stop offset=".6569" stop-color="#fd3b3b"/><stop offset=".6614" stop-color="#ffe3e3"/><stop offset=".6637" stop-color="#ffeded"/><stop offset=".6772" stop-color="#ffffff"/><stop offset=".6907" stop-color="#e5e5ff"/><stop offset=".7427" stop-color="#6a6afd"/><stop offset=".763" stop-color="#4b4bfd"/><stop offset=".7833" stop-color="#3939fd"/><stop offset=".8352" stop-color="#2a2afc"/><stop offset="1" stop-color="#2525fc"/></linearGradient><linearGradient id="f35" gradientUnits="userSpaceOnUse" x1="500.2" x2="648" y1="0" y2="0"><stop offset="0" stop-color="#2525fc"/><stop offset=".1558" stop-color="#2e2efc"/><stop offset=".1964" stop-color="#3737fd"/><stop offset=".2257" stop-color="#4646fd"/><stop offset=".2528" stop-color="#6060fd"/><stop offset=".2731" stop-color="#8383fe"/><stop offset=".2912" stop-color="#b5b5fe"/><stop offset=".3093" stop-color="#fffcfc"/><stop offset=".3138" stop-color="#ffe1e1"/><stop offset=".316" stop-color="#fecdcd"/><stop offset=".3228" stop-color="#fd3535"/><stop offset=".3251" stop-color="#f40303"/><stop offset=".3273" stop-color="#c80000"/><stop offset=".3702" stop-color="#c80000"/><stop offset=".3725" stop-color="#dd0202"/><stop offset=".3747" stop-color="#fd2e2e"/><stop offset=".3815" stop-color="#fec5c5"/><stop offset=".3837" stop-color="#ffebeb"/><stop offset=".386" stop-color="#f5f5ff"/><stop offset=".3905" stop-color="#c6c6fe"/><stop offset=".3973" stop-color="#9898fe"/><stop offset=".4041" stop-color="#7d7dfd"/><stop offset=".4131" stop-color="#7171fd"/><stop offset=".4221" stop-color="#7b7bfd"/><stop offset=".4289" stop-color="#9494fe"/><stop offset=".4357" stop-color="#c0c0fe"/><stop offset=".4402" stop-color="#ececff"/><stop offset=".4424" stop-color="#fff6f6"/><stop offset=".4447" stop-color="#fed4d4"/><stop offset=".4537" stop-color="#fc0d0d"/><stop offset=".456" stop-color="#c80000"/><stop offset=".5192" stop-color="#c80000"/><stop offset=".5214" stop-color="#fc0808"/><stop offset=".5305" stop-color="#fed1d1"/><stop offset=".5327" stop-color="#ffeded"/><stop offset=".535" stop-color="#f9f9ff"/><stop offset=".5395" stop-color="#d1d1fe"/><stop offset=".544" stop-color="#b2b2fe"/><stop offset=".5553" stop-color="#7e7efd"/><stop offset=".5666" stop-color="#6464fd"/><stop offset=".5824" stop-color="#5656fd"/><stop offset=".6005" stop-color="#5c5cfd"/><stop offset=".6185" stop-color="#7676fd"/><stop offset=".6343" stop-color="#a1a1fe"/><stop offset=".6479" stop-color="#dedeff"/><stop offset=".6501" stop-color="#fec9c9"/><stop offset=".6546" stop-color="#f80404"/><stop offset=".6569" stop-color="#fc0a0a"/><stop offset=".6614" stop-color="#feb2b2"/><stop offset=".6637" stop-color="#ffecec"/><stop offset=".6795" stop-color="#fefeff"/><stop offset=".7427" stop-color="#6d6dfd"/><stop offset=".763" stop-color="#4d4dfd"/><stop offset=".7833" stop-color="#3a3afd"/><stop offset=".8352" stop-color="#2a2afc"/><stop offset="1" stop-color="#2525fc"/></linearGradient><linearGradient id="f36" gradientUnits="userSpaceOnUse" x1="500.2" x2="648" y1="0" y2="0"><stop offset="0" stop-color="#2525fc"/><stop offset=".1558" stop-color="#2d2dfc"/><stop offset=".1964" stop-color="#3737fd"/><stop offset=".2257" stop-color="#4545fd"/><stop offset=".2528" stop-color="#5e5efd"/><stop offset=".2754" stop-color="#8585fe"/><stop offset=".2935" stop-color="#b7b7fe"/><stop offset=".3093" stop-color="#fafaff"/><stop offset=".3115" stop-color="#fff8f8"/><stop offset=".316" stop-color="#ffdddd"/><stop offset=".3183" stop-color="#febebe"/><stop offset=".3251" stop-color="#fc2626"/><stop offset=".3273" stop-color="#c80000"/><stop offset=".3725" stop-color="#c80000"/><stop offset=".3747" stop-color="#fc0b0b"/><stop offset=".3837" stop-color="#fed2d2"/><stop offset=".386" stop-color="#fff5f5"/><stop offset=".3883" stop-color="#ededff"/><stop offset=".3928" stop-color="#c1c1fe"/><stop offset=".3995" stop-color="#9494fe"/><stop offset=".4063" stop-color="#7c7cfd"/><stop offset=".4131" stop-color="#7272fd"/><stop offset=".4221" stop-color="#7979fd"/><stop offset=".4289" stop-color="#8e8efe"/><stop offset=".4357" stop-color="#b5b5fe"/><stop offset=".4424" stop-color="#f6f6ff"/><stop offset=".4447" stop-color="#ffe9e9"/><stop offset=".447" stop-color="#fec2c2"/><stop offset=".4537" stop-color="#fc2c2c"/><stop offset=".456" stop-color="#d20101"/><stop offset=".4582" stop-color="#c80000"/><stop offset=".5214" stop-color="#c80000"/><stop offset=".5237" stop-color="#fc1c1c"/><stop offset=".5305" stop-color="#feb4b4"/><stop offset=".5327" stop-color="#ffdcdc"/><stop offset=".535" stop-color="#fff7f7"/><stop offset=".5372" stop-color="#f0f0ff"/><stop offset=".5418" stop-color="#cacafe"/><stop offset=".5463" stop-color="#acacfe"/><stop offset=".5576" stop-color="#7b7bfd"/><stop offset=".5711" stop-color="#5f5ffd"/><stop offset=".5892" stop-color="#5656fd"/><stop offset=".6095" stop-color="#6565fd"/><stop offset=".6275" stop-color="#8888fe"/><stop offset=".6388" stop-color="#adadfe"/><stop offset=".6479" stop-color="#d7d7ff"/><stop offset=".6501" stop-color="#fcfcff"/><stop offset=".6546" stop-color="#fd3e3e"/><stop offset=".6569" stop-color="#c80000"/><stop offset=".6591" stop-color="#fc2c2c"/><stop offset=".6637" stop-color="#fed5d5"/><stop offset=".6659" stop-color="#ffeded"/><stop offset=".6795" stop-color="#fffefe"/><stop offset=".693" stop-color="#e6e6ff"/><stop offset=".7449" stop-color="#6b6bfd"/><stop offset=".7652" stop-color="#4c4cfd"/><stop offset=".7856" stop-color="#3939fd"/><stop offset=".8375" stop-color="#2a2afc"/><stop offset="1" stop-color="#2525fc"/></linearGradient><linearGradient id="f37" gradientUnits="userSpaceOnUse" x1="500.2" x2="648" y1="0" y2="0"><stop offset="0" stop-color="#2525fc"/><stop offset=".1558" stop-color="#2d2dfc"/><stop offset=".1964" stop-color="#3636fd"/><stop offset=".228" stop-color="#4545fd"/><stop offset=".2551" stop-color="#5f5ffd"/><stop offset=".2777" stop-color="#8686fe"/><stop offset=".2957" stop-color="#b9b9fe"/><stop offset=".3115" stop-color="#fdfdff"/><stop offset=".3183" stop-color="#ffd9d9"/><stop offset=".3205" stop-color="#feb0b0"/><stop offset=".3273" stop-color="#fc1717"/><stop offset=".3296" stop-color="#c80000"/><stop offset=".3747" stop-color="#c80000"/><stop offset=".377" stop-color="#fc1919"/><stop offset=".3837" stop-color="#feafaf"/><stop offset=".386" stop-color="#ffdcdc"/><stop offset=".3883" stop-color="#fffdfd"/><stop offset=".3928" stop-color="#cfcffe"/><stop offset=".3995" stop-color="#9d9dfe"/><stop offset=".4063" stop-color="#8080fd"/><stop offset=".4153" stop-color="#7272fd"/><stop offset=".4244" stop-color="#7b7bfd"/><stop offset=".4312" stop-color="#9292fe"/><stop offset=".4379" stop-color="#bcbcfe"/><stop offset=".4447" stop-color="#fffdfd"/><stop offset=".447" stop-color="#ffdcdc"/><stop offset=".4492" stop-color="#feafaf"/><stop offset=".456" stop-color="#fc1818"/><stop offset=".4582" stop-color="#c80000"/><stop offset=".5214" stop-color="#c80000"/><stop offset=".5237" stop-color="#e10202"/><stop offset=".526" stop-color="#fd3030"/><stop offset=".5327" stop-color="#fec7c7"/><stop offset=".535" stop-color="#ffe7e7"/><stop offset=".5372" stop-color="#fefeff"/><stop offset=".5418" stop-color="#d5d5fe"/><stop offset=".5463" stop-color="#b5b5fe"/><stop offset=".5576" stop-color="#8080fd"/><stop offset=".5688" stop-color="#6464fd"/><stop offset=".5847" stop-color="#5656fd"/><stop offset=".6027" stop-color="#5c5cfd"/><stop offset=".6208" stop-color="#7575fd"/><stop offset=".6366" stop-color="#a0a0fe"/><stop offset=".6501" stop-color="#dcdcff"/><stop offset=".6524" stop-color="#ffdada"/><stop offset=".6569" stop-color="#fc1515"/><stop offset=".6591" stop-color="#d80101"/><stop offset=".6614" stop-color="#fd4f4f"/><stop offset=".6637" stop-color="#fea3a3"/><stop offset=".6659" stop-color="#ffecec"/><stop offset=".6817" stop-color="#fefeff"/><stop offset=".6953" stop-color="#e3e3ff"/><stop offset=".7449" stop-color="#6e6efd"/><stop offset=".7652" stop-color="#4d4dfd"/><stop offset=".7856" stop-color="#3a3afd"/><stop offset=".8375" stop-color="#2a2afc"/><stop offset="1" stop-color="#2525fc"/></linearGradient><linearGradient id="f38" gradientUnits="userSpaceOnUse" x1="500.2" x2="648" y1="0" y2="0"><stop offset="0" stop-color="#2525fc"/><stop offset=".158" stop-color="#2d2dfc"/><stop offset=".1986" stop-color="#3636fd"/><stop offset=".2302" stop-color="#4646fd"/><stop offset=".2573" stop-color="#6060fd"/><stop offset=".2777" stop-color="#8383fe"/><stop offset=".2957" stop-color="#b4b4fe"/><stop offset=".3138" stop-color="#fffefe"/><stop offset=".3205" stop-color="#fed5d5"/><stop offset=".3296" stop-color="#fc0a0a"/><stop offset=".3318" stop-color="#c80000"/><stop offset=".377" stop-color="#c80000"/><stop offset=".3792" stop-color="#fc2626"/><stop offset=".386" stop-color="#febdbd"/><stop offset=".3883" stop-color="#ffe6e6"/><stop offset=".3905" stop-color="#f9f9ff"/><stop offset=".395" stop-color="#cacafe"/><stop offset=".4018" stop-color="#9a9afe"/><stop offset=".4086" stop-color="#7f7ffd"/><stop offset=".4176" stop-color="#7272fd"/><stop offset=".4266" stop-color="#7d7dfd"/><stop offset=".4334" stop-color="#9696fe"/><stop offset=".4402" stop-color="#c3c3fe"/><stop offset=".4447" stop-color="#f0f0ff"/><stop offset=".447" stop-color="#fff1f1"/><stop offset=".4492" stop-color="#fecece"/><stop offset=".4582" stop-color="#fc0505"/><stop offset=".4605" stop-color="#c80000"/><stop offset=".5237" stop-color="#c80000"/><stop offset=".526" stop-color="#fc1010"/><stop offset=".535" stop-color="#fed5d5"/><stop offset=".5372" stop-color="#fff1f1"/><stop offset=".5395" stop-color="#f5f5ff"/><stop offset=".544" stop-color="#cecefe"/><stop offset=".5485" stop-color="#b0b0fe"/><stop offset=".5598" stop-color="#7d7dfd"/><stop offset=".5734" stop-color="#6060fd"/><stop offset=".5892" stop-color="#5656fd"/><stop offset=".6095" stop-color="#6161fd"/><stop offset=".6275" stop-color="#8181fd"/><stop offset=".6433" stop-color="#b5b5fe"/><stop offset=".6501" stop-color="#d5d5fe"/><stop offset=".6524" stop-color="#ececff"/><stop offset=".6546" stop-color="#feb2b2"/><stop offset=".6569" stop-color="#fd4f4f"/><stop offset=".6591" stop-color="#c80000"/><stop offset=".6614" stop-color="#fc1d1d"/><stop offset=".6659" stop-color="#fec6c6"/><stop offset=".6682" stop-color="#ffeded"/><stop offset=".6817" stop-color="#fffdfd"/><stop offset=".6953" stop-color="#e6e6ff"/><stop offset=".7472" stop-color="#6c6cfd"/><stop offset=".7675" stop-color="#4c4cfd"/><stop offset=".7878" stop-color="#3939fd"/><stop offset=".8375" stop-color="#2a2afc"/><stop offset="1" stop-color="#2525fc"/></linearGradient><linearGradient id="f39" gradientUnits="userSpaceOnUse" x1="500.2" x2="648" y1="0" y2="0"><stop offset="0" stop-color="#2525fc"/><stop offset=".1603" stop-color="#2d2dfc"/><stop offset=".2009" stop-color="#3737fd"/><stop offset=".2325" stop-color="#4646fd"/><stop offset=".2596" stop-color="#6161fd"/><stop offset=".2799" stop-color="#8484fe"/><stop offset=".298" stop-color="#b6b6fe"/><stop offset=".3138" stop-color="#f8f8ff"/><stop offset=".316" stop-color="#fffafa"/><stop offset=".3205" stop-color="#ffe0e0"/><stop offset=".3228" stop-color="#fec7c7"/><stop offset=".3296" stop-color="#fd2f2f"/><stop offset=".3318" stop-color="#dd0202"/><stop offset=".3341" stop-color="#c80000"/><stop offset=".377" stop-color="#c80000"/><stop offset=".3792" stop-color="#f20303"/><stop offset=".3815" stop-color="#fd3434"/><stop offset=".3883" stop-color="#fecaca"/><stop offset=".3905" stop-color="#ffeeee"/><stop offset=".3928" stop-color="#f2f2ff"/><stop offset=".3995" stop-color="#b3b3fe"/><stop offset=".4063" stop-color="#8d8dfe"/><stop offset=".4131" stop-color="#7979fd"/><stop offset=".4221" stop-color="#7474fd"/><stop offset=".4289" stop-color="#8080fd"/><stop offset=".4357" stop-color="#9b9bfe"/><stop offset=".4424" stop-color="#cacafe"/><stop offset=".447" stop-color="#fafaff"/><stop offset=".4492" stop-color="#ffe5e5"/><stop offset=".4515" stop-color="#febcbc"/><stop offset=".4582" stop-color="#fc2525"/><stop offset=".4605" stop-color="#c80000"/><stop offset=".526" stop-color="#c80000"/><stop offset=".5282" stop-color="#fc2323"/><stop offset=".535" stop-color="#febaba"/><stop offset=".5372" stop-color="#ffe0e0"/><stop offset=".5395" stop-color="#fffafa"/><stop offset=".5485" stop-color="#b9b9fe"/><stop offset=".553" stop-color="#9f9ffe"/><stop offset=".5598" stop-color="#8282fd"/><stop offset=".5711" stop-color="#6565fd"/><stop offset=".5869" stop-color="#5757fd"/><stop offset=".605" stop-color="#5c5cfd"/><stop offset=".623" stop-color="#7474fd"/><stop offset=".6388" stop-color="#9e9efe"/><stop offset=".6524" stop-color="#d9d9ff"/><stop offset=".6546" stop-color="#ffebeb"/><stop offset=".6591" stop-color="#fc2727"/><stop offset=".6614" stop-color="#c80000"/><stop offset=".6637" stop-color="#fd4040"/><stop offset=".6682" stop-color="#ffe8e8"/><stop offset=".684" stop-color="#ffffff"/><stop offset=".6975" stop-color="#e4e4ff"/><stop offset=".7494" stop-color="#6a6afd"/><stop offset=".7675" stop-color="#4e4efd"/><stop offset=".7878" stop-color="#3a3afd"/><stop offset=".8397" stop-color="#2a2afc"/><stop offset="1" stop-color="#2525fc"/></linearGradient><linearGradient id="f40" gradientUnits="userSpaceOnUse" x1="500.2" x2="648" y1="0" y2="0"><stop offset="0" stop-color="#2525fc"/><stop offset=".1603" stop-color="#2d2dfc"/><stop offset=".2009" stop-color="#3636fd"/><stop offset=".2325" stop-color="#4545fd"/><stop offset=".2596" stop-color="#5f5ffd"/><stop offset=".2822" stop-color="#8686fe"/><stop offset=".3002" stop-color="#b8b8fe"/><stop offset=".316" stop-color="#fbfbff"/><stop offset=".3183" stop-color="#fff7f7"/><stop offset=".3228" stop-color="#ffdcdc"/><stop offset=".3251" stop-color="#febaba"/><stop offset=".3318" stop-color="#fc2222"/><stop offset=".3341" stop-color="#c80000"/><stop offset=".3792" stop-color="#c80000"/><stop offset=".3815" stop-color="#fc0e0e"/><stop offset=".3905" stop-color="#fed4d4"/><stop offset=".3928" stop-color="#fff6f6"/><stop offset=".395" stop-color="#ebebff"/><stop offset=".3995" stop-color="#c0c0fe"/><stop offset=".4063" stop-color="#9595fe"/><stop offset=".4131" stop-color="#7d7dfd"/><stop offset=".4199" stop-color="#7474fd"/><stop offset=".4289" stop-color="#7c7cfd"/><stop offset=".4357" stop-color="#9494fe"/><stop offset=".4424" stop-color="#bebefe"/><stop offset=".4492" stop-color="#fffafa"/><stop offset=".4515" stop-color="#ffd8d8"/><stop offset=".4605" stop-color="#fc1313"/><stop offset=".4628" stop-color="#c80000"/><stop offset=".526" stop-color="#c80000"/><stop offset=".5282" stop-color="#f50303"/><stop offset=".5305" stop-color="#fd3535"/><stop offset=".5372" stop-color="#fecccc"/><stop offset=".5395" stop-color="#ffe9e9"/><stop offset=".5418" stop-color="#fbfbff"/><stop offset=".5463" stop-color="#d3d3fe"/><stop offset=".5508" stop-color="#b3b3fe"/><stop offset=".5621" stop-color="#7f7ffd"/><stop offset=".5734" stop-color="#6464fd"/><stop offset=".5892" stop-color="#5656fd"/><stop offset=".6072" stop-color="#5c5cfd"/><stop offset=".6253" stop-color="#7676fd"/><stop offset=".6411" stop-color="#a1a1fe"/><stop offset=".6546" stop-color="#dedeff"/><stop offset=".6569" stop-color="#fec4c4"/><stop offset=".6591" stop-color="#fd6161"/><stop offset=".6614" stop-color="#e30202"/><stop offset=".6637" stop-color="#fc0e0e"/><stop offset=".6682" stop-color="#feb6b6"/><stop offset=".6704" stop-color="#ffeded"/><stop offset=".6862" stop-color="#fdfdff"/><stop offset=".7494" stop-color="#6d6dfd"/><stop offset=".7698" stop-color="#4d4dfd"/><stop offset=".7901" stop-color="#3a3afd"/><stop offset=".8397" stop-color="#2a2afc"/><stop offset="1" stop-color="#2525fc"/></linearGradient><linearGradient id="f41" gradientUnits="userSpaceOnUse" x1="500.2" x2="648" y1="0" y2="0"><stop offset="0" stop-color="#2525fc"/><stop offset=".1625" stop-color="#2d2dfc"/><stop offset=".2032" stop-color="#3636fd"/><stop offset=".2348" stop-color="#4646fd"/><stop offset=".2619" stop-color="#6060fd"/><stop offset=".2844" stop-color="#8787fe"/><stop offset=".3025" stop-color="#babafe"/><stop offset=".3183" stop-color="#fdfdff"/><stop offset=".3251" stop-color="#ffd8d8"/><stop offset=".3273" stop-color="#feaeae"/><stop offset=".3341" stop-color="#fc1616"/><stop offset=".3363" stop-color="#c80000"/><stop offset=".3815" stop-color="#c80000"/><stop offset=".3837" stop-color="#fc1a1a"/><stop offset=".3905" stop-color="#feb1b1"/><stop offset=".3928" stop-color="#ffdddd"/><stop offset=".395" stop-color="#fffefe"/><stop offset=".3995" stop-color="#cfcffe"/><stop offset=".4063" stop-color="#9e9efe"/><stop offset=".4131" stop-color="#8181fd"/><stop offset=".4221" stop-color="#7474fd"/><stop offset=".4312" stop-color="#7e7efd"/><stop offset=".4379" stop-color="#9898fe"/><stop offset=".4447" stop-color="#c5c5fe"/><stop offset=".4492" stop-color="#f2f2ff"/><stop offset=".4515" stop-color="#ffeeee"/><stop offset=".4537" stop-color="#fecaca"/><stop offset=".4605" stop-color="#fd3434"/><stop offset=".4628" stop-color="#f20303"/><stop offset=".465" stop-color="#c80000"/><stop offset=".5282" stop-color="#c80000"/><stop offset=".5305" stop-color="#fc1414"/><stop offset=".5372" stop-color="#feabab"/><stop offset=".5395" stop-color="#ffd7d7"/><stop offset=".5418" stop-color="#fff3f3"/><stop offset=".544" stop-color="#f4f4ff"/><stop offset=".5485" stop-color="#cdcdfe"/><stop offset=".553" stop-color="#afaffe"/><stop offset=".5643" stop-color="#7d7dfd"/><stop offset=".5711" stop-color="#6b6bfd"/><stop offset=".5801" stop-color="#5d5dfd"/><stop offset=".5982" stop-color="#5757fd"/><stop offset=".6185" stop-color="#6868fd"/><stop offset=".6366" stop-color="#8e8efe"/><stop offset=".6456" stop-color="#adadfe"/><stop offset=".6546" stop-color="#d7d7ff"/><stop offset=".6569" stop-color="#fffdfd"/><stop offset=".6614" stop-color="#fd3939"/><stop offset=".6637" stop-color="#c80000"/><stop offset=".6659" stop-color="#fd3030"/><stop offset=".6704" stop-color="#ffd9d9"/><stop offset=".6727" stop-color="#ffeded"/><stop offset=".6862" stop-color="#fffefe"/><stop offset=".6998" stop-color="#e5e5ff"/><stop offset=".7517" stop-color="#6b6bfd"/><stop offset=".7698" stop-color="#4e4efd"/><stop offset=".7901" stop-color="#3a3afd"/><stop offset=".842" stop-color="#2a2afc"/><stop offset="1" stop-color="#2525fc"/></linearGradient><linearGradient id="f42" gradientUnits="userSpaceOnUse" x1="500.2" x2="648" y1="0" y2="0"><stop offset="0" stop-color="#2525fc"/><stop offset=".1648" stop-color="#2e2efc"/><stop offset=".2054" stop-color="#3737fd"/><stop offset=".237" stop-color="#4646fd"/><stop offset=".2641" stop-color="#6060fd"/><stop offset=".2844" stop-color="#8383fe"/><stop offset=".3025" stop-color="#b4b4fe"/><stop offset=".3205" stop-color="#fffefe"/><stop offset=".3273" stop-color="#fed5d5"/><stop offset=".3363" stop-color="#fc0a0a"/><stop offset=".3386" stop-color="#c80000"/><stop offset=".3837" stop-color="#c80000"/><stop offset=".386" stop-color="#fc2626"/><stop offset=".3928" stop-color="#febcbc"/><stop offset=".395" stop-color="#ffe5e5"/><stop offset=".3973" stop-color="#fafaff"/><stop offset=".4018" stop-color="#cacafe"/><stop offset=".4086" stop-color="#9b9bfe"/><stop offset=".4153" stop-color="#8080fd"/><stop offset=".4244" stop-color="#7575fd"/><stop offset=".4334" stop-color="#8181fd"/><stop offset=".4402" stop-color="#9c9cfe"/><stop offset=".447" stop-color="#ccccfe"/><stop offset=".4515" stop-color="#fcfcff"/><stop offset=".4537" stop-color="#ffe3e3"/><stop offset=".456" stop-color="#feb9b9"/><stop offset=".4628" stop-color="#fc2323"/><stop offset=".465" stop-color="#c80000"/><stop offset=".5305" stop-color="#c80000"/><stop offset=".5327" stop-color="#fc2525"/><stop offset=".5395" stop-color="#febcbc"/><stop offset=".5418" stop-color="#ffe1e1"/><stop offset=".544" stop-color="#fffbfb"/><stop offset=".553" stop-color="#b8b8fe"/><stop offset=".5576" stop-color="#9e9efe"/><stop offset=".5643" stop-color="#8282fd"/><stop offset=".5756" stop-color="#6565fd"/><stop offset=".5914" stop-color="#5757fd"/><stop offset=".6095" stop-color="#5c5cfd"/><stop offset=".6275" stop-color="#7575fd"/><stop offset=".6433" stop-color="#a0a0fe"/><stop offset=".6569" stop-color="#dcdcff"/><stop offset=".6591" stop-color="#ffd6d6"/><stop offset=".6637" stop-color="#fc1010"/><stop offset=".6659" stop-color="#e70202"/><stop offset=".6682" stop-color="#fd5252"/><stop offset=".6704" stop-color="#fea7a7"/><stop offset=".6727" stop-color="#ffecec"/><stop offset=".6885" stop-color="#fefeff"/><stop offset=".702" stop-color="#e3e3ff"/><stop offset=".7517" stop-color="#6d6dfd"/><stop offset=".772" stop-color="#4d4dfd"/><stop offset=".7923" stop-color="#3a3afd"/><stop offset=".842" stop-color="#2a2afc"/><stop offset="1" stop-color="#2525fc"/></linearGradient><linearGradient id="f43" gradientUnits="userSpaceOnUse" x1="500.2" x2="648" y1="0" y2="0"><stop offset="0" stop-color="#2525fc"/><stop offset=".1648" stop-color="#2d2dfc"/><stop offset=".2054" stop-color="#3636fd"/><stop offset=".237" stop-color="#4545fd"/><stop offset=".2641" stop-color="#5e5efd"/><stop offset=".2867" stop-color="#8484fe"/><stop offset=".3047" stop-color="#b6b6fe"/><stop offset=".3205" stop-color="#f7f7ff"/><stop offset=".3228" stop-color="#fffbfb"/><stop offset=".3273" stop-color="#ffe0e0"/><stop offset=".3296" stop-color="#fec9c9"/><stop offset=".3363" stop-color="#fd3131"/><stop offset=".3386" stop-color="#e50202"/><stop offset=".3409" stop-color="#c80000"/><stop offset=".3837" stop-color="#c80000"/><stop offset=".386" stop-color="#e80202"/><stop offset=".3883" stop-color="#fd3131"/><stop offset=".395" stop-color="#fec7c7"/><stop offset=".3973" stop-color="#ffeded"/><stop offset=".3995" stop-color="#f4f4ff"/><stop offset=".4041" stop-color="#c6c6fe"/><stop offset=".4108" stop-color="#9999fe"/><stop offset=".4176" stop-color="#7f7ffd"/><stop offset=".4266" stop-color="#7575fd"/><stop offset=".4334" stop-color="#7d7dfd"/><stop offset=".4402" stop-color="#9595fe"/><stop offset=".447" stop-color="#bfbffe"/><stop offset=".4515" stop-color="#eaeaff"/><stop offset=".4537" stop-color="#fff8f8"/><stop offset=".456" stop-color="#ffd7d7"/><stop offset=".465" stop-color="#fc1212"/><stop offset=".4673" stop-color="#c80000"/><stop offset=".5305" stop-color="#c80000"/><stop offset=".5327" stop-color="#fa0404"/><stop offset=".5418" stop-color="#fecdcd"/><stop offset=".544" stop-color="#ffeaea"/><stop offset=".5463" stop-color="#fbfbff"/><stop offset=".5508" stop-color="#d3d3fe"/><stop offset=".5553" stop-color="#b3b3fe"/><stop offset=".5666" stop-color="#7f7ffd"/><stop offset=".5801" stop-color="#6161fd"/><stop offset=".5959" stop-color="#5656fd"/><stop offset=".6163" stop-color="#6161fd"/><stop offset=".6343" stop-color="#8181fd"/><stop offset=".6433" stop-color="#9b9bfe"/><stop offset=".6524" stop-color="#bfbffe"/><stop offset=".6569" stop-color="#d5d5fe"/><stop offset=".6591" stop-color="#efefff"/><stop offset=".6614" stop-color="#feaeae"/><stop offset=".6637" stop-color="#fd4c4c"/><stop offset=".6659" stop-color="#c80000"/><stop offset=".6682" stop-color="#fc2121"/><stop offset=".6727" stop-color="#fec9c9"/><stop offset=".6749" stop-color="#ffeded"/><stop offset=".6885" stop-color="#fffefe"/><stop offset=".702" stop-color="#e6e6ff"/><stop offset=".754" stop-color="#6b6bfd"/><stop offset=".772" stop-color="#4f4ffd"/><stop offset=".7923" stop-color="#3b3bfd"/><stop offset=".842" stop-color="#2a2afc"/><stop offset="1" stop-color="#2525fc"/></linearGradient><linearGradient id="f44" gradientUnits="userSpaceOnUse" x1="500.2" x2="648" y1="0" y2="0"><stop offset="0" stop-color="#2525fc"/><stop offset=".167" stop-color="#2d2dfc"/><stop offset=".2077" stop-color="#3636fd"/><stop offset=".2393" stop-color="#4545fd"/><stop offset=".2664" stop-color="#5f5ffd"/><stop offset=".2889" stop-color="#8585fe"/><stop offset=".307" stop-color="#b8b8fe"/><stop offset=".3228" stop-color="#fafaff"/><stop offset=".3251" stop-color="#fff8f8"/><stop offset=".3296" stop-color="#ffdddd"/><stop offset=".3318" stop-color="#febebe"/><stop offset=".3386" stop-color="#fc2626"/><stop offset=".3409" stop-color="#c80000"/><stop offset=".386" stop-color="#c80000"/><stop offset=".3883" stop-color="#fc0a0a"/><stop offset=".3973" stop-color="#fed1d1"/><stop offset=".3995" stop-color="#fff3f3"/><stop offset=".4018" stop-color="#eeeeff"/><stop offset=".4063" stop-color="#c2c2fe"/><stop offset=".4131" stop-color="#9696fe"/><stop offset=".4199" stop-color="#7e7efd"/><stop offset=".4266" stop-color="#7676fd"/><stop offset=".4357" stop-color="#7f7ffd"/><stop offset=".4424" stop-color="#9898fe"/><stop offset=".4492" stop-color="#c5c5fe"/><stop offset=".4537" stop-color="#f3f3ff"/><stop offset=".456" stop-color="#ffeeee"/><stop offset=".4582" stop-color="#fecaca"/><stop offset=".465" stop-color="#fd3434"/><stop offset=".4673" stop-color="#f20303"/><stop offset=".4695" stop-color="#c80000"/><stop offset=".5327" stop-color="#c80000"/><stop offset=".535" stop-color="#fc1414"/><stop offset=".5418" stop-color="#feabab"/><stop offset=".544" stop-color="#ffd7d7"/><stop offset=".5463" stop-color="#fff3f3"/><stop offset=".5485" stop-color="#f4f4ff"/><stop offset=".553" stop-color="#cdcdfe"/><stop offset=".5576" stop-color="#afaffe"/><stop offset=".5688" stop-color="#7d7dfd"/><stop offset=".5801" stop-color="#6363fd"/><stop offset=".5959" stop-color="#5757fd"/><stop offset=".614" stop-color="#5e5efd"/><stop offset=".6321" stop-color="#7979fd"/><stop offset=".6456" stop-color="#9e9efe"/><stop offset=".6591" stop-color="#dadaff"/><stop offset=".6614" stop-color="#ffe8e8"/><stop offset=".6659" stop-color="#fc2323"/><stop offset=".6682" stop-color="#c80000"/><stop offset=".6704" stop-color="#fd4343"/><stop offset=".6749" stop-color="#ffebeb"/><stop offset=".6907" stop-color="#ffffff"/><stop offset=".7043" stop-color="#e4e4ff"/><stop offset=".7562" stop-color="#6a6afd"/><stop offset=".7743" stop-color="#4e4efd"/><stop offset=".7946" stop-color="#3a3afd"/><stop offset=".8442" stop-color="#2a2afc"/><stop offset="1" stop-color="#2525fc"/></linearGradient><linearGradient id="f45" gradientUnits="userSpaceOnUse" x1="500.2" x2="648" y1="0" y2="0"><stop offset="0" stop-color="#2525fc"/><stop offset=".167" stop-color="#2d2dfc"/><stop offset=".2077" stop-color="#3636fd"/><stop offset=".2393" stop-color="#4444fd"/><stop offset=".2664" stop-color="#5d5dfd"/><stop offset=".2889" stop-color="#8181fd"/><stop offset=".3093" stop-color="#b9b9fe"/><stop offset=".3251" stop-color="#fcfcff"/><stop offset=".3273" stop-color="#fff5f5"/><stop offset=".3318" stop-color="#ffdada"/><stop offset=".3341" stop-color="#feb4b4"/><stop offset=".3409" stop-color="#fc1b1b"/><stop offset=".3431" stop-color="#c80000"/><stop offset=".3883" stop-color="#c80000"/><stop offset=".3905" stop-color="#fc1414"/><stop offset=".3995" stop-color="#ffd8d8"/><stop offset=".4018" stop-color="#fffafa"/><stop offset=".4086" stop-color="#bebefe"/><stop offset=".4153" stop-color="#9494fe"/><stop offset=".4221" stop-color="#7e7efd"/><stop offset=".4289" stop-color="#7676fd"/><stop offset=".4379" stop-color="#8282fd"/><stop offset=".4447" stop-color="#9c9cfe"/><stop offset=".4515" stop-color="#ccccfe"/><stop offset=".456" stop-color="#fbfbff"/><stop offset=".4582" stop-color="#ffe3e3"/><stop offset=".4605" stop-color="#febaba"/><stop offset=".4673" stop-color="#fc2424"/><stop offset=".4695" stop-color="#c80000"/><stop offset=".535" stop-color="#c80000"/><stop offset=".5372" stop-color="#fc2424"/><stop offset=".544" stop-color="#febbbb"/><stop offset=".5463" stop-color="#ffe0e0"/><stop offset=".5485" stop-color="#fffbfb"/><stop offset=".5576" stop-color="#b8b8fe"/><stop offset=".5621" stop-color="#9e9efe"/><stop offset=".5688" stop-color="#8282fd"/><stop offset=".5801" stop-color="#6666fd"/><stop offset=".5959" stop-color="#5757fd"/><stop offset=".614" stop-color="#5d5dfd"/><stop offset=".6321" stop-color="#7676fd"/><stop offset=".6479" stop-color="#a1a1fe"/><stop offset=".6614" stop-color="#dfdfff"/><stop offset=".6637" stop-color="#fec1c1"/><stop offset=".6659" stop-color="#fd5f5f"/><stop offset=".6682" stop-color="#da0101"/><stop offset=".6704" stop-color="#fc1111"/><stop offset=".6749" stop-color="#feb9b9"/><stop offset=".6772" stop-color="#ffeded"/><stop offset=".6907" stop-color="#fffdfd"/><stop offset=".7043" stop-color="#e7e7ff"/><stop offset=".7562" stop-color="#6c6cfd"/><stop offset=".7743" stop-color="#4f4ffd"/><stop offset=".7946" stop-color="#3b3bfd"/><stop offset=".8442" stop-color="#2a2afc"/><stop offset="1" stop-color="#2525fc"/></linearGradient><linearGradient id="f46" gradientUnits="userSpaceOnUse" x1="500.2" x2="648" y1="0" y2="0"><stop offset="0" stop-color="#2525fc"/><stop offset=".167" stop-color="#2d2dfc"/><stop offset=".2099" stop-color="#3636fd"/><stop offset=".2415" stop-color="#4545fd"/><stop offset=".2686" stop-color="#5d5dfd"/><stop offset=".2912" stop-color="#8383fe"/><stop offset=".3115" stop-color="#bbbbfe"/><stop offset=".3273" stop-color="#fffefe"/><stop offset=".3341" stop-color="#ffd6d6"/><stop offset=".3431" stop-color="#fc0d0d"/><stop offset=".3454" stop-color="#c80000"/><stop offset=".3905" stop-color="#c80000"/><stop offset=".3928" stop-color="#fc2222"/><stop offset=".3995" stop-color="#feb8b8"/><stop offset=".4018" stop-color="#ffe2e2"/><stop offset=".4041" stop-color="#fcfcff"/><stop offset=".4086" stop-color="#ccccfe"/><stop offset=".4153" stop-color="#9d9dfe"/><stop offset=".4221" stop-color="#8282fd"/><stop offset=".4312" stop-color="#7777fd"/><stop offset=".4379" stop-color="#7f7ffd"/><stop offset=".4447" stop-color="#9595fe"/><stop offset=".4515" stop-color="#c0c0fe"/><stop offset=".456" stop-color="#ebebff"/><stop offset=".4582" stop-color="#fff8f8"/><stop offset=".4605" stop-color="#ffd6d6"/><stop offset=".4695" stop-color="#fc1111"/><stop offset=".4718" stop-color="#c80000"/><stop offset=".535" stop-color="#c80000"/><stop offset=".5372" stop-color="#fc0404"/><stop offset=".5463" stop-color="#fecece"/><stop offset=".5485" stop-color="#ffebeb"/><stop offset=".5508" stop-color="#fafaff"/><stop offset=".5553" stop-color="#d2d2fe"/><stop offset=".5598" stop-color="#b3b3fe"/><stop offset=".5688" stop-color="#8787fe"/><stop offset=".5801" stop-color="#6868fd"/><stop offset=".5959" stop-color="#5858fd"/><stop offset=".614" stop-color="#5c5cfd"/><stop offset=".6321" stop-color="#7474fd"/><stop offset=".6479" stop-color="#9d9dfe"/><stop offset=".6614" stop-color="#d8d8ff"/><stop offset=".6637" stop-color="#fff6f6"/><stop offset=".6682" stop-color="#fd3131"/><stop offset=".6704" stop-color="#c80000"/><stop offset=".6727" stop-color="#fd3737"/><stop offset=".6772" stop-color="#ffe0e0"/><stop offset=".6795" stop-color="#ffeeee"/><stop offset=".693" stop-color="#ffffff"/><stop offset=".7065" stop-color="#e5e5ff"/><stop offset=".7585" stop-color="#6a6afd"/><stop offset=".7765" stop-color="#4e4efd"/><stop offset=".7968" stop-color="#3a3afd"/><stop offset=".8465" stop-color="#2a2afc"/><stop offset="1" stop-color="#2525fc"/></linearGradient><clipPath id="fclip"><rect x="501.2" y="205.6" width="145.8" height="138.6"/></clipPath></defs>
<g clip-path="url(#fclip)" shape-rendering="crispEdges"><g><rect x="500.2" y="205" width="147.8" height="3" fill="url(#f0)"/><rect x="500.2" y="208" width="147.8" height="3" fill="url(#f1)"/><rect x="500.2" y="211" width="147.8" height="3" fill="url(#f2)"/><rect x="500.2" y="214" width="147.8" height="3" fill="url(#f3)"/><rect x="500.2" y="217" width="147.8" height="3" fill="url(#f4)"/><rect x="500.2" y="220" width="147.8" height="3" fill="url(#f5)"/><rect x="500.2" y="223" width="147.8" height="3" fill="url(#f6)"/><rect x="500.2" y="226" width="147.8" height="3" fill="url(#f7)"/><rect x="500.2" y="229" width="147.8" height="3" fill="url(#f8)"/><rect x="500.2" y="232" width="147.8" height="3" fill="url(#f9)"/><rect x="500.2" y="235" width="147.8" height="3" fill="url(#f10)"/><rect x="500.2" y="238" width="147.8" height="3" fill="url(#f11)"/><rect x="500.2" y="241" width="147.8" height="3" fill="url(#f12)"/><rect x="500.2" y="244" width="147.8" height="3" fill="url(#f13)"/><rect x="500.2" y="247" width="147.8" height="3" fill="url(#f14)"/><rect x="500.2" y="250" width="147.8" height="3" fill="url(#f15)"/><rect x="500.2" y="253" width="147.8" height="3" fill="url(#f16)"/><rect x="500.2" y="256" width="147.8" height="3" fill="url(#f17)"/><rect x="500.2" y="259" width="147.8" height="3" fill="url(#f18)"/><rect x="500.2" y="262" width="147.8" height="3" fill="url(#f19)"/><rect x="500.2" y="265" width="147.8" height="3" fill="url(#f20)"/><rect x="500.2" y="268" width="147.8" height="3" fill="url(#f21)"/><rect x="500.2" y="271" width="147.8" height="3" fill="url(#f22)"/><rect x="500.2" y="274" width="147.8" height="3" fill="url(#f23)"/><rect x="500.2" y="277" width="147.8" height="3" fill="url(#f24)"/><rect x="500.2" y="280" width="147.8" height="3" fill="url(#f25)"/><rect x="500.2" y="283" width="147.8" height="3" fill="url(#f26)"/><rect x="500.2" y="286" width="147.8" height="3" fill="url(#f27)"/><rect x="500.2" y="289" width="147.8" height="3" fill="url(#f28)"/><rect x="500.2" y="292" width="147.8" height="3" fill="url(#f29)"/><rect x="500.2" y="295" width="147.8" height="3" fill="url(#f30)"/><rect x="500.2" y="298" width="147.8" height="3" fill="url(#f31)"/><rect x="500.2" y="301" width="147.8" height="3" fill="url(#f32)"/><rect x="500.2" y="304" width="147.8" height="3" fill="url(#f33)"/><rect x="500.2" y="307" width="147.8" height="3" fill="url(#f34)"/><rect x="500.2" y="310" width="147.8" height="3" fill="url(#f35)"/><rect x="500.2" y="313" width="147.8" height="3" fill="url(#f36)"/><rect x="500.2" y="316" width="147.8" height="3" fill="url(#f37)"/><rect x="500.2" y="319" width="147.8" height="3" fill="url(#f38)"/><rect x="500.2" y="322" width="147.8" height="3" fill="url(#f39)"/><rect x="500.2" y="325" width="147.8" height="3" fill="url(#f40)"/><rect x="500.2" y="328" width="147.8" height="3" fill="url(#f41)"/><rect x="500.2" y="331" width="147.8" height="3" fill="url(#f42)"/><rect x="500.2" y="334" width="147.8" height="3" fill="url(#f43)"/><rect x="500.2" y="337" width="147.8" height="3" fill="url(#f44)"/><rect x="500.2" y="340" width="147.8" height="3" fill="url(#f45)"/><rect x="500.2" y="343" width="147.8" height="3" fill="url(#f46)"/></g></g>
<path d="M567.3 205.6L567.72 217.15L568.18 228.7L568.68 240.25L569.22 251.8L569.8 263.35L570.43 274.9L571.09 286.45L571.8 298L572.55 309.55L573.34 321.1L574.17 332.65L575.04 344.2" fill="none" stroke="#111" stroke-width="0.8" stroke-dasharray="1.5 1.7"/>
<path d="M545.3 205.6L545.79 217.15L546.32 228.7L546.9 240.25L547.53 251.8L548.21 263.35L548.94 274.9L549.71 286.45L550.53 298L551.4 309.55L552.32 321.1L553.29 332.65L554.3 344.2" fill="none" stroke="#111" stroke-width="0.8" stroke-dasharray="1.5 1.7"/>
<path d="M590.4 205.6L591.11 217.15L591.82 228.7L592.54 240.25L593.26 251.8L593.99 263.35L594.72 274.9L595.46 286.45L596.21 298L596.96 309.55L597.71 321.1L598.47 332.65L599.24 344.2" fill="none" stroke="#c81818" stroke-width="0.8" stroke-dasharray="1.5 1.7"/>
<path d="M506.6 205.6L507.31 217.15L508.02 228.7L508.74 240.25L509.46 251.8L510.19 263.35L510.92 274.9L511.66 286.45L512.41 298L513.16 309.55L513.91 321.1L514.67 332.65L515.44 344.2" fill="none" stroke="#111" stroke-width="0.8" stroke-dasharray="1.5 1.7"/>
<path d="M629.6 205.6L630.31 217.15L631.02 228.7L631.74 240.25L632.46 251.8L633.19 263.35L633.92 274.9L634.66 286.45L635.41 298L636.16 309.55L636.91 321.1L637.67 332.65L638.44 344.2" fill="none" stroke="#111" stroke-width="0.8" stroke-dasharray="1.5 1.7"/>
<rect x="501.2" y="205.6" width="145.8" height="138.6" fill="none" stroke="#222" stroke-width="0.9"/>
<path d="M537.65 344.2v-2.8M574.1 344.2v-2.8M610.55 344.2v-2.8" stroke="#111" stroke-width="0.8" fill="none"/>
<path d="M519.43 344.2v-1.6M555.88 344.2v-1.6M592.33 344.2v-1.6M628.77 344.2v-1.6" stroke="#111" stroke-width="0.8" fill="none"/>
<path d="M501.2 330.24h2.8M501.2 302.52h2.8M501.2 274.8h2.8M501.2 247.08h2.8M501.2 219.36h2.8" stroke="#111" stroke-width="0.8" fill="none"/>
<path d="M501.2 316.38h1.6M501.2 288.66h1.6M501.2 260.94h1.6M501.2 233.22h1.6" stroke="#111" stroke-width="0.8" fill="none"/>
<text x="500.7" y="355.35" font-size="10.2" text-anchor="middle" fill="#1a1a1a">-2</text>
<text x="537.15" y="355.35" font-size="10.2" text-anchor="middle" fill="#1a1a1a">-1</text>
<text x="574.1" y="355.35" font-size="10.2" text-anchor="middle" fill="#1a1a1a">0</text>
<text x="610.55" y="355.35" font-size="10.2" text-anchor="middle" fill="#1a1a1a">1</text>
<text x="647" y="355.35" font-size="10.2" text-anchor="middle" fill="#1a1a1a">2</text>
<text x="498.2" y="333.89" font-size="10.2" text-anchor="end" fill="#1a1a1a">-40</text>
<text x="498.2" y="306.17" font-size="10.2" text-anchor="end" fill="#1a1a1a">-20</text>
<text x="498.2" y="278.45" font-size="10.2" text-anchor="end" fill="#1a1a1a">0</text>
<text x="498.2" y="250.73" font-size="10.2" text-anchor="end" fill="#1a1a1a">20</text>
<text x="498.2" y="223.01" font-size="10.2" text-anchor="end" fill="#1a1a1a">40</text>
<text x="574.4" y="371.5" font-size="12" text-anchor="middle" fill="#1a1a1a"><tspan font-style="italic">V</tspan><tspan font-size="8.4" dy="2.6">int</tspan><tspan dy="-2.6"> (V)</tspan></text>
<text transform="translate(477 274.3) rotate(-90)" font-size="12" text-anchor="middle" fill="#1a1a1a"><tspan font-style="italic">V</tspan><tspan font-size="8.4" dy="2.6">BG</tspan><tspan dy="-2.6"> (V)</tspan></text>
<text x="506.5" y="202.68" font-size="8.6" text-anchor="middle" fill="#ff00ff">QNP</text>
<text x="545.2" y="202.68" font-size="8.6" text-anchor="middle" fill="#f5821f">SNP</text>
<text x="566.9" y="202.68" font-size="8.6" text-anchor="middle" fill="#1a1a1a">CNP</text>
<text x="590.4" y="202.68" font-size="8.6" text-anchor="middle" fill="#f5821f">SNP</text>
<text x="629.2" y="202.68" font-size="8.6" text-anchor="middle" fill="#ff00ff">QNP</text>
<defs><linearGradient id="cbf" x1="0" y1="0" x2="0" y2="1"><stop offset="0" stop-color="#c80000"/><stop offset="0.03" stop-color="#fc0404"/><stop offset="0.5" stop-color="#ffffff"/><stop offset="1" stop-color="#0606fc"/></linearGradient></defs>
<rect x="658" y="205.8" width="4.6" height="138.1" fill="url(#cbf)" stroke="#555" stroke-width="0.6"/>
<path d="M662.6 208h2.6" stroke="#222" stroke-width="0.7"/>
<text x="666.8" y="211.01" font-size="8.4" text-anchor="start" fill="#1a1a1a">500</text>
<path d="M662.6 275h2.6" stroke="#222" stroke-width="0.7"/>
<text x="666.8" y="278.01" font-size="8.4" text-anchor="start" fill="#1a1a1a">250</text>
<path d="M662.6 342.3h2.6" stroke="#222" stroke-width="0.7"/>
<text x="666.8" y="345.31" font-size="8.4" text-anchor="start" fill="#1a1a1a">0</text>
<text x="660" y="198.2" font-size="9.6" text-anchor="middle" fill="#1a1a1a"><tspan font-style="italic">R</tspan><tspan font-size="6.4" dy="2">MG</tspan><tspan dy="-2"> (&#937;)</tspan></text>
<defs><radialGradient id="aglow" cx="0.5" cy="0.45" r="0.6"><stop offset="0" stop-color="#e6eef8"/><stop offset="0.6" stop-color="#f3f7fb"/><stop offset="1" stop-color="#ffffff"/></radialGradient><linearGradient id="subtop" x1="0" y1="0" x2="1" y2="0"><stop offset="0" stop-color="#bfc4c8"/><stop offset="0.5" stop-color="#d2d6d9"/><stop offset="1" stop-color="#e4e7e9"/></linearGradient></defs>
<rect x="0" y="0" width="215" height="200" fill="url(#aglow)"/>
<text x="0.3" y="17" font-size="17.2" font-weight="bold" fill="#1a1010">a</text>
<polygon points="2.2,60.9 99.5,47.7 210.8,75.7 113.5,88.9" fill="url(#subtop)"/>
<polygon points="2.2,60.9 113.5,88.9 113.5,94.2 2.2,66.2" fill="#70767a"/>
<polygon points="113.5,88.9 210.8,75.7 210.8,80.1 113.5,94.2" fill="#52585c"/>
<polygon points="2.2,66.2 113.5,94.2 113.5,104.2 2.2,76.2" fill="#b4b9bc"/>
<polygon points="113.5,94.2 210.8,80.1 210.8,89.2 113.5,104.2" fill="#9ea4a8"/>
<polygon points="43.1,17.2 107.4,7.1 172.1,22.4 172.1,70.6 108.2,79.4 43.1,64.4" fill="#529ccb"/>
<polygon points="43.1,52 108.2,65.2 108.2,79.4 43.1,64.4" fill="#57a0ce"/>
<polygon points="108.2,65.2 172.1,57.6 172.1,70.6 108.2,79.4" fill="#519bcb"/>
<polygon points="43.1,33.8 108.2,48 108.2,60.4 43.1,48" fill="#57a0ce"/>
<polygon points="108.2,48 172.1,39 172.1,53.8 108.2,60.4" fill="#519bcb"/>
<polygon points="43.1,17.2 108.2,31.7 108.2,43.4 43.1,29.8" fill="#57a0ce"/>
<polygon points="108.2,31.7 172.1,22.4 172.1,35.2 108.2,43.4" fill="#519bcb"/>
<polygon points="42.5,29.49 108.2,43.22 173.7,34.75 173.7,38.85 108.2,48.18 42.5,33.81" fill="#787d81"/>
<polygon points="42.5,30.93 108.2,44.87 173.7,36.12 173.7,37.48 108.2,46.53 42.5,32.37" fill="#cfd3d7"/>
<polygon points="42.5,47.69 108.2,60.21 173.7,53.35 173.7,57.45 108.2,65.39 42.5,52.01" fill="#787d81"/>
<polygon points="42.5,49.13 108.2,61.94 173.7,54.72 173.7,56.08 108.2,63.66 42.5,50.57" fill="#cfd3d7"/>
<polygon points="43.1,17.2 107.4,7.1 172.1,22.4 108.2,31.7" fill="#5fa9d7"/>
<polygon points="43.1,29.8 107.4,20 172.1,35.2 108.2,43.4" fill="#2f7fb8" opacity="0.28"/>
<polygon points="43.1,48 107.4,38.5 172.1,53.8 108.2,60.4" fill="#2f7fb8" opacity="0.25"/>
<polygon points="43.1,64.4 107.4,56 172.1,70.6 108.2,79.4" fill="#2f7fb8" opacity="0.18"/>
<path d="M108.2 31.7V43.4 M108.2 48V60.4 M108.2 65.2V79.4" stroke="#9ccbe8" stroke-width="0.6" opacity="0.8"/>
<text transform="translate(60.6 39.6) skewY(12.5)" font-size="8.0" fill="#f4f8fb" text-anchor="middle">MG</text>
<text transform="translate(57.6 56.2) skewY(12.5)" font-size="8.0" fill="#f4f8fb" text-anchor="middle">G</text>
<text transform="translate(100 39) skewY(12.5)" font-size="8.1" fill="#f4f8fb" text-anchor="middle">hBN</text>
<text transform="translate(100 56) skewY(12.5)" font-size="8.1" fill="#f4f8fb" text-anchor="middle">hBN</text>
<text transform="translate(100 73.2) skewY(12.5)" font-size="8.1" fill="#f4f8fb" text-anchor="middle">hBN</text>
<text transform="translate(27.7 77.3) skewY(13.5)" font-size="8" fill="#2a2a2a" text-anchor="middle">SiO<tspan font-size="5.2" dy="1.3">2</tspan><tspan dy="-1.3">/Si</tspan></text>
<path d="M173.8 37.5H190.7V44.4 M190.7 48.2V61.7 M173.8 55.8H190.7 M190.7 65.3V72.7" fill="none" stroke="#3a3a3a" stroke-width="0.8"/>
<path d="M187.7 44.4H193.3 M187.7 61.7H193.3" stroke="#333" stroke-width="1.5"/>
<path d="M184.8 48.2H196.2 M184.8 65.3H196.2" stroke="#333" stroke-width="0.9"/>
<text x="198.6" y="48.8" font-size="10" fill="#222"><tspan font-style="italic">V</tspan><tspan font-size="6.4" dy="1.3">int</tspan></text>
<text x="198.6" y="66.8" font-size="10" fill="#222"><tspan font-style="italic">V</tspan><tspan font-size="5.6" dy="1.3" fill="#555">BG</tspan></text>
<defs><marker id="ah" viewBox="0 0 10 10" refX="9" refY="5" markerWidth="5.5" markerHeight="5.5" orient="auto"><path d="M0 1.2L10 5L0 8.8L2.5 5z" fill="#2a2a2a"/></marker></defs>
<path d="M86.9 43.3L57.8 116.9" stroke="#2a2a2a" stroke-width="0.7" marker-end="url(#ah)"/>
<path d="M142.4 62.7L163 115.5" stroke="#2a2a2a" stroke-width="0.7" marker-end="url(#ah)"/>
<defs><pattern id="hexr" patternUnits="userSpaceOnUse" x="20.05" y="128.5" width="6.6" height="3.08"><path d="M0 1.54L1.1 0H3.3L4.4 1.54L3.3 3.08H1.1L0 1.54 M4.4 1.54H6.6 M1.1 0H3.3" fill="none" stroke="#ea1f30" stroke-width="0.8"/></pattern>
<pattern id="circg" patternUnits="userSpaceOnUse" width="3.55" height="6.15">
<circle cx="0" cy="0" r="1.85" fill="#ffffff" fill-opacity="0.3" stroke="#7a7a7a" stroke-width="0.48"/>
<circle cx="3.55" cy="0" r="1.85" fill="#ffffff" fill-opacity="0.3" stroke="#7a7a7a" stroke-width="0.48"/>
<circle cx="1.77" cy="3.07" r="1.85" fill="#ffffff" fill-opacity="0.3" stroke="#7a7a7a" stroke-width="0.48"/>
<circle cx="0" cy="6.15" r="1.85" fill="#ffffff" fill-opacity="0.3" stroke="#7a7a7a" stroke-width="0.48"/>
<circle cx="3.55" cy="6.15" r="1.85" fill="#ffffff" fill-opacity="0.3" stroke="#7a7a7a" stroke-width="0.48"/>
</pattern>
<pattern id="circh" patternUnits="userSpaceOnUse" width="3.55" height="6.15">
<circle cx="0" cy="0" r="1.85" fill="#ffffff" fill-opacity="0.9" stroke="#767676" stroke-width="0.45"/>
<circle cx="3.55" cy="0" r="1.85" fill="#ffffff" fill-opacity="0.9" stroke="#767676" stroke-width="0.45"/>
<circle cx="1.77" cy="3.07" r="1.85" fill="#ffffff" fill-opacity="0.9" stroke="#767676" stroke-width="0.45"/>
<circle cx="0" cy="6.15" r="1.85" fill="#ffffff" fill-opacity="0.9" stroke="#767676" stroke-width="0.45"/>
<circle cx="3.55" cy="6.15" r="1.85" fill="#ffffff" fill-opacity="0.9" stroke="#767676" stroke-width="0.45"/>
</pattern>
</defs>
<rect x="20.05" y="128.5" width="79.2" height="58.52" fill="url(#hexr)"/>
<g transform="translate(26.2 123.6) rotate(-9)"><rect x="0" y="0" width="58.6" height="72.9" fill="#909090" fill-opacity="0.10"/><rect x="0" y="0" width="58.6" height="72.9" fill="url(#circg)"/></g>
<g transform="translate(127.3 135) rotate(-12.3)"><rect x="0" y="0" width="56.6" height="61.5" fill="#e4e4e4"/><rect x="0" y="0" width="56.6" height="61.5" fill="url(#circh)"/></g>
<defs><marker id="ahr" viewBox="0 0 10 10" refX="8" refY="5" markerWidth="5" markerHeight="5" orient="auto"><path d="M0 1L10 5L0 9z" fill="#e8283c"/></marker><marker id="ahk" viewBox="0 0 10 10" refX="8" refY="5" markerWidth="5" markerHeight="5" orient="auto"><path d="M0 1L10 5L0 9z" fill="#222"/></marker></defs>
<path d="M99 155.2H11.5" stroke="#e8283c" stroke-width="0.9" stroke-dasharray="2.2 1.6" marker-end="url(#ahr)"/>
<path d="M105.4 152.5L12 165.5" stroke="#222" stroke-width="0.9" stroke-dasharray="2.2 1.6" marker-end="url(#ahk)"/>
<text x="7.5" y="164.0" font-size="8.6" font-style="italic" fill="#222" text-anchor="middle">&#952;</text>
<text x="21.4" y="198.6" font-size="9.5" text-anchor="middle" fill="#e8283c">hBN</text>
<text x="97.2" y="199.9" font-size="9.5" text-anchor="middle" fill="#333">BLG</text>
<text x="195.6" y="200.2" font-size="9.5" text-anchor="middle" fill="#333">BLG</text>
<text x="-0.4" y="232" font-size="17.2" font-weight="bold" fill="#1a1010">b</text>
<defs><clipPath id="bclip"><rect x="31.8" y="227.9" width="160.2" height="140.3"/></clipPath>
<linearGradient id="bbg" x1="1" y1="0" x2="0" y2="1"><stop offset="0" stop-color="#82798a"/><stop offset="0.45" stop-color="#746d7e"/><stop offset="1" stop-color="#6b6576"/></linearGradient>
<filter id="bblur" x="-5%" y="-5%" width="110%" height="110%"><feGaussianBlur stdDeviation="0.45"/></filter></defs>
<g clip-path="url(#bclip)">
<rect x="31.8" y="227.9" width="160.2" height="140.3" fill="url(#bbg)"/>
<g filter="url(#bblur)">
<polygon points="73,286.6 102.6,289.4 114.6,295 114.6,297 101,294.2 73,293" fill="#8fc3ee"/>
<polygon points="67,299.4 90,301 101,301.4 113.8,304.6 113,308.6 101,305.9 90,305.4 67,304.6" fill="#8fc3ee"/>
<polygon points="71,311.8 90,312 101,311.6 113,313.6 113,318.4 101,316.8 90,316.6 71,317.4" fill="#8fc3ee"/>
<polygon points="124.2,281.4 146.6,281.4 146.6,287 125,286.2" fill="#8fc3ee"/>
<polygon points="134.6,294.2 150.6,295.8 150.6,303.8 137.8,299.8" fill="#8fc3ee"/>
<polygon points="93.6,263 101,262.4 107.4,289.4 110,291 104.2,292.8 103,290" fill="#4b6fc6" stroke="#6a30b0" stroke-width="0.7" stroke-linejoin="round"/>
<polygon points="114.6,261.4 122.6,260.6 125,271 123.4,280.6 118.6,280.6 119.4,271.8" fill="#4b6fc6" stroke="#6a30b0" stroke-width="0.7" stroke-linejoin="round"/>
<polygon points="112,318.6 118.6,318.6 117.8,344.5 111,344.5" fill="#4b6fc6" stroke="#6a30b0" stroke-width="0.7" stroke-linejoin="round"/>
<path d="M121 307 C128 307.5 129 311 129.6 319 L131.6 347.5" fill="none" stroke="#6a30b0" stroke-width="5.2"/>
<path d="M121 307 C128 307.5 129 311 129.6 319 L131.6 347.5" fill="none" stroke="#4b6fc6" stroke-width="3.8"/>
<polygon points="130.5,296 136.6,296 149.8,342 143,344.4" fill="#4b6fc6" stroke="#6a30b0" stroke-width="0.7" stroke-linejoin="round"/>
<polygon points="103.4,290.6 134.6,293.6 136.6,297.6 133,297.2 104.2,293.4" fill="#a283da" stroke="#6a30b0" stroke-width="0.6" stroke-linejoin="round"/>
<polygon points="118.6,280.6 124,280.6 122.4,295 121,318.6 112.4,318.6 114.4,300 116.4,290" fill="#a283da" stroke="#6a30b0" stroke-width="0.7" stroke-linejoin="round"/>
<polygon points="77.6,227 95,227 99.4,240 101,262.4 91.4,263.4 84,238" fill="#f0edaa"/>
<polygon points="102.4,227 118,227 122.2,260.4 113,261.6 108,241" fill="#f0edaa"/>
<polygon points="31,270 36,269.4 73,286 73,293.2 46,292 47,284 31,278" fill="#f0edaa"/>
<polygon points="31,295.4 67,299 67,304.8 31,306.8" fill="#f0edaa"/>
<polygon points="31,318.8 48,310 71,311.4 71,317.6 50,318 31,329.4" fill="#f0edaa"/>
<polygon points="193,260.6 166,275 147,279 146.2,287.4 148,289.4 166,285.4 193,276" fill="#f0edaa"/>
<polygon points="150.4,295 160,294.6 193,321.6 193,335.6 160,308.2 151,305.4" fill="#f0edaa"/>
<polygon points="107,344 120.4,345 121.4,369 102.6,369" fill="#f0edaa"/>
<polygon points="127,347.2 138,346 140.4,369 125.6,369" fill="#f0edaa"/>
<polygon points="142.4,344.2 153.2,341.4 162.6,369 145.4,369" fill="#f0edaa"/>
<circle cx="59" cy="347.4" r="1.7" fill="#4f74c8"/>
</g>
<rect x="46" y="356.6" width="29.6" height="3.8" fill="#ffffff"/>
</g>
<text x="35.0" y="250.9" font-size="13.9" fill="#141414">SiO<tspan font-size="8.6">2</tspan>/Si</text>
<text x="126.8" y="262.7" font-size="13.4" font-weight="bold" fill="#7a34b4">MG layer</text>
<text x="62.8" y="333.5" font-size="13.5" font-weight="bold" fill="#1aa3ea">G layer</text>
</svg>
</body></html>
